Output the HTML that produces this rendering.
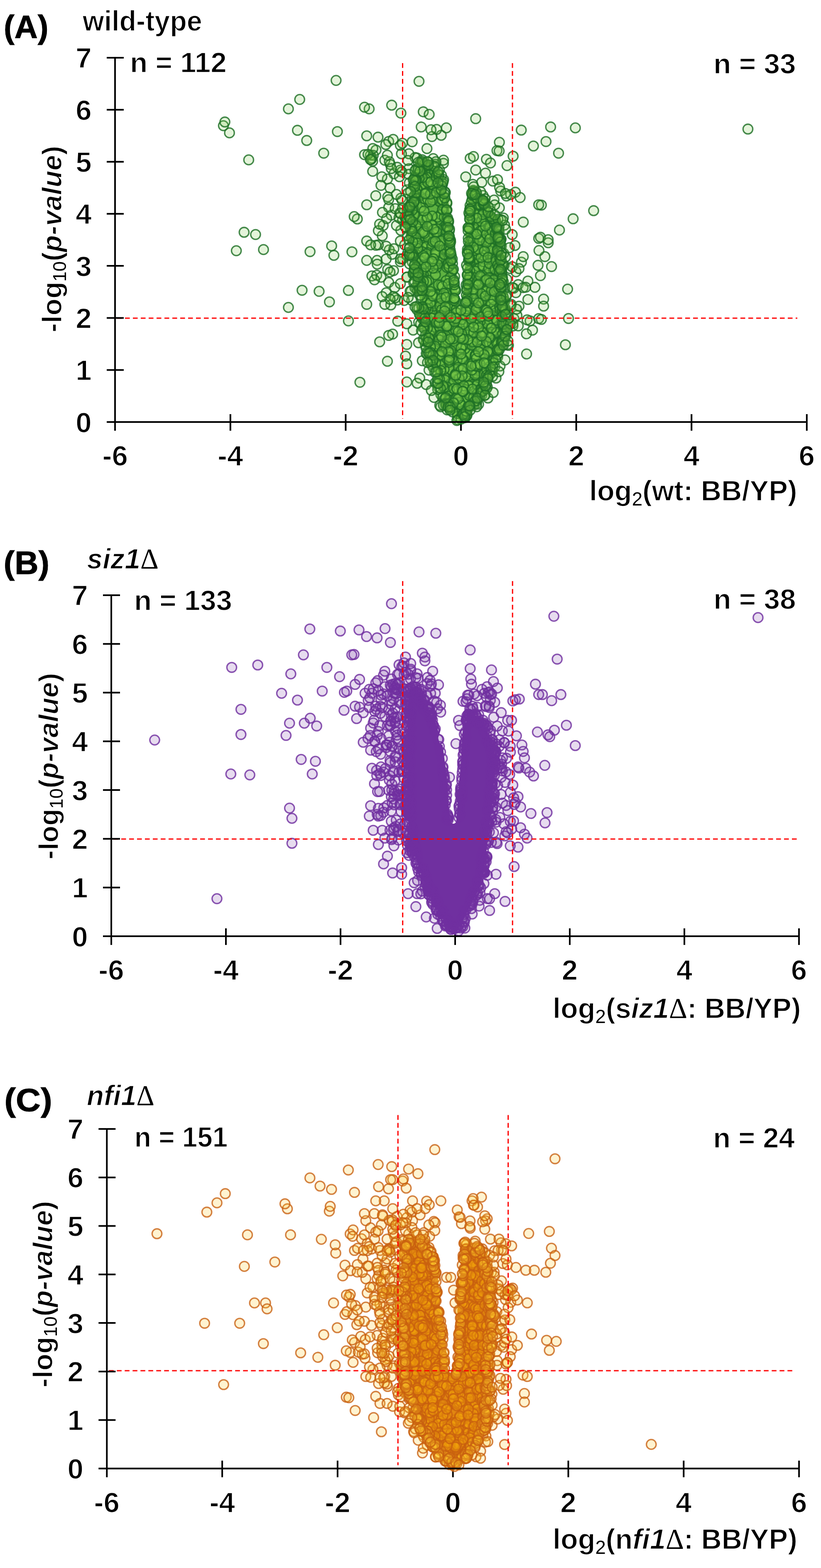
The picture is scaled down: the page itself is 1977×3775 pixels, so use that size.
<!DOCTYPE html>
<html><head><meta charset="utf-8"><style>
html,body{margin:0;padding:0;background:#fff;}
svg{display:block;}
</style></head><body>
<svg width="1977" height="3775" viewBox="0 0 1977 3775">
<rect width="1977" height="3775" fill="#fff"/>
<g stroke="#000" stroke-width="4" fill="none">
<line x1="554.8" y1="997" x2="554.8" y2="1037"/>
<line x1="832.4" y1="997" x2="832.4" y2="1037"/>
<line x1="1110.0" y1="997" x2="1110.0" y2="1037"/>
</g><path d="M1074.1,455.7 1073.1,455.5 1072.2,455.1 1071.3,454.7 1070.5,454.2 1069.7,453.6 1069.0,453.0 1068.4,452.3 1067.8,451.5 1067.3,450.7 1066.9,449.8 1066.5,448.9 1054.5,409.9 1040.3,393.5 1015.8,387.6 1005.0,399.5 993.8,458.4 984.0,518.9 986.9,609.2 1008.6,701.8 1008.7,702.2 1008.8,702.5 1008.9,703.2 1008.9,703.5 1009.0,703.9 1013.9,768.0 1028.6,836.6 1045.5,896.2 1045.5,896.2 1045.5,896.2 1045.5,896.2 1059.3,945.6 1068.4,969.3 1084.8,992.1 1098.9,1007.0 1110.0,1013.7 1119.8,1007.8 1130.0,990.8 1130.2,990.5 1130.3,990.3 1130.5,990.0 1148.4,964.1 1165.8,938.1 1179.3,909.1 1197.0,870.8 1212.3,825.9 1218.9,766.8 1214.1,706.2 1208.1,643.3 1208.0,643.2 1208.0,643.1 1208.0,642.9 1204.1,581.8 1192.8,523.6 1169.0,489.8 1142.2,460.1 1139.4,458.6 1137.1,462.0 1136.6,462.8 1135.9,463.6 1135.1,464.2 1134.3,464.8 1133.5,465.3 1132.6,465.7 1131.6,466.1 1130.7,466.3 1130.4,466.3 1125.0,503.8 1119.7,557.2 1121.5,609.8 1121.5,610.5 1119.0,646.4 1117.8,681.2 1116.5,735.2 1116.4,735.8 1116.3,736.5 1116.2,737.2 1115.9,737.8 1115.6,738.4 1115.3,739.0 1114.9,739.5 1114.4,740.0 1113.9,740.5 1113.3,740.9 1112.8,741.2 1112.1,741.5 1111.5,741.7 1110.8,741.9 1110.2,742.0 1109.5,742.0 1108.8,742.0 1108.2,741.9 1107.5,741.7 1106.9,741.5 1106.2,741.2 1105.7,740.9 1105.1,740.5 1104.6,740.0 1104.1,739.5 1103.7,739.0 1103.4,738.4 1103.1,737.8 1102.8,737.2 1102.7,736.5 1102.6,735.8 1102.5,735.2 1101.2,681.4 1098.6,646.9 1091.6,611.3 1091.5,610.5 1088.0,557.6 1082.7,503.9 1074.7,455.8 1074.1,455.7Z" fill="rgb(95,178,65)"/>
<g fill="rgba(125,205,75,0.35)" stroke="rgba(30,112,38,0.82)" stroke-width="3.3">
<circle cx="1021.6" cy="758.5" r="11.7"/><circle cx="1181.6" cy="523.8" r="11.7"/><circle cx="1131.2" cy="848.9" r="11.7"/><circle cx="1042.7" cy="479.2" r="11.7"/><circle cx="992.3" cy="538.3" r="11.7"/><circle cx="1020.6" cy="645.9" r="11.7"/><circle cx="1137.1" cy="630.0" r="11.7"/><circle cx="1035.8" cy="558.0" r="11.7"/><circle cx="1173.4" cy="558.1" r="11.7"/><circle cx="1017.7" cy="748.2" r="11.7"/><circle cx="1135.9" cy="902.8" r="11.7"/><circle cx="1159.0" cy="913.0" r="11.7"/><circle cx="1100.5" cy="912.2" r="11.7"/><circle cx="1052.0" cy="616.6" r="11.7"/><circle cx="1136.9" cy="747.7" r="11.7"/><circle cx="1176.5" cy="831.9" r="11.7"/><circle cx="1178.0" cy="726.4" r="11.7"/><circle cx="1138.6" cy="528.6" r="11.7"/><circle cx="1065.4" cy="956.7" r="11.7"/><circle cx="1074.3" cy="635.5" r="11.7"/><circle cx="1084.5" cy="889.9" r="11.7"/><circle cx="1069.6" cy="562.5" r="11.7"/><circle cx="1069.0" cy="546.5" r="11.7"/><circle cx="1154.9" cy="562.7" r="11.7"/><circle cx="1164.6" cy="516.8" r="11.7"/><circle cx="1056.5" cy="772.8" r="11.7"/><circle cx="1139.9" cy="661.3" r="11.7"/><circle cx="1199.6" cy="598.4" r="11.7"/><circle cx="1068.5" cy="508.4" r="11.7"/><circle cx="1062.5" cy="783.8" r="11.7"/><circle cx="1148.1" cy="530.4" r="11.7"/><circle cx="1170.3" cy="669.6" r="11.7"/><circle cx="1027.7" cy="423.1" r="11.7"/><circle cx="988.2" cy="502.9" r="11.7"/><circle cx="1179.5" cy="678.5" r="11.7"/><circle cx="1038.8" cy="578.1" r="11.7"/><circle cx="1030.3" cy="708.3" r="11.7"/><circle cx="1075.2" cy="969.6" r="11.7"/><circle cx="1168.7" cy="710.2" r="11.7"/><circle cx="1069.8" cy="575.3" r="11.7"/><circle cx="990.6" cy="561.3" r="11.7"/><circle cx="1055.2" cy="427.6" r="11.7"/><circle cx="1054.2" cy="777.3" r="11.7"/><circle cx="1019.7" cy="662.2" r="11.7"/><circle cx="991.1" cy="573.2" r="11.7"/><circle cx="1074.2" cy="541.4" r="11.7"/><circle cx="1098.3" cy="899.0" r="11.7"/><circle cx="1080.8" cy="947.9" r="11.7"/><circle cx="1161.3" cy="569.0" r="11.7"/><circle cx="1161.5" cy="792.9" r="11.7"/><circle cx="1069.7" cy="772.1" r="11.7"/><circle cx="1075.1" cy="706.0" r="11.7"/><circle cx="1172.0" cy="579.0" r="11.7"/><circle cx="1014.9" cy="643.7" r="11.7"/><circle cx="994.1" cy="607.6" r="11.7"/><circle cx="1151.6" cy="908.9" r="11.7"/><circle cx="1056.2" cy="775.7" r="11.7"/><circle cx="1036.2" cy="754.9" r="11.7"/><circle cx="1015.2" cy="762.0" r="11.7"/><circle cx="1083.2" cy="781.5" r="11.7"/><circle cx="1093.9" cy="820.6" r="11.7"/><circle cx="1074.8" cy="626.6" r="11.7"/><circle cx="1025.4" cy="620.4" r="11.7"/><circle cx="1059.8" cy="455.7" r="11.7"/><circle cx="1015.9" cy="738.7" r="11.7"/><circle cx="1162.4" cy="578.4" r="11.7"/><circle cx="1177.8" cy="563.8" r="11.7"/><circle cx="1196.5" cy="691.0" r="11.7"/><circle cx="1084.1" cy="759.2" r="11.7"/><circle cx="1065.2" cy="744.4" r="11.7"/><circle cx="1083.9" cy="638.1" r="11.7"/><circle cx="1099.9" cy="937.9" r="11.7"/><circle cx="1095.8" cy="939.6" r="11.7"/><circle cx="1043.0" cy="481.1" r="11.7"/><circle cx="1153.2" cy="732.0" r="11.7"/><circle cx="1208.7" cy="832.3" r="11.7"/><circle cx="1001.0" cy="541.6" r="11.7"/><circle cx="1061.4" cy="516.3" r="11.7"/><circle cx="1154.1" cy="873.6" r="11.7"/><circle cx="1073.8" cy="731.9" r="11.7"/><circle cx="1016.4" cy="392.9" r="11.7"/><circle cx="1115.3" cy="785.8" r="11.7"/><circle cx="1188.7" cy="648.8" r="11.7"/><circle cx="1066.6" cy="746.3" r="11.7"/><circle cx="1173.5" cy="558.3" r="11.7"/><circle cx="997.6" cy="473.6" r="11.7"/><circle cx="1084.6" cy="722.0" r="11.7"/><circle cx="1193.3" cy="529.5" r="11.7"/><circle cx="1141.2" cy="891.6" r="11.7"/><circle cx="1210.7" cy="710.7" r="11.7"/><circle cx="1051.9" cy="709.8" r="11.7"/><circle cx="1149.9" cy="518.3" r="11.7"/><circle cx="1129.4" cy="851.6" r="11.7"/><circle cx="1031.9" cy="418.2" r="11.7"/><circle cx="1165.0" cy="914.1" r="11.7"/><circle cx="1135.7" cy="694.2" r="11.7"/><circle cx="1176.0" cy="658.6" r="11.7"/><circle cx="1065.7" cy="785.3" r="11.7"/><circle cx="1157.7" cy="579.6" r="11.7"/><circle cx="1040.9" cy="400.2" r="11.7"/><circle cx="1062.3" cy="686.1" r="11.7"/><circle cx="1031.0" cy="590.9" r="11.7"/><circle cx="1065.7" cy="803.1" r="11.7"/><circle cx="1171.8" cy="611.9" r="11.7"/><circle cx="1127.2" cy="917.5" r="11.7"/><circle cx="1115.4" cy="866.3" r="11.7"/><circle cx="1095.3" cy="724.5" r="11.7"/><circle cx="1171.0" cy="591.1" r="11.7"/><circle cx="1014.6" cy="651.9" r="11.7"/><circle cx="1190.4" cy="670.1" r="11.7"/><circle cx="1175.7" cy="665.6" r="11.7"/><circle cx="1163.7" cy="645.9" r="11.7"/><circle cx="1100.9" cy="781.1" r="11.7"/><circle cx="1058.0" cy="787.5" r="11.7"/><circle cx="1101.2" cy="866.7" r="11.7"/><circle cx="1021.7" cy="635.8" r="11.7"/><circle cx="1079.4" cy="547.4" r="11.7"/><circle cx="1046.7" cy="561.6" r="11.7"/><circle cx="1175.0" cy="829.0" r="11.7"/><circle cx="1139.9" cy="625.8" r="11.7"/><circle cx="1184.6" cy="804.8" r="11.7"/><circle cx="1058.5" cy="743.7" r="11.7"/><circle cx="1119.4" cy="839.7" r="11.7"/><circle cx="1154.7" cy="938.7" r="11.7"/><circle cx="1031.0" cy="440.6" r="11.7"/><circle cx="1208.3" cy="657.6" r="11.7"/><circle cx="1146.7" cy="476.7" r="11.7"/><circle cx="1144.8" cy="854.2" r="11.7"/><circle cx="1042.6" cy="445.2" r="11.7"/><circle cx="1162.3" cy="606.2" r="11.7"/><circle cx="1177.0" cy="622.2" r="11.7"/><circle cx="1027.1" cy="814.2" r="11.7"/><circle cx="1055.7" cy="745.8" r="11.7"/><circle cx="1187.6" cy="741.2" r="11.7"/><circle cx="1186.1" cy="766.8" r="11.7"/><circle cx="1069.7" cy="906.3" r="11.7"/><circle cx="1203.7" cy="668.2" r="11.7"/><circle cx="1158.8" cy="896.0" r="11.7"/><circle cx="1093.7" cy="866.8" r="11.7"/><circle cx="1211.7" cy="790.0" r="11.7"/><circle cx="1066.4" cy="589.0" r="11.7"/><circle cx="1084.4" cy="688.8" r="11.7"/><circle cx="1083.1" cy="812.2" r="11.7"/><circle cx="1038.8" cy="469.3" r="11.7"/><circle cx="1036.3" cy="833.1" r="11.7"/><circle cx="1078.8" cy="849.1" r="11.7"/><circle cx="1082.5" cy="810.6" r="11.7"/><circle cx="1196.2" cy="823.0" r="11.7"/><circle cx="1126.4" cy="906.7" r="11.7"/><circle cx="1040.0" cy="753.0" r="11.7"/><circle cx="1100.2" cy="865.3" r="11.7"/><circle cx="1177.9" cy="566.4" r="11.7"/><circle cx="1066.0" cy="849.6" r="11.7"/><circle cx="1142.0" cy="685.6" r="11.7"/><circle cx="1064.9" cy="927.8" r="11.7"/><circle cx="1061.3" cy="872.5" r="11.7"/><circle cx="1121.3" cy="905.7" r="11.7"/><circle cx="1078.9" cy="734.1" r="11.7"/><circle cx="1086.9" cy="745.0" r="11.7"/><circle cx="1154.4" cy="825.5" r="11.7"/><circle cx="1103.7" cy="884.0" r="11.7"/><circle cx="1094.8" cy="665.9" r="11.7"/><circle cx="1073.5" cy="939.3" r="11.7"/><circle cx="1166.9" cy="673.2" r="11.7"/><circle cx="1060.1" cy="616.9" r="11.7"/><circle cx="1018.4" cy="669.6" r="11.7"/><circle cx="1082.6" cy="962.7" r="11.7"/><circle cx="1156.5" cy="832.4" r="11.7"/><circle cx="1078.1" cy="756.9" r="11.7"/><circle cx="1056.6" cy="615.0" r="11.7"/><circle cx="1157.9" cy="493.6" r="11.7"/><circle cx="996.8" cy="448.4" r="11.7"/><circle cx="1011.5" cy="541.0" r="11.7"/><circle cx="1070.8" cy="474.6" r="11.7"/><circle cx="1109.5" cy="976.4" r="11.7"/><circle cx="1081.5" cy="831.9" r="11.7"/><circle cx="1090.3" cy="650.4" r="11.7"/><circle cx="1064.4" cy="483.8" r="11.7"/><circle cx="1003.1" cy="643.6" r="11.7"/><circle cx="1186.0" cy="891.9" r="11.7"/><circle cx="1012.2" cy="471.6" r="11.7"/><circle cx="1180.5" cy="790.1" r="11.7"/><circle cx="1082.9" cy="824.8" r="11.7"/><circle cx="1044.4" cy="737.1" r="11.7"/><circle cx="1018.1" cy="455.4" r="11.7"/><circle cx="1010.3" cy="697.5" r="11.7"/><circle cx="1206.9" cy="706.1" r="11.7"/><circle cx="1087.6" cy="806.4" r="11.7"/><circle cx="1109.4" cy="924.5" r="11.7"/><circle cx="1044.6" cy="841.3" r="11.7"/><circle cx="1164.5" cy="623.6" r="11.7"/><circle cx="1081.8" cy="846.4" r="11.7"/><circle cx="1163.4" cy="514.6" r="11.7"/><circle cx="1178.4" cy="760.4" r="11.7"/><circle cx="1060.7" cy="824.2" r="11.7"/><circle cx="1077.8" cy="801.1" r="11.7"/><circle cx="1180.0" cy="805.1" r="11.7"/><circle cx="1154.0" cy="817.0" r="11.7"/><circle cx="1071.6" cy="915.1" r="11.7"/><circle cx="1122.3" cy="991.2" r="11.7"/><circle cx="1116.6" cy="965.5" r="11.7"/><circle cx="1196.1" cy="824.3" r="11.7"/><circle cx="1175.5" cy="548.0" r="11.7"/><circle cx="1067.4" cy="495.8" r="11.7"/><circle cx="1131.7" cy="746.8" r="11.7"/><circle cx="1048.0" cy="612.2" r="11.7"/><circle cx="1029.2" cy="767.5" r="11.7"/><circle cx="1095.0" cy="790.0" r="11.7"/><circle cx="1069.4" cy="889.2" r="11.7"/><circle cx="1011.3" cy="425.3" r="11.7"/><circle cx="1039.4" cy="766.3" r="11.7"/><circle cx="1007.8" cy="469.9" r="11.7"/><circle cx="1144.4" cy="653.0" r="11.7"/><circle cx="998.7" cy="639.7" r="11.7"/><circle cx="987.7" cy="548.1" r="11.7"/><circle cx="1114.3" cy="831.3" r="11.7"/><circle cx="1110.5" cy="890.7" r="11.7"/><circle cx="1198.4" cy="860.0" r="11.7"/><circle cx="1014.4" cy="446.3" r="11.7"/><circle cx="1089.0" cy="822.9" r="11.7"/><circle cx="1058.7" cy="858.5" r="11.7"/><circle cx="1056.5" cy="632.7" r="11.7"/><circle cx="1104.8" cy="909.8" r="11.7"/><circle cx="1145.8" cy="746.5" r="11.7"/><circle cx="1199.3" cy="594.7" r="11.7"/><circle cx="1074.5" cy="837.9" r="11.7"/><circle cx="1135.0" cy="819.5" r="11.7"/><circle cx="1016.7" cy="561.4" r="11.7"/><circle cx="1138.9" cy="667.0" r="11.7"/><circle cx="1196.4" cy="689.8" r="11.7"/><circle cx="1024.7" cy="571.0" r="11.7"/><circle cx="1045.3" cy="622.8" r="11.7"/><circle cx="1132.6" cy="753.0" r="11.7"/><circle cx="1162.4" cy="809.2" r="11.7"/><circle cx="1160.0" cy="611.6" r="11.7"/><circle cx="1165.8" cy="702.4" r="11.7"/><circle cx="1140.6" cy="971.1" r="11.7"/><circle cx="1129.7" cy="691.1" r="11.7"/><circle cx="1072.2" cy="974.5" r="11.7"/><circle cx="1035.8" cy="635.3" r="11.7"/><circle cx="1142.0" cy="702.0" r="11.7"/><circle cx="1067.8" cy="585.2" r="11.7"/><circle cx="1166.0" cy="891.8" r="11.7"/><circle cx="1029.5" cy="734.8" r="11.7"/><circle cx="1147.9" cy="899.2" r="11.7"/><circle cx="1062.5" cy="877.2" r="11.7"/><circle cx="1159.0" cy="693.7" r="11.7"/><circle cx="1086.7" cy="615.8" r="11.7"/><circle cx="1017.1" cy="419.2" r="11.7"/><circle cx="1056.8" cy="829.9" r="11.7"/><circle cx="1051.0" cy="644.8" r="11.7"/><circle cx="1143.3" cy="569.6" r="11.7"/><circle cx="1132.1" cy="582.9" r="11.7"/><circle cx="1154.7" cy="482.7" r="11.7"/><circle cx="1128.9" cy="877.4" r="11.7"/><circle cx="1098.6" cy="786.9" r="11.7"/><circle cx="1057.9" cy="616.3" r="11.7"/><circle cx="1030.5" cy="745.3" r="11.7"/><circle cx="1075.8" cy="781.9" r="11.7"/><circle cx="1167.1" cy="875.2" r="11.7"/><circle cx="1082.9" cy="981.5" r="11.7"/><circle cx="1103.5" cy="753.2" r="11.7"/><circle cx="1172.2" cy="756.2" r="11.7"/><circle cx="1020.0" cy="590.7" r="11.7"/><circle cx="1197.3" cy="799.8" r="11.7"/><circle cx="1209.7" cy="720.8" r="11.7"/><circle cx="1147.6" cy="719.0" r="11.7"/><circle cx="1042.5" cy="708.7" r="11.7"/><circle cx="1025.5" cy="488.5" r="11.7"/><circle cx="1087.8" cy="653.3" r="11.7"/><circle cx="1184.4" cy="800.4" r="11.7"/><circle cx="1170.7" cy="697.1" r="11.7"/><circle cx="1112.8" cy="817.4" r="11.7"/><circle cx="1036.2" cy="807.6" r="11.7"/><circle cx="1128.6" cy="929.2" r="11.7"/><circle cx="1112.1" cy="781.8" r="11.7"/><circle cx="1141.4" cy="569.1" r="11.7"/><circle cx="1088.5" cy="652.9" r="11.7"/><circle cx="1182.7" cy="671.7" r="11.7"/><circle cx="1158.8" cy="725.1" r="11.7"/><circle cx="1085.9" cy="734.6" r="11.7"/><circle cx="1048.3" cy="617.9" r="11.7"/><circle cx="1130.2" cy="952.2" r="11.7"/><circle cx="1025.9" cy="564.3" r="11.7"/><circle cx="1113.3" cy="769.2" r="11.7"/><circle cx="1095.4" cy="906.6" r="11.7"/><circle cx="1186.3" cy="844.6" r="11.7"/><circle cx="1212.9" cy="724.2" r="11.7"/><circle cx="1206.9" cy="742.1" r="11.7"/><circle cx="1171.5" cy="662.9" r="11.7"/><circle cx="1053.7" cy="624.9" r="11.7"/><circle cx="1013.1" cy="499.3" r="11.7"/><circle cx="1135.2" cy="617.4" r="11.7"/><circle cx="1130.4" cy="752.9" r="11.7"/><circle cx="1005.8" cy="665.5" r="11.7"/><circle cx="1082.0" cy="736.8" r="11.7"/><circle cx="1081.2" cy="872.1" r="11.7"/><circle cx="1023.4" cy="783.3" r="11.7"/><circle cx="1192.8" cy="568.3" r="11.7"/><circle cx="1039.5" cy="765.5" r="11.7"/><circle cx="1115.6" cy="887.1" r="11.7"/><circle cx="1054.9" cy="557.7" r="11.7"/><circle cx="1061.1" cy="854.4" r="11.7"/><circle cx="1180.5" cy="648.5" r="11.7"/><circle cx="1172.8" cy="654.6" r="11.7"/><circle cx="1049.2" cy="462.4" r="11.7"/><circle cx="1202.7" cy="626.3" r="11.7"/><circle cx="1095.7" cy="694.8" r="11.7"/><circle cx="1173.8" cy="680.6" r="11.7"/><circle cx="1188.4" cy="649.1" r="11.7"/><circle cx="1025.6" cy="740.6" r="11.7"/><circle cx="1136.8" cy="574.2" r="11.7"/><circle cx="1040.1" cy="711.3" r="11.7"/><circle cx="1112.0" cy="936.1" r="11.7"/><circle cx="1084.8" cy="578.1" r="11.7"/><circle cx="1147.6" cy="735.3" r="11.7"/><circle cx="1152.1" cy="492.0" r="11.7"/><circle cx="1200.8" cy="727.7" r="11.7"/><circle cx="1074.8" cy="619.8" r="11.7"/><circle cx="1074.2" cy="522.5" r="11.7"/><circle cx="1130.6" cy="591.2" r="11.7"/><circle cx="988.6" cy="539.4" r="11.7"/><circle cx="1128.8" cy="604.0" r="11.7"/><circle cx="1173.8" cy="545.9" r="11.7"/><circle cx="1066.6" cy="825.3" r="11.7"/><circle cx="1041.5" cy="598.1" r="11.7"/><circle cx="1165.5" cy="694.5" r="11.7"/><circle cx="1018.0" cy="523.5" r="11.7"/><circle cx="1021.2" cy="747.9" r="11.7"/><circle cx="1056.1" cy="685.9" r="11.7"/><circle cx="1125.9" cy="738.8" r="11.7"/><circle cx="1142.3" cy="780.9" r="11.7"/><circle cx="1170.4" cy="872.8" r="11.7"/><circle cx="1193.8" cy="802.2" r="11.7"/><circle cx="1127.6" cy="737.7" r="11.7"/><circle cx="1188.5" cy="720.3" r="11.7"/><circle cx="998.9" cy="438.6" r="11.7"/><circle cx="1155.7" cy="875.7" r="11.7"/><circle cx="1171.4" cy="562.6" r="11.7"/><circle cx="1030.7" cy="566.9" r="11.7"/><circle cx="992.0" cy="614.2" r="11.7"/><circle cx="1074.1" cy="704.8" r="11.7"/><circle cx="1159.5" cy="677.0" r="11.7"/><circle cx="1130.6" cy="672.8" r="11.7"/><circle cx="1029.6" cy="398.1" r="11.7"/><circle cx="1196.1" cy="697.6" r="11.7"/><circle cx="1017.5" cy="595.4" r="11.7"/><circle cx="1044.3" cy="564.0" r="11.7"/><circle cx="1091.7" cy="920.3" r="11.7"/><circle cx="1142.8" cy="514.6" r="11.7"/><circle cx="1128.6" cy="928.3" r="11.7"/><circle cx="1055.0" cy="772.4" r="11.7"/><circle cx="1136.3" cy="831.2" r="11.7"/><circle cx="1178.8" cy="848.6" r="11.7"/><circle cx="1022.9" cy="479.1" r="11.7"/><circle cx="1180.2" cy="604.0" r="11.7"/><circle cx="995.2" cy="572.1" r="11.7"/><circle cx="1172.7" cy="700.3" r="11.7"/><circle cx="1070.3" cy="716.7" r="11.7"/><circle cx="1146.4" cy="961.3" r="11.7"/><circle cx="1088.0" cy="862.9" r="11.7"/><circle cx="1131.4" cy="652.5" r="11.7"/><circle cx="1072.3" cy="598.3" r="11.7"/><circle cx="1158.6" cy="667.1" r="11.7"/><circle cx="1082.7" cy="940.3" r="11.7"/><circle cx="1051.0" cy="430.1" r="11.7"/><circle cx="1027.7" cy="426.7" r="11.7"/><circle cx="1127.2" cy="659.1" r="11.7"/><circle cx="1188.8" cy="630.5" r="11.7"/><circle cx="1128.1" cy="547.5" r="11.7"/><circle cx="1027.4" cy="780.5" r="11.7"/><circle cx="1163.8" cy="542.0" r="11.7"/><circle cx="1057.1" cy="610.6" r="11.7"/><circle cx="1192.5" cy="585.8" r="11.7"/><circle cx="1091.6" cy="676.5" r="11.7"/><circle cx="1150.5" cy="749.7" r="11.7"/><circle cx="990.4" cy="569.6" r="11.7"/><circle cx="1177.1" cy="518.4" r="11.7"/><circle cx="1120.5" cy="937.8" r="11.7"/><circle cx="1152.4" cy="544.3" r="11.7"/><circle cx="1061.5" cy="949.9" r="11.7"/><circle cx="1050.2" cy="812.4" r="11.7"/><circle cx="1181.1" cy="563.7" r="11.7"/><circle cx="1076.4" cy="931.6" r="11.7"/><circle cx="1043.6" cy="472.2" r="11.7"/><circle cx="1190.6" cy="738.1" r="11.7"/><circle cx="1176.6" cy="759.2" r="11.7"/><circle cx="1146.9" cy="475.3" r="11.7"/><circle cx="1138.5" cy="713.3" r="11.7"/><circle cx="1030.1" cy="480.2" r="11.7"/><circle cx="1050.9" cy="776.1" r="11.7"/><circle cx="1105.8" cy="911.8" r="11.7"/><circle cx="1005.5" cy="456.6" r="11.7"/><circle cx="1047.9" cy="635.6" r="11.7"/><circle cx="1209.8" cy="750.7" r="11.7"/><circle cx="1031.2" cy="572.9" r="11.7"/><circle cx="1187.2" cy="868.1" r="11.7"/><circle cx="1071.2" cy="959.4" r="11.7"/><circle cx="1141.7" cy="941.3" r="11.7"/><circle cx="1201.5" cy="639.4" r="11.7"/><circle cx="1029.5" cy="721.2" r="11.7"/><circle cx="1147.1" cy="878.1" r="11.7"/><circle cx="1069.6" cy="598.5" r="11.7"/><circle cx="1106.7" cy="968.6" r="11.7"/><circle cx="1045.2" cy="470.6" r="11.7"/><circle cx="997.3" cy="651.3" r="11.7"/><circle cx="1055.5" cy="807.5" r="11.7"/><circle cx="1207.4" cy="807.4" r="11.7"/><circle cx="1053.2" cy="522.9" r="11.7"/><circle cx="1166.0" cy="601.0" r="11.7"/><circle cx="1016.7" cy="698.7" r="11.7"/><circle cx="1148.6" cy="701.2" r="11.7"/><circle cx="1150.3" cy="623.2" r="11.7"/><circle cx="1073.1" cy="551.2" r="11.7"/><circle cx="1060.7" cy="730.2" r="11.7"/><circle cx="1170.6" cy="533.0" r="11.7"/><circle cx="1151.2" cy="525.7" r="11.7"/><circle cx="1027.2" cy="526.6" r="11.7"/><circle cx="1117.9" cy="797.8" r="11.7"/><circle cx="1052.4" cy="627.6" r="11.7"/><circle cx="1075.7" cy="863.2" r="11.7"/><circle cx="1099.4" cy="743.4" r="11.7"/><circle cx="1083.7" cy="861.0" r="11.7"/><circle cx="1040.9" cy="541.6" r="11.7"/><circle cx="1085.7" cy="849.6" r="11.7"/><circle cx="1094.8" cy="697.2" r="11.7"/><circle cx="1179.3" cy="754.6" r="11.7"/><circle cx="1128.8" cy="783.5" r="11.7"/><circle cx="1046.7" cy="412.6" r="11.7"/><circle cx="1128.8" cy="797.9" r="11.7"/><circle cx="1063.1" cy="487.7" r="11.7"/><circle cx="1084.2" cy="668.0" r="11.7"/><circle cx="1076.1" cy="489.8" r="11.7"/><circle cx="1158.1" cy="706.6" r="11.7"/><circle cx="1074.2" cy="675.6" r="11.7"/><circle cx="1036.6" cy="636.0" r="11.7"/><circle cx="1105.7" cy="849.6" r="11.7"/><circle cx="1189.4" cy="818.4" r="11.7"/><circle cx="1215.7" cy="793.5" r="11.7"/><circle cx="1143.5" cy="747.2" r="11.7"/><circle cx="1095.8" cy="902.3" r="11.7"/><circle cx="1032.6" cy="630.6" r="11.7"/><circle cx="1007.9" cy="598.6" r="11.7"/><circle cx="1160.0" cy="849.1" r="11.7"/><circle cx="1018.4" cy="768.4" r="11.7"/><circle cx="1163.5" cy="629.7" r="11.7"/><circle cx="1187.8" cy="721.7" r="11.7"/><circle cx="1099.4" cy="831.8" r="11.7"/><circle cx="1185.2" cy="542.9" r="11.7"/><circle cx="1167.9" cy="499.2" r="11.7"/><circle cx="1120.2" cy="1005.7" r="11.7"/><circle cx="1026.1" cy="742.0" r="11.7"/><circle cx="1147.6" cy="812.6" r="11.7"/><circle cx="1196.2" cy="800.3" r="11.7"/><circle cx="1070.1" cy="553.0" r="11.7"/><circle cx="1190.3" cy="682.9" r="11.7"/><circle cx="1144.3" cy="902.5" r="11.7"/><circle cx="1165.5" cy="800.8" r="11.7"/><circle cx="1213.7" cy="812.1" r="11.7"/><circle cx="1092.7" cy="935.5" r="11.7"/><circle cx="1111.5" cy="976.0" r="11.7"/><circle cx="1014.7" cy="403.0" r="11.7"/><circle cx="1149.1" cy="926.9" r="11.7"/><circle cx="1058.2" cy="485.1" r="11.7"/><circle cx="1026.7" cy="593.5" r="11.7"/><circle cx="1136.2" cy="890.9" r="11.7"/><circle cx="1113.0" cy="905.1" r="11.7"/><circle cx="1014.5" cy="699.7" r="11.7"/><circle cx="1002.8" cy="606.1" r="11.7"/><circle cx="1053.4" cy="593.7" r="11.7"/><circle cx="1061.8" cy="581.3" r="11.7"/><circle cx="1113.6" cy="809.7" r="11.7"/><circle cx="1023.0" cy="429.1" r="11.7"/><circle cx="1029.8" cy="439.1" r="11.7"/><circle cx="1015.7" cy="529.8" r="11.7"/><circle cx="1168.2" cy="745.5" r="11.7"/><circle cx="1113.5" cy="863.8" r="11.7"/><circle cx="1162.6" cy="639.6" r="11.7"/><circle cx="1157.5" cy="571.1" r="11.7"/><circle cx="1067.0" cy="483.0" r="11.7"/><circle cx="1126.9" cy="548.1" r="11.7"/><circle cx="1156.4" cy="807.1" r="11.7"/><circle cx="1023.9" cy="751.6" r="11.7"/><circle cx="1042.3" cy="475.3" r="11.7"/><circle cx="1161.5" cy="786.0" r="11.7"/><circle cx="1126.9" cy="713.5" r="11.7"/><circle cx="1157.8" cy="841.3" r="11.7"/><circle cx="998.2" cy="439.2" r="11.7"/><circle cx="1197.4" cy="666.3" r="11.7"/><circle cx="1134.7" cy="603.7" r="11.7"/><circle cx="1176.8" cy="646.6" r="11.7"/><circle cx="1149.7" cy="791.8" r="11.7"/><circle cx="1138.5" cy="823.3" r="11.7"/><circle cx="1035.6" cy="807.3" r="11.7"/><circle cx="1076.4" cy="505.7" r="11.7"/><circle cx="1012.5" cy="425.6" r="11.7"/><circle cx="1149.7" cy="823.5" r="11.7"/><circle cx="1054.2" cy="587.8" r="11.7"/><circle cx="1148.3" cy="677.0" r="11.7"/><circle cx="1054.1" cy="606.2" r="11.7"/><circle cx="1110.2" cy="837.7" r="11.7"/><circle cx="1174.0" cy="778.8" r="11.7"/><circle cx="1015.2" cy="626.2" r="11.7"/><circle cx="1139.9" cy="579.7" r="11.7"/><circle cx="995.0" cy="502.0" r="11.7"/><circle cx="1156.6" cy="555.5" r="11.7"/><circle cx="1178.3" cy="561.7" r="11.7"/><circle cx="1164.0" cy="614.8" r="11.7"/><circle cx="1090.2" cy="965.6" r="11.7"/><circle cx="1132.1" cy="628.9" r="11.7"/><circle cx="1041.0" cy="520.1" r="11.7"/><circle cx="1095.3" cy="773.3" r="11.7"/><circle cx="1069.0" cy="933.1" r="11.7"/><circle cx="1131.9" cy="494.6" r="11.7"/><circle cx="1074.8" cy="718.5" r="11.7"/><circle cx="1059.6" cy="736.9" r="11.7"/><circle cx="1086.0" cy="625.2" r="11.7"/><circle cx="1147.0" cy="879.7" r="11.7"/><circle cx="1193.4" cy="559.5" r="11.7"/><circle cx="1199.0" cy="615.7" r="11.7"/><circle cx="1211.9" cy="687.1" r="11.7"/><circle cx="1014.8" cy="656.0" r="11.7"/><circle cx="1142.9" cy="760.8" r="11.7"/><circle cx="1039.2" cy="541.1" r="11.7"/><circle cx="1058.2" cy="912.3" r="11.7"/><circle cx="1149.5" cy="563.7" r="11.7"/><circle cx="1041.2" cy="481.8" r="11.7"/><circle cx="1032.5" cy="675.0" r="11.7"/><circle cx="1084.1" cy="758.7" r="11.7"/><circle cx="1134.8" cy="499.6" r="11.7"/><circle cx="1099.7" cy="957.8" r="11.7"/><circle cx="1185.8" cy="825.9" r="11.7"/><circle cx="998.3" cy="451.6" r="11.7"/><circle cx="1036.1" cy="729.0" r="11.7"/><circle cx="1009.4" cy="557.6" r="11.7"/><circle cx="1184.3" cy="598.2" r="11.7"/><circle cx="1086.0" cy="771.5" r="11.7"/><circle cx="1037.8" cy="797.2" r="11.7"/><circle cx="1028.9" cy="523.4" r="11.7"/><circle cx="1044.3" cy="627.6" r="11.7"/><circle cx="1177.8" cy="668.4" r="11.7"/><circle cx="1081.7" cy="860.1" r="11.7"/><circle cx="1174.0" cy="846.5" r="11.7"/><circle cx="1006.3" cy="651.3" r="11.7"/><circle cx="1016.8" cy="427.7" r="11.7"/><circle cx="1097.2" cy="903.6" r="11.7"/><circle cx="1199.6" cy="825.2" r="11.7"/><circle cx="1002.5" cy="543.6" r="11.7"/><circle cx="1164.1" cy="887.8" r="11.7"/><circle cx="1065.3" cy="689.2" r="11.7"/><circle cx="1042.3" cy="712.6" r="11.7"/><circle cx="1138.5" cy="706.9" r="11.7"/><circle cx="1143.8" cy="856.0" r="11.7"/><circle cx="1051.3" cy="605.0" r="11.7"/><circle cx="1125.2" cy="718.0" r="11.7"/><circle cx="1069.0" cy="599.2" r="11.7"/><circle cx="1058.9" cy="622.3" r="11.7"/><circle cx="1075.2" cy="974.8" r="11.7"/><circle cx="1196.4" cy="826.5" r="11.7"/><circle cx="1161.6" cy="943.1" r="11.7"/><circle cx="1142.0" cy="768.2" r="11.7"/><circle cx="1027.3" cy="678.2" r="11.7"/><circle cx="1145.7" cy="856.4" r="11.7"/><circle cx="1039.7" cy="593.0" r="11.7"/><circle cx="1147.0" cy="612.3" r="11.7"/><circle cx="1099.1" cy="742.9" r="11.7"/><circle cx="1180.7" cy="813.7" r="11.7"/><circle cx="1083.0" cy="983.6" r="11.7"/><circle cx="1061.6" cy="807.0" r="11.7"/><circle cx="1091.4" cy="794.4" r="11.7"/><circle cx="1169.0" cy="712.6" r="11.7"/><circle cx="1198.5" cy="853.5" r="11.7"/><circle cx="1137.9" cy="762.9" r="11.7"/><circle cx="1166.1" cy="863.5" r="11.7"/><circle cx="1197.5" cy="681.6" r="11.7"/><circle cx="1024.8" cy="464.7" r="11.7"/><circle cx="1081.9" cy="603.5" r="11.7"/><circle cx="1096.8" cy="794.5" r="11.7"/><circle cx="1083.2" cy="591.3" r="11.7"/><circle cx="1152.8" cy="682.9" r="11.7"/><circle cx="1079.5" cy="682.9" r="11.7"/><circle cx="1158.4" cy="620.1" r="11.7"/><circle cx="1137.3" cy="478.3" r="11.7"/><circle cx="1183.2" cy="732.6" r="11.7"/><circle cx="1029.3" cy="607.8" r="11.7"/><circle cx="1057.7" cy="818.0" r="11.7"/><circle cx="1165.4" cy="491.7" r="11.7"/><circle cx="1157.1" cy="943.4" r="11.7"/><circle cx="1137.7" cy="757.8" r="11.7"/><circle cx="1047.2" cy="613.4" r="11.7"/><circle cx="1183.4" cy="699.6" r="11.7"/><circle cx="1126.7" cy="817.7" r="11.7"/><circle cx="1019.7" cy="677.8" r="11.7"/><circle cx="1208.1" cy="648.4" r="11.7"/><circle cx="1130.7" cy="666.4" r="11.7"/><circle cx="1178.4" cy="634.6" r="11.7"/><circle cx="1068.9" cy="706.4" r="11.7"/><circle cx="1000.5" cy="584.7" r="11.7"/><circle cx="1156.2" cy="664.3" r="11.7"/><circle cx="1037.1" cy="847.8" r="11.7"/><circle cx="1021.1" cy="507.8" r="11.7"/><circle cx="1191.8" cy="648.3" r="11.7"/><circle cx="1070.1" cy="779.1" r="11.7"/><circle cx="1080.5" cy="784.4" r="11.7"/><circle cx="1156.3" cy="773.9" r="11.7"/><circle cx="1137.9" cy="875.4" r="11.7"/><circle cx="1112.1" cy="803.4" r="11.7"/><circle cx="1140.5" cy="956.2" r="11.7"/><circle cx="1061.8" cy="434.9" r="11.7"/><circle cx="1085.3" cy="844.1" r="11.7"/><circle cx="1063.1" cy="579.3" r="11.7"/><circle cx="1116.4" cy="816.5" r="11.7"/><circle cx="1157.0" cy="936.7" r="11.7"/><circle cx="1069.7" cy="522.7" r="11.7"/><circle cx="1191.6" cy="747.9" r="11.7"/><circle cx="1079.7" cy="640.0" r="11.7"/><circle cx="1063.2" cy="745.8" r="11.7"/><circle cx="1166.5" cy="527.7" r="11.7"/><circle cx="1075.3" cy="786.1" r="11.7"/><circle cx="1142.3" cy="603.2" r="11.7"/><circle cx="1033.3" cy="814.0" r="11.7"/><circle cx="1056.2" cy="932.8" r="11.7"/><circle cx="1178.1" cy="811.5" r="11.7"/><circle cx="1132.0" cy="623.6" r="11.7"/><circle cx="1103.3" cy="960.1" r="11.7"/><circle cx="1161.5" cy="554.3" r="11.7"/><circle cx="1041.9" cy="871.8" r="11.7"/><circle cx="1058.2" cy="855.6" r="11.7"/><circle cx="1062.5" cy="718.6" r="11.7"/><circle cx="989.3" cy="494.3" r="11.7"/><circle cx="1097.7" cy="725.8" r="11.7"/><circle cx="997.7" cy="517.9" r="11.7"/><circle cx="1168.3" cy="675.1" r="11.7"/><circle cx="1150.1" cy="882.5" r="11.7"/><circle cx="988.0" cy="547.8" r="11.7"/><circle cx="1063.7" cy="480.4" r="11.7"/><circle cx="1120.4" cy="757.9" r="11.7"/><circle cx="1021.2" cy="556.4" r="11.7"/><circle cx="1188.5" cy="674.1" r="11.7"/><circle cx="1196.4" cy="771.0" r="11.7"/><circle cx="1171.3" cy="584.0" r="11.7"/><circle cx="1171.5" cy="747.4" r="11.7"/><circle cx="1158.9" cy="532.8" r="11.7"/><circle cx="1016.8" cy="606.0" r="11.7"/><circle cx="1048.2" cy="612.3" r="11.7"/><circle cx="1022.0" cy="561.6" r="11.7"/><circle cx="1203.1" cy="739.0" r="11.7"/><circle cx="1151.5" cy="599.9" r="11.7"/><circle cx="1076.3" cy="644.0" r="11.7"/><circle cx="1036.5" cy="485.8" r="11.7"/><circle cx="1147.2" cy="862.6" r="11.7"/><circle cx="1036.4" cy="467.2" r="11.7"/><circle cx="1183.8" cy="897.6" r="11.7"/><circle cx="1177.2" cy="547.6" r="11.7"/><circle cx="1166.5" cy="604.9" r="11.7"/><circle cx="1154.5" cy="578.9" r="11.7"/><circle cx="1140.7" cy="800.4" r="11.7"/><circle cx="1021.9" cy="760.2" r="11.7"/><circle cx="1140.1" cy="696.6" r="11.7"/><circle cx="1179.9" cy="547.7" r="11.7"/><circle cx="1018.2" cy="559.1" r="11.7"/><circle cx="1123.0" cy="710.3" r="11.7"/><circle cx="1203.6" cy="716.8" r="11.7"/><circle cx="1076.0" cy="785.1" r="11.7"/><circle cx="1002.4" cy="643.8" r="11.7"/><circle cx="1165.6" cy="901.1" r="11.7"/><circle cx="1149.6" cy="878.3" r="11.7"/><circle cx="1119.3" cy="758.6" r="11.7"/><circle cx="1171.2" cy="822.4" r="11.7"/><circle cx="1162.1" cy="516.7" r="11.7"/><circle cx="1059.7" cy="760.1" r="11.7"/><circle cx="1196.8" cy="577.9" r="11.7"/><circle cx="1165.9" cy="854.1" r="11.7"/><circle cx="1150.8" cy="780.7" r="11.7"/><circle cx="1140.0" cy="595.3" r="11.7"/><circle cx="1144.3" cy="880.8" r="11.7"/><circle cx="1093.4" cy="723.3" r="11.7"/><circle cx="1124.2" cy="743.9" r="11.7"/><circle cx="1202.7" cy="684.3" r="11.7"/><circle cx="1001.4" cy="571.4" r="11.7"/><circle cx="1077.3" cy="819.2" r="11.7"/><circle cx="1115.0" cy="780.9" r="11.7"/><circle cx="991.5" cy="490.2" r="11.7"/><circle cx="1052.6" cy="550.8" r="11.7"/><circle cx="1051.0" cy="463.9" r="11.7"/><circle cx="1027.4" cy="611.4" r="11.7"/><circle cx="1000.9" cy="611.6" r="11.7"/><circle cx="1171.4" cy="563.5" r="11.7"/><circle cx="1064.4" cy="446.3" r="11.7"/><circle cx="1121.5" cy="728.4" r="11.7"/><circle cx="1155.9" cy="877.6" r="11.7"/><circle cx="1072.8" cy="828.3" r="11.7"/><circle cx="1066.7" cy="928.8" r="11.7"/><circle cx="1201.3" cy="696.0" r="11.7"/><circle cx="1185.1" cy="556.7" r="11.7"/><circle cx="1162.2" cy="801.0" r="11.7"/><circle cx="1147.4" cy="563.5" r="11.7"/><circle cx="1051.4" cy="558.6" r="11.7"/><circle cx="1140.7" cy="719.3" r="11.7"/><circle cx="1036.5" cy="701.9" r="11.7"/><circle cx="1025.1" cy="396.7" r="11.7"/><circle cx="1175.1" cy="619.7" r="11.7"/><circle cx="1152.2" cy="685.4" r="11.7"/><circle cx="1134.7" cy="767.8" r="11.7"/><circle cx="1047.4" cy="833.3" r="11.7"/><circle cx="1098.8" cy="752.5" r="11.7"/><circle cx="1088.1" cy="979.1" r="11.7"/><circle cx="1116.7" cy="929.0" r="11.7"/><circle cx="1110.4" cy="852.4" r="11.7"/><circle cx="1036.9" cy="835.0" r="11.7"/><circle cx="1150.2" cy="946.4" r="11.7"/><circle cx="1080.0" cy="847.0" r="11.7"/><circle cx="1044.9" cy="552.0" r="11.7"/><circle cx="1042.8" cy="582.4" r="11.7"/><circle cx="1152.1" cy="846.5" r="11.7"/><circle cx="1019.7" cy="615.6" r="11.7"/><circle cx="1081.6" cy="867.2" r="11.7"/><circle cx="1190.4" cy="702.1" r="11.7"/><circle cx="1022.4" cy="620.2" r="11.7"/><circle cx="1122.1" cy="749.3" r="11.7"/><circle cx="1048.7" cy="607.9" r="11.7"/><circle cx="1147.2" cy="466.7" r="11.7"/><circle cx="1152.7" cy="789.1" r="11.7"/><circle cx="1072.3" cy="738.7" r="11.7"/><circle cx="1146.6" cy="745.2" r="11.7"/><circle cx="1164.0" cy="927.3" r="11.7"/><circle cx="1084.2" cy="629.8" r="11.7"/><circle cx="1157.7" cy="763.0" r="11.7"/><circle cx="1048.0" cy="581.0" r="11.7"/><circle cx="1115.5" cy="942.7" r="11.7"/><circle cx="1147.9" cy="524.9" r="11.7"/><circle cx="1005.8" cy="598.1" r="11.7"/><circle cx="1204.0" cy="746.0" r="11.7"/><circle cx="1194.4" cy="622.7" r="11.7"/><circle cx="1108.8" cy="813.5" r="11.7"/><circle cx="1005.1" cy="585.0" r="11.7"/><circle cx="1023.5" cy="466.5" r="11.7"/><circle cx="1100.4" cy="936.4" r="11.7"/><circle cx="1036.3" cy="854.8" r="11.7"/><circle cx="1094.7" cy="774.8" r="11.7"/><circle cx="1175.8" cy="761.1" r="11.7"/><circle cx="1070.6" cy="748.9" r="11.7"/><circle cx="1092.1" cy="970.0" r="11.7"/><circle cx="1065.5" cy="504.2" r="11.7"/><circle cx="1052.4" cy="416.6" r="11.7"/><circle cx="1075.5" cy="599.5" r="11.7"/><circle cx="1123.4" cy="638.4" r="11.7"/><circle cx="1101.9" cy="1002.5" r="11.7"/><circle cx="1048.6" cy="661.4" r="11.7"/><circle cx="1181.4" cy="507.8" r="11.7"/><circle cx="1053.3" cy="636.3" r="11.7"/><circle cx="1179.7" cy="574.9" r="11.7"/><circle cx="1109.8" cy="747.0" r="11.7"/><circle cx="1091.2" cy="815.9" r="11.7"/><circle cx="1029.3" cy="790.6" r="11.7"/><circle cx="1171.6" cy="673.0" r="11.7"/><circle cx="1139.9" cy="462.5" r="11.7"/><circle cx="1097.8" cy="766.8" r="11.7"/><circle cx="1174.6" cy="752.1" r="11.7"/><circle cx="1079.2" cy="634.9" r="11.7"/><circle cx="1094.3" cy="718.7" r="11.7"/><circle cx="1194.1" cy="628.5" r="11.7"/><circle cx="1075.4" cy="546.0" r="11.7"/><circle cx="1069.7" cy="612.4" r="11.7"/><circle cx="1061.3" cy="892.2" r="11.7"/><circle cx="1140.5" cy="787.6" r="11.7"/><circle cx="1042.9" cy="645.7" r="11.7"/><circle cx="1083.5" cy="816.3" r="11.7"/><circle cx="1043.9" cy="623.1" r="11.7"/><circle cx="1211.8" cy="750.4" r="11.7"/><circle cx="1172.1" cy="889.2" r="11.7"/><circle cx="1134.5" cy="881.4" r="11.7"/><circle cx="1074.1" cy="715.1" r="11.7"/><circle cx="1064.4" cy="846.5" r="11.7"/><circle cx="1137.5" cy="936.5" r="11.7"/><circle cx="1159.7" cy="808.9" r="11.7"/><circle cx="1209.1" cy="722.1" r="11.7"/><circle cx="1103.7" cy="798.5" r="11.7"/><circle cx="1131.0" cy="504.6" r="11.7"/><circle cx="1057.6" cy="777.1" r="11.7"/><circle cx="1040.6" cy="629.4" r="11.7"/><circle cx="998.0" cy="482.7" r="11.7"/><circle cx="1081.0" cy="642.3" r="11.7"/><circle cx="1183.3" cy="790.0" r="11.7"/><circle cx="1085.5" cy="763.7" r="11.7"/><circle cx="1025.4" cy="642.5" r="11.7"/><circle cx="1152.1" cy="729.4" r="11.7"/><circle cx="1028.7" cy="545.0" r="11.7"/><circle cx="1058.2" cy="763.9" r="11.7"/><circle cx="1037.6" cy="437.9" r="11.7"/><circle cx="1080.0" cy="535.6" r="11.7"/><circle cx="1063.6" cy="811.4" r="11.7"/><circle cx="1169.0" cy="544.3" r="11.7"/><circle cx="1058.6" cy="592.3" r="11.7"/><circle cx="1180.2" cy="681.4" r="11.7"/><circle cx="1084.1" cy="601.4" r="11.7"/><circle cx="1171.1" cy="875.5" r="11.7"/><circle cx="1113.9" cy="942.0" r="11.7"/><circle cx="1018.5" cy="696.4" r="11.7"/><circle cx="1165.8" cy="873.6" r="11.7"/>
</g>
<g fill="rgba(120,200,70,0.2)" stroke="rgba(30,112,38,0.82)" stroke-width="3.3">
<circle cx="1221.5" cy="751.4" r="11.7"/><circle cx="1182.5" cy="889.4" r="11.7"/><circle cx="1010.5" cy="680.6" r="11.7"/><circle cx="1006.7" cy="410.6" r="11.7"/><circle cx="1122.5" cy="686.0" r="11.7"/><circle cx="1008.2" cy="775.7" r="11.7"/><circle cx="1189.3" cy="536.6" r="11.7"/><circle cx="1125.3" cy="607.4" r="11.7"/><circle cx="926.7" cy="385.7" r="11.7"/><circle cx="1131.6" cy="527.9" r="11.7"/><circle cx="1160.2" cy="952.0" r="11.7"/><circle cx="1241.0" cy="462.7" r="11.7"/><circle cx="1208.6" cy="641.8" r="11.7"/><circle cx="1068.2" cy="432.4" r="11.7"/><circle cx="1135.1" cy="485.5" r="11.7"/><circle cx="1212.0" cy="524.8" r="11.7"/><circle cx="1224.3" cy="831.5" r="11.7"/><circle cx="1207.0" cy="823.7" r="11.7"/><circle cx="981.7" cy="567.9" r="11.7"/><circle cx="1197.8" cy="556.4" r="11.7"/><circle cx="1171.3" cy="383.5" r="11.7"/><circle cx="1214.5" cy="744.8" r="11.7"/><circle cx="948.5" cy="418.3" r="11.7"/><circle cx="1213.5" cy="794.1" r="11.7"/><circle cx="1085.1" cy="582.6" r="11.7"/><circle cx="1186.9" cy="436.0" r="11.7"/><circle cx="965.2" cy="554.5" r="11.7"/><circle cx="1015.1" cy="751.3" r="11.7"/><circle cx="941.1" cy="734.2" r="11.7"/><circle cx="1079.4" cy="531.0" r="11.7"/><circle cx="1058.9" cy="976.0" r="11.7"/><circle cx="1013.2" cy="679.1" r="11.7"/><circle cx="992.7" cy="613.7" r="11.7"/><circle cx="1206.6" cy="575.5" r="11.7"/><circle cx="1202.5" cy="500.3" r="11.7"/><circle cx="964.0" cy="409.6" r="11.7"/><circle cx="1183.9" cy="524.3" r="11.7"/><circle cx="990.5" cy="490.6" r="11.7"/><circle cx="1021.6" cy="761.1" r="11.7"/><circle cx="1073.8" cy="971.8" r="11.7"/><circle cx="1152.5" cy="973.2" r="11.7"/><circle cx="1082.1" cy="555.5" r="11.7"/><circle cx="1049.9" cy="425.2" r="11.7"/><circle cx="922.7" cy="542.8" r="11.7"/><circle cx="1067.8" cy="393.2" r="11.7"/><circle cx="1035.5" cy="871.5" r="11.7"/><circle cx="1219.5" cy="471.9" r="11.7"/><circle cx="1171.6" cy="903.5" r="11.7"/><circle cx="1130.7" cy="518.3" r="11.7"/><circle cx="1194.5" cy="546.0" r="11.7"/><circle cx="1015.9" cy="737.5" r="11.7"/><circle cx="1046.1" cy="399.0" r="11.7"/><circle cx="1089.7" cy="634.6" r="11.7"/><circle cx="1216.7" cy="795.0" r="11.7"/><circle cx="1229.7" cy="468.4" r="11.7"/><circle cx="1023.6" cy="399.7" r="11.7"/><circle cx="727.4" cy="698.8" r="11.7"/><circle cx="1301.4" cy="663.6" r="11.7"/><circle cx="1047.9" cy="921.5" r="11.7"/><circle cx="1361.5" cy="830.0" r="11.7"/><circle cx="1066.0" cy="441.7" r="11.7"/><circle cx="1127.1" cy="685.8" r="11.7"/><circle cx="974.3" cy="589.4" r="11.7"/><circle cx="1015.8" cy="717.5" r="11.7"/><circle cx="1028.1" cy="357.7" r="11.7"/><circle cx="1127.0" cy="984.4" r="11.7"/><circle cx="1029.4" cy="846.1" r="11.7"/><circle cx="587.8" cy="559.2" r="11.7"/><circle cx="1203.6" cy="594.3" r="11.7"/><circle cx="1043.3" cy="381.8" r="11.7"/><circle cx="1125.7" cy="600.2" r="11.7"/><circle cx="986.6" cy="499.1" r="11.7"/><circle cx="999.0" cy="426.4" r="11.7"/><circle cx="1237.5" cy="767.0" r="11.7"/><circle cx="746.6" cy="605.8" r="11.7"/><circle cx="1097.3" cy="699.4" r="11.7"/><circle cx="1062.4" cy="325.7" r="11.7"/><circle cx="1192.8" cy="562.4" r="11.7"/><circle cx="598.9" cy="384.9" r="11.7"/><circle cx="1202.5" cy="342.6" r="11.7"/><circle cx="982.0" cy="607.9" r="11.7"/><circle cx="1002.4" cy="407.0" r="11.7"/><circle cx="1063.0" cy="422.2" r="11.7"/><circle cx="1297.2" cy="574.0" r="11.7"/><circle cx="936.0" cy="679.8" r="11.7"/><circle cx="936.0" cy="340.5" r="11.7"/><circle cx="721.7" cy="239.4" r="11.7"/><circle cx="1295.6" cy="638.7" r="11.7"/><circle cx="1189.0" cy="873.7" r="11.7"/><circle cx="908.0" cy="626.9" r="11.7"/><circle cx="1216.4" cy="803.9" r="11.7"/><circle cx="1208.9" cy="747.5" r="11.7"/><circle cx="1022.6" cy="773.7" r="11.7"/><circle cx="634.5" cy="600.9" r="11.7"/><circle cx="1179.4" cy="902.1" r="11.7"/><circle cx="1141.1" cy="975.9" r="11.7"/><circle cx="991.5" cy="723.2" r="11.7"/><circle cx="1011.5" cy="411.2" r="11.7"/><circle cx="992.7" cy="477.7" r="11.7"/><circle cx="1102.8" cy="1010.4" r="11.7"/><circle cx="1024.3" cy="830.7" r="11.7"/><circle cx="982.8" cy="499.3" r="11.7"/><circle cx="994.2" cy="582.6" r="11.7"/><circle cx="980.4" cy="538.4" r="11.7"/><circle cx="1163.1" cy="470.6" r="11.7"/><circle cx="1181.1" cy="392.4" r="11.7"/><circle cx="1227.9" cy="646.5" r="11.7"/><circle cx="1203.3" cy="621.9" r="11.7"/><circle cx="1018.5" cy="391.2" r="11.7"/><circle cx="979.8" cy="457.1" r="11.7"/><circle cx="1123.9" cy="992.0" r="11.7"/><circle cx="1198.0" cy="432.5" r="11.7"/><circle cx="1199.0" cy="576.1" r="11.7"/><circle cx="1016.7" cy="765.2" r="11.7"/><circle cx="1233.4" cy="642.2" r="11.7"/><circle cx="1196.7" cy="362.6" r="11.7"/><circle cx="1002.8" cy="694.3" r="11.7"/><circle cx="1242.3" cy="704.6" r="11.7"/><circle cx="944.4" cy="612.2" r="11.7"/><circle cx="1249.8" cy="737.0" r="11.7"/><circle cx="1282.3" cy="794.8" r="11.7"/><circle cx="945.4" cy="804.4" r="11.7"/><circle cx="1198.0" cy="638.1" r="11.7"/><circle cx="1001.3" cy="654.7" r="11.7"/><circle cx="920.5" cy="567.7" r="11.7"/><circle cx="1100.9" cy="995.6" r="11.7"/><circle cx="994.8" cy="794.7" r="11.7"/><circle cx="1203.3" cy="685.4" r="11.7"/><circle cx="980.5" cy="666.8" r="11.7"/><circle cx="973.4" cy="723.4" r="11.7"/><circle cx="1022.1" cy="393.9" r="11.7"/><circle cx="892.0" cy="373.7" r="11.7"/><circle cx="1145.5" cy="285.7" r="11.7"/><circle cx="1006.3" cy="679.2" r="11.7"/><circle cx="929.8" cy="623.8" r="11.7"/><circle cx="1189.6" cy="481.5" r="11.7"/><circle cx="954.7" cy="542.8" r="11.7"/><circle cx="933.6" cy="648.7" r="11.7"/><circle cx="1162.1" cy="941.9" r="11.7"/><circle cx="1015.4" cy="698.9" r="11.7"/><circle cx="895.6" cy="664.3" r="11.7"/><circle cx="1004.2" cy="745.5" r="11.7"/><circle cx="1110.1" cy="1009.0" r="11.7"/><circle cx="937.3" cy="601.5" r="11.7"/><circle cx="1237.1" cy="693.8" r="11.7"/><circle cx="947.6" cy="651.5" r="11.7"/><circle cx="1255.6" cy="631.0" r="11.7"/><circle cx="1004.2" cy="380.3" r="11.7"/><circle cx="1213.4" cy="744.7" r="11.7"/><circle cx="1074.8" cy="307.9" r="11.7"/><circle cx="984.9" cy="506.8" r="11.7"/><circle cx="957.2" cy="722.2" r="11.7"/><circle cx="1166.3" cy="952.4" r="11.7"/><circle cx="1074.8" cy="506.7" r="11.7"/><circle cx="1139.6" cy="458.0" r="11.7"/><circle cx="1312.1" cy="617.8" r="11.7"/><circle cx="1097.0" cy="699.4" r="11.7"/><circle cx="1209.3" cy="670.1" r="11.7"/><circle cx="976.5" cy="857.3" r="11.7"/><circle cx="979.9" cy="532.6" r="11.7"/><circle cx="1046.7" cy="895.9" r="11.7"/><circle cx="942.3" cy="517.9" r="11.7"/><circle cx="1137.2" cy="469.8" r="11.7"/><circle cx="1175.1" cy="958.2" r="11.7"/><circle cx="1288.1" cy="691.7" r="11.7"/><circle cx="1221.5" cy="768.8" r="11.7"/><circle cx="904.9" cy="471.2" r="11.7"/><circle cx="1075.9" cy="487.4" r="11.7"/><circle cx="1205.6" cy="615.2" r="11.7"/><circle cx="1206.0" cy="577.2" r="11.7"/><circle cx="961.9" cy="425.5" r="11.7"/><circle cx="1056.8" cy="421.7" r="11.7"/><circle cx="1224.5" cy="763.0" r="11.7"/><circle cx="1203.3" cy="688.0" r="11.7"/><circle cx="964.1" cy="580.2" r="11.7"/><circle cx="1140.2" cy="460.5" r="11.7"/><circle cx="939.2" cy="452.6" r="11.7"/><circle cx="1271.2" cy="721.0" r="11.7"/><circle cx="1075.2" cy="505.1" r="11.7"/><circle cx="1126.8" cy="673.8" r="11.7"/><circle cx="1158.0" cy="479.5" r="11.7"/><circle cx="1284.5" cy="351.5" r="11.7"/><circle cx="950.6" cy="692.1" r="11.7"/><circle cx="1198.0" cy="599.6" r="11.7"/><circle cx="979.6" cy="667.4" r="11.7"/><circle cx="1091.8" cy="648.2" r="11.7"/><circle cx="1007.5" cy="420.1" r="11.7"/><circle cx="1012.5" cy="710.9" r="11.7"/><circle cx="1063.9" cy="448.4" r="11.7"/><circle cx="897.4" cy="412.4" r="11.7"/><circle cx="1191.4" cy="882.9" r="11.7"/><circle cx="1016.7" cy="384.6" r="11.7"/><circle cx="1048.4" cy="395.3" r="11.7"/><circle cx="979.4" cy="615.8" r="11.7"/><circle cx="1242.5" cy="654.4" r="11.7"/><circle cx="1100.1" cy="1012.4" r="11.7"/><circle cx="1132.2" cy="381.3" r="11.7"/><circle cx="1007.2" cy="682.5" r="11.7"/><circle cx="1051.3" cy="311.5" r="11.7"/><circle cx="999.5" cy="379.2" r="11.7"/><circle cx="1309.0" cy="720.1" r="11.7"/><circle cx="1160.1" cy="438.8" r="11.7"/><circle cx="1385.5" cy="307.9" r="11.7"/><circle cx="991.5" cy="551.5" r="11.7"/><circle cx="1089.2" cy="623.7" r="11.7"/><circle cx="1129.0" cy="512.5" r="11.7"/><circle cx="905.4" cy="361.3" r="11.7"/><circle cx="1171.5" cy="923.9" r="11.7"/><circle cx="993.0" cy="631.4" r="11.7"/><circle cx="980.6" cy="537.7" r="11.7"/><circle cx="1164.6" cy="485.8" r="11.7"/><circle cx="1085.7" cy="627.6" r="11.7"/><circle cx="940.0" cy="396.0" r="11.7"/><circle cx="1124.0" cy="1000.9" r="11.7"/><circle cx="1074.2" cy="974.4" r="11.7"/><circle cx="615.4" cy="564.6" r="11.7"/><circle cx="1003.8" cy="433.7" r="11.7"/><circle cx="1012.0" cy="391.6" r="11.7"/><circle cx="1012.9" cy="779.8" r="11.7"/><circle cx="914.2" cy="823.0" r="11.7"/><circle cx="1072.4" cy="463.7" r="11.7"/><circle cx="1009.1" cy="429.4" r="11.7"/><circle cx="965.5" cy="477.0" r="11.7"/><circle cx="1215.0" cy="542.0" r="11.7"/><circle cx="1009.1" cy="698.7" r="11.7"/><circle cx="984.6" cy="406.0" r="11.7"/><circle cx="1211.2" cy="729.1" r="11.7"/><circle cx="538.0" cy="302.6" r="11.7"/><circle cx="967.5" cy="413.6" r="11.7"/><circle cx="1194.4" cy="910.2" r="11.7"/><circle cx="1218.7" cy="777.8" r="11.7"/><circle cx="986.3" cy="635.3" r="11.7"/><circle cx="1271.2" cy="676.5" r="11.7"/><circle cx="1212.9" cy="609.8" r="11.7"/><circle cx="964.1" cy="682.9" r="11.7"/><circle cx="1124.0" cy="694.1" r="11.7"/><circle cx="888.9" cy="262.1" r="11.7"/><circle cx="1202.0" cy="557.7" r="11.7"/><circle cx="1320.1" cy="584.5" r="11.7"/><circle cx="1014.3" cy="305.7" r="11.7"/><circle cx="994.2" cy="610.7" r="11.7"/><circle cx="1038.2" cy="876.4" r="11.7"/><circle cx="877.8" cy="372.4" r="11.7"/><circle cx="1083.5" cy="578.7" r="11.7"/><circle cx="1186.1" cy="906.2" r="11.7"/><circle cx="1205.6" cy="528.9" r="11.7"/><circle cx="1127.2" cy="555.7" r="11.7"/><circle cx="895.6" cy="380.9" r="11.7"/><circle cx="1025.9" cy="823.0" r="11.7"/><circle cx="1083.2" cy="610.8" r="11.7"/><circle cx="1124.0" cy="698.0" r="11.7"/><circle cx="1127.0" cy="978.9" r="11.7"/><circle cx="1071.2" cy="461.8" r="11.7"/><circle cx="1053.9" cy="937.6" r="11.7"/><circle cx="1049.0" cy="873.3" r="11.7"/><circle cx="1082.2" cy="569.1" r="11.7"/><circle cx="1020.9" cy="786.0" r="11.7"/><circle cx="937.5" cy="389.3" r="11.7"/><circle cx="996.1" cy="680.5" r="11.7"/><circle cx="1215.5" cy="725.2" r="11.7"/><circle cx="969.3" cy="530.2" r="11.7"/><circle cx="1094.1" cy="685.6" r="11.7"/><circle cx="994.7" cy="659.5" r="11.7"/><circle cx="996.8" cy="443.9" r="11.7"/><circle cx="1201.7" cy="546.5" r="11.7"/><circle cx="981.0" cy="508.1" r="11.7"/><circle cx="1193.4" cy="534.3" r="11.7"/><circle cx="1276.5" cy="772.6" r="11.7"/><circle cx="992.7" cy="506.3" r="11.7"/><circle cx="1129.4" cy="606.5" r="11.7"/><circle cx="898.8" cy="373.9" r="11.7"/><circle cx="1000.3" cy="429.1" r="11.7"/><circle cx="1054.1" cy="922.8" r="11.7"/><circle cx="1255.2" cy="313.2" r="11.7"/><circle cx="1297.2" cy="767.0" r="11.7"/><circle cx="1012.3" cy="759.9" r="11.7"/><circle cx="964.1" cy="630.0" r="11.7"/><circle cx="1077.9" cy="525.0" r="11.7"/><circle cx="1205.7" cy="459.8" r="11.7"/><circle cx="883.1" cy="626.9" r="11.7"/><circle cx="1206.4" cy="647.1" r="11.7"/><circle cx="936.0" cy="807.5" r="11.7"/><circle cx="1071.1" cy="476.5" r="11.7"/><circle cx="1166.9" cy="486.8" r="11.7"/><circle cx="1125.3" cy="662.4" r="11.7"/><circle cx="1199.3" cy="844.7" r="11.7"/><circle cx="990.1" cy="700.5" r="11.7"/><circle cx="1347.2" cy="553.9" r="11.7"/><circle cx="1200.4" cy="566.4" r="11.7"/><circle cx="1147.6" cy="971.7" r="11.7"/><circle cx="1269.2" cy="770.1" r="11.7"/><circle cx="1193.7" cy="866.3" r="11.7"/><circle cx="939.2" cy="654.9" r="11.7"/><circle cx="1058.1" cy="408.9" r="11.7"/><circle cx="1121.5" cy="425.8" r="11.7"/><circle cx="999.1" cy="693.1" r="11.7"/><circle cx="1019.2" cy="269.2" r="11.7"/><circle cx="1260.0" cy="534.7" r="11.7"/><circle cx="957.8" cy="773.2" r="11.7"/><circle cx="1235.6" cy="376.0" r="11.7"/><circle cx="910.3" cy="330.2" r="11.7"/><circle cx="1158.0" cy="938.1" r="11.7"/><circle cx="931.1" cy="526.2" r="11.7"/><circle cx="1175.0" cy="509.1" r="11.7"/><circle cx="1139.2" cy="460.8" r="11.7"/><circle cx="984.9" cy="577.8" r="11.7"/><circle cx="960.9" cy="524.2" r="11.7"/><circle cx="1069.6" cy="466.6" r="11.7"/><circle cx="980.3" cy="504.6" r="11.7"/><circle cx="877.8" cy="258.1" r="11.7"/><circle cx="1080.1" cy="574.5" r="11.7"/><circle cx="1209.4" cy="666.5" r="11.7"/><circle cx="1244.8" cy="759.3" r="11.7"/><circle cx="985.7" cy="440.2" r="11.7"/><circle cx="1216.5" cy="742.2" r="11.7"/><circle cx="1062.6" cy="457.5" r="11.7"/><circle cx="975.0" cy="522.0" r="11.7"/><circle cx="1021.5" cy="791.1" r="11.7"/><circle cx="979.6" cy="919.6" r="11.7"/><circle cx="1019.0" cy="788.6" r="11.7"/><circle cx="694.5" cy="740.1" r="11.7"/><circle cx="1301.4" cy="571.2" r="11.7"/><circle cx="1016.9" cy="868.5" r="11.7"/><circle cx="1116.3" cy="994.3" r="11.7"/><circle cx="979.6" cy="876.0" r="11.7"/><circle cx="1216.9" cy="746.5" r="11.7"/><circle cx="1010.0" cy="756.8" r="11.7"/><circle cx="1345.0" cy="368.8" r="11.7"/><circle cx="1011.5" cy="692.5" r="11.7"/><circle cx="1051.8" cy="922.4" r="11.7"/><circle cx="1163.6" cy="487.3" r="11.7"/><circle cx="956.6" cy="402.7" r="11.7"/><circle cx="1320.0" cy="577.0" r="11.7"/><circle cx="1028.8" cy="852.9" r="11.7"/><circle cx="998.1" cy="470.7" r="11.7"/><circle cx="1207.5" cy="691.9" r="11.7"/><circle cx="793.3" cy="726.8" r="11.7"/><circle cx="1127.6" cy="573.6" r="11.7"/><circle cx="1001.6" cy="432.4" r="11.7"/><circle cx="1155.4" cy="954.3" r="11.7"/><circle cx="1222.5" cy="829.3" r="11.7"/><circle cx="1042.3" cy="883.5" r="11.7"/><circle cx="1212.5" cy="716.5" r="11.7"/><circle cx="985.5" cy="612.9" r="11.7"/><circle cx="1202.0" cy="363.5" r="11.7"/><circle cx="1094.0" cy="680.1" r="11.7"/><circle cx="964.1" cy="350.0" r="11.7"/><circle cx="1210.2" cy="635.3" r="11.7"/><circle cx="1011.1" cy="412.2" r="11.7"/><circle cx="1199.7" cy="607.2" r="11.7"/><circle cx="897.4" cy="388.0" r="11.7"/><circle cx="1123.3" cy="995.5" r="11.7"/><circle cx="936.0" cy="499.3" r="11.7"/><circle cx="1213.4" cy="823.5" r="11.7"/><circle cx="1130.8" cy="527.2" r="11.7"/><circle cx="987.4" cy="609.8" r="11.7"/><circle cx="1201.1" cy="838.5" r="11.7"/><circle cx="981.2" cy="516.3" r="11.7"/><circle cx="1040.1" cy="328.8" r="11.7"/><circle cx="1328.1" cy="641.8" r="11.7"/><circle cx="933.6" cy="473.9" r="11.7"/><circle cx="929.0" cy="348.0" r="11.7"/><circle cx="1061.3" cy="979.3" r="11.7"/><circle cx="1053.7" cy="894.8" r="11.7"/><circle cx="1185.9" cy="527.0" r="11.7"/><circle cx="1045.0" cy="956.9" r="11.7"/><circle cx="1303.6" cy="493.8" r="11.7"/><circle cx="1090.1" cy="991.9" r="11.7"/><circle cx="1117.7" cy="998.8" r="11.7"/><circle cx="1060.7" cy="934.8" r="11.7"/><circle cx="998.2" cy="428.4" r="11.7"/><circle cx="929.8" cy="592.7" r="11.7"/><circle cx="897.8" cy="357.5" r="11.7"/><circle cx="1207.2" cy="592.4" r="11.7"/><circle cx="951.6" cy="717.2" r="11.7"/><circle cx="1023.4" cy="766.0" r="11.7"/><circle cx="1010.8" cy="910.2" r="11.7"/><circle cx="1148.1" cy="965.4" r="11.7"/><circle cx="883.1" cy="732.8" r="11.7"/><circle cx="1325.9" cy="305.7" r="11.7"/><circle cx="936.0" cy="480.6" r="11.7"/><circle cx="1140.2" cy="376.9" r="11.7"/><circle cx="1068.0" cy="385.6" r="11.7"/><circle cx="1210.6" cy="803.6" r="11.7"/><circle cx="999.6" cy="663.7" r="11.7"/><circle cx="1216.9" cy="746.3" r="11.7"/><circle cx="1213.9" cy="638.3" r="11.7"/><circle cx="1182.1" cy="521.1" r="11.7"/><circle cx="1127.9" cy="581.7" r="11.7"/><circle cx="1801.0" cy="310.7" r="11.7"/><circle cx="1024.6" cy="774.9" r="11.7"/><circle cx="986.1" cy="595.7" r="11.7"/><circle cx="883.1" cy="327.0" r="11.7"/><circle cx="976.9" cy="527.8" r="11.7"/><circle cx="1207.7" cy="654.4" r="11.7"/><circle cx="969.7" cy="623.4" r="11.7"/><circle cx="1196.5" cy="552.2" r="11.7"/><circle cx="1119.2" cy="997.0" r="11.7"/><circle cx="1235.2" cy="778.9" r="11.7"/><circle cx="1173.5" cy="931.9" r="11.7"/><circle cx="1175.2" cy="511.6" r="11.7"/><circle cx="979.7" cy="528.6" r="11.7"/><circle cx="942.3" cy="405.9" r="11.7"/><circle cx="860.4" cy="527.2" r="11.7"/><circle cx="1001.8" cy="643.0" r="11.7"/><circle cx="738.6" cy="338.2" r="11.7"/><circle cx="998.2" cy="648.9" r="11.7"/><circle cx="998.5" cy="435.2" r="11.7"/><circle cx="965.4" cy="272.3" r="11.7"/><circle cx="1128.7" cy="603.2" r="11.7"/><circle cx="1163.2" cy="941.4" r="11.7"/><circle cx="768.4" cy="701.4" r="11.7"/><circle cx="1210.3" cy="818.8" r="11.7"/><circle cx="932.9" cy="430.8" r="11.7"/><circle cx="1054.9" cy="923.5" r="11.7"/><circle cx="1008.3" cy="661.9" r="11.7"/><circle cx="1017.4" cy="738.6" r="11.7"/><circle cx="1053.8" cy="911.5" r="11.7"/><circle cx="1026.4" cy="851.1" r="11.7"/><circle cx="977.0" cy="547.9" r="11.7"/><circle cx="1429.5" cy="507.2" r="11.7"/><circle cx="1122.3" cy="726.1" r="11.7"/><circle cx="1125.1" cy="661.8" r="11.7"/><circle cx="1004.5" cy="922.7" r="11.7"/><circle cx="1214.9" cy="694.7" r="11.7"/><circle cx="985.1" cy="521.7" r="11.7"/><circle cx="1210.0" cy="637.6" r="11.7"/><circle cx="1204.2" cy="881.2" r="11.7"/><circle cx="1252.5" cy="475.6" r="11.7"/><circle cx="1003.6" cy="454.5" r="11.7"/><circle cx="1138.7" cy="464.7" r="11.7"/><circle cx="1019.4" cy="744.2" r="11.7"/><circle cx="1249.8" cy="646.7" r="11.7"/><circle cx="908.3" cy="636.1" r="11.7"/><circle cx="911.1" cy="589.5" r="11.7"/><circle cx="1164.2" cy="492.1" r="11.7"/><circle cx="980.8" cy="508.1" r="11.7"/><circle cx="1200.7" cy="644.5" r="11.7"/><circle cx="1138.5" cy="443.9" r="11.7"/><circle cx="1002.1" cy="464.2" r="11.7"/><circle cx="883.1" cy="493.0" r="11.7"/><circle cx="1128.2" cy="627.0" r="11.7"/><circle cx="1129.9" cy="550.2" r="11.7"/><circle cx="1369.0" cy="766.8" r="11.7"/><circle cx="1209.9" cy="823.9" r="11.7"/><circle cx="1220.9" cy="398.6" r="11.7"/><circle cx="911.1" cy="555.3" r="11.7"/><circle cx="1201.8" cy="575.7" r="11.7"/><circle cx="541.5" cy="293.7" r="11.7"/><circle cx="990.2" cy="492.4" r="11.7"/><circle cx="905.2" cy="590.5" r="11.7"/><circle cx="1036.8" cy="848.7" r="11.7"/><circle cx="1157.3" cy="461.8" r="11.7"/><circle cx="1033.1" cy="891.1" r="11.7"/><circle cx="995.6" cy="446.1" r="11.7"/><circle cx="1093.5" cy="717.9" r="11.7"/><circle cx="1082.4" cy="551.5" r="11.7"/><circle cx="839.0" cy="772.6" r="11.7"/><circle cx="1200.6" cy="552.3" r="11.7"/><circle cx="1314.8" cy="340.8" r="11.7"/><circle cx="804.0" cy="614.7" r="11.7"/><circle cx="1169.1" cy="416.9" r="11.7"/><circle cx="984.4" cy="419.7" r="11.7"/><circle cx="1268.0" cy="852.2" r="11.7"/><circle cx="932.8" cy="373.6" r="11.7"/><circle cx="1208.5" cy="735.9" r="11.7"/><circle cx="1025.8" cy="837.5" r="11.7"/><circle cx="1212.2" cy="678.6" r="11.7"/><circle cx="1197.8" cy="842.4" r="11.7"/><circle cx="907.2" cy="662.5" r="11.7"/><circle cx="964.5" cy="623.2" r="11.7"/><circle cx="1247.8" cy="685.2" r="11.7"/><circle cx="1037.9" cy="312.4" r="11.7"/><circle cx="1207.2" cy="625.2" r="11.7"/><circle cx="996.1" cy="656.0" r="11.7"/><circle cx="1131.8" cy="503.3" r="11.7"/><circle cx="1093.0" cy="674.5" r="11.7"/><circle cx="1240.0" cy="591.0" r="11.7"/><circle cx="1124.8" cy="997.8" r="11.7"/><circle cx="1029.7" cy="822.1" r="11.7"/><circle cx="1083.2" cy="584.7" r="11.7"/><circle cx="1079.3" cy="972.6" r="11.7"/><circle cx="1230.9" cy="732.5" r="11.7"/><circle cx="1199.2" cy="527.6" r="11.7"/><circle cx="1220.3" cy="710.0" r="11.7"/><circle cx="1220.3" cy="672.4" r="11.7"/><circle cx="1035.5" cy="868.9" r="11.7"/><circle cx="1076.9" cy="986.9" r="11.7"/><circle cx="1024.7" cy="806.9" r="11.7"/><circle cx="1186.7" cy="883.4" r="11.7"/><circle cx="1049.7" cy="389.4" r="11.7"/><circle cx="1175.1" cy="907.2" r="11.7"/><circle cx="1380.1" cy="526.7" r="11.7"/><circle cx="1207.9" cy="608.6" r="11.7"/><circle cx="914.2" cy="539.7" r="11.7"/><circle cx="552.6" cy="319.9" r="11.7"/><circle cx="886.2" cy="371.6" r="11.7"/><circle cx="866.7" cy="920.3" r="11.7"/><circle cx="1026.3" cy="925.8" r="11.7"/><circle cx="919.5" cy="425.6" r="11.7"/><circle cx="1168.1" cy="478.7" r="11.7"/><circle cx="1126.5" cy="684.0" r="11.7"/><circle cx="998.5" cy="677.6" r="11.7"/><circle cx="1067.8" cy="975.7" r="11.7"/><circle cx="979.6" cy="829.3" r="11.7"/><circle cx="917.4" cy="446.3" r="11.7"/><circle cx="1210.0" cy="674.3" r="11.7"/><circle cx="1202.2" cy="653.8" r="11.7"/><circle cx="1224.4" cy="774.6" r="11.7"/><circle cx="1006.7" cy="405.7" r="11.7"/><circle cx="1203.1" cy="574.4" r="11.7"/><circle cx="716.3" cy="313.7" r="11.7"/><circle cx="847.5" cy="606.3" r="11.7"/><circle cx="1197.4" cy="603.0" r="11.7"/><circle cx="982.6" cy="464.8" r="11.7"/><circle cx="1205.0" cy="627.8" r="11.7"/><circle cx="1145.5" cy="409.3" r="11.7"/><circle cx="948.5" cy="598.9" r="11.7"/><circle cx="1021.2" cy="820.0" r="11.7"/><circle cx="1218.7" cy="795.2" r="11.7"/><circle cx="1217.4" cy="551.9" r="11.7"/><circle cx="992.2" cy="557.1" r="11.7"/><circle cx="1217.9" cy="808.8" r="11.7"/><circle cx="1114.7" cy="997.9" r="11.7"/><circle cx="1209.2" cy="779.5" r="11.7"/><circle cx="1031.7" cy="390.6" r="11.7"/><circle cx="1009.0" cy="195.8" r="11.7"/><circle cx="1147.7" cy="979.3" r="11.7"/><circle cx="994.0" cy="533.8" r="11.7"/><circle cx="1019.2" cy="816.8" r="11.7"/><circle cx="1005.3" cy="701.0" r="11.7"/><circle cx="1164.8" cy="489.8" r="11.7"/><circle cx="984.5" cy="370.2" r="11.7"/><circle cx="1309.0" cy="737.0" r="11.7"/><circle cx="1203.0" cy="451.2" r="11.7"/><circle cx="1202.4" cy="842.0" r="11.7"/><circle cx="1001.2" cy="435.1" r="11.7"/><circle cx="962.5" cy="512.9" r="11.7"/><circle cx="1038.7" cy="940.0" r="11.7"/><circle cx="1191.2" cy="493.4" r="11.7"/><circle cx="1230.1" cy="736.1" r="11.7"/><circle cx="1199.7" cy="570.0" r="11.7"/><circle cx="883.1" cy="580.2" r="11.7"/><circle cx="969.0" cy="344.8" r="11.7"/><circle cx="1212.3" cy="831.3" r="11.7"/><circle cx="1205.6" cy="692.4" r="11.7"/><circle cx="1079.3" cy="980.0" r="11.7"/><circle cx="995.2" cy="433.0" r="11.7"/><circle cx="951.6" cy="502.4" r="11.7"/><circle cx="1297.9" cy="603.1" r="11.7"/><circle cx="1067.2" cy="436.9" r="11.7"/><circle cx="1015.0" cy="796.1" r="11.7"/><circle cx="1175.8" cy="497.6" r="11.7"/><circle cx="1016.7" cy="388.6" r="11.7"/><circle cx="946.7" cy="335.5" r="11.7"/><circle cx="1158.8" cy="944.2" r="11.7"/><circle cx="893.6" cy="384.1" r="11.7"/><circle cx="1235.2" cy="784.8" r="11.7"/><circle cx="1130.0" cy="622.9" r="11.7"/><circle cx="1147.1" cy="463.1" r="11.7"/><circle cx="964.7" cy="513.8" r="11.7"/><circle cx="1016.2" cy="699.5" r="11.7"/><circle cx="1212.5" cy="781.0" r="11.7"/><circle cx="1050.1" cy="895.3" r="11.7"/><circle cx="1045.9" cy="401.1" r="11.7"/><circle cx="966.7" cy="370.2" r="11.7"/><circle cx="1125.0" cy="724.3" r="11.7"/><circle cx="999.0" cy="448.8" r="11.7"/><circle cx="1204.8" cy="582.9" r="11.7"/><circle cx="1132.5" cy="508.4" r="11.7"/><circle cx="1084.1" cy="979.8" r="11.7"/><circle cx="1226.6" cy="596.3" r="11.7"/><circle cx="1042.2" cy="855.5" r="11.7"/><circle cx="1008.8" cy="741.7" r="11.7"/><circle cx="1217.1" cy="619.2" r="11.7"/><circle cx="1233.8" cy="692.3" r="11.7"/><circle cx="1143.4" cy="965.9" r="11.7"/><circle cx="930.0" cy="704.9" r="11.7"/><circle cx="1148.5" cy="477.1" r="11.7"/><circle cx="1209.1" cy="762.7" r="11.7"/><circle cx="996.3" cy="487.8" r="11.7"/><circle cx="1297.2" cy="493.0" r="11.7"/><circle cx="1243.9" cy="744.3" r="11.7"/><circle cx="839.0" cy="699.2" r="11.7"/><circle cx="1209.7" cy="669.1" r="11.7"/><circle cx="991.4" cy="612.0" r="11.7"/><circle cx="1011.3" cy="412.0" r="11.7"/><circle cx="1206.7" cy="615.2" r="11.7"/><circle cx="1260.0" cy="617.8" r="11.7"/><circle cx="1198.9" cy="572.2" r="11.7"/><circle cx="1138.1" cy="468.6" r="11.7"/><circle cx="987.5" cy="701.2" r="11.7"/><circle cx="986.8" cy="495.0" r="11.7"/><circle cx="1171.4" cy="935.9" r="11.7"/><circle cx="943.2" cy="253.2" r="11.7"/><circle cx="1210.1" cy="738.6" r="11.7"/><circle cx="1221.1" cy="794.3" r="11.7"/><circle cx="1259.8" cy="692.3" r="11.7"/><circle cx="1080.3" cy="532.0" r="11.7"/><circle cx="992.5" cy="341.3" r="11.7"/><circle cx="1032.2" cy="813.9" r="11.7"/><circle cx="852.9" cy="521.4" r="11.7"/><circle cx="1122.3" cy="989.8" r="11.7"/><circle cx="1233.4" cy="564.8" r="11.7"/><circle cx="1121.2" cy="729.2" r="11.7"/><circle cx="1006.4" cy="666.7" r="11.7"/><circle cx="1132.0" cy="976.8" r="11.7"/><circle cx="569.1" cy="603.6" r="11.7"/><circle cx="1003.4" cy="737.8" r="11.7"/><circle cx="1031.8" cy="396.9" r="11.7"/><circle cx="1140.7" cy="449.7" r="11.7"/><circle cx="947.2" cy="713.9" r="11.7"/><circle cx="988.7" cy="460.8" r="11.7"/><circle cx="779.5" cy="368.8" r="11.7"/><circle cx="926.7" cy="732.8" r="11.7"/><circle cx="932.9" cy="869.7" r="11.7"/><circle cx="982.9" cy="716.1" r="11.7"/><circle cx="995.0" cy="619.3" r="11.7"/><circle cx="1132.0" cy="987.5" r="11.7"/><circle cx="1007.2" cy="390.9" r="11.7"/><circle cx="1207.3" cy="681.4" r="11.7"/><circle cx="986.2" cy="614.4" r="11.7"/><circle cx="982.4" cy="386.4" r="11.7"/><circle cx="1031.1" cy="823.7" r="11.7"/><circle cx="979.6" cy="779.5" r="11.7"/><circle cx="917.4" cy="667.4" r="11.7"/><circle cx="1218.5" cy="713.6" r="11.7"/><circle cx="1149.7" cy="958.9" r="11.7"/><circle cx="891.8" cy="384.1" r="11.7"/><circle cx="812.4" cy="316.8" r="11.7"/><circle cx="1033.5" cy="275.4" r="11.7"/><circle cx="1215.4" cy="809.9" r="11.7"/><circle cx="939.2" cy="720.3" r="11.7"/><circle cx="987.9" cy="528.6" r="11.7"/><circle cx="920.5" cy="714.1" r="11.7"/><circle cx="968.4" cy="482.5" r="11.7"/><circle cx="694.5" cy="262.1" r="11.7"/><circle cx="997.8" cy="647.0" r="11.7"/><circle cx="1016.2" cy="690.6" r="11.7"/><circle cx="1248.0" cy="784.6" r="11.7"/><circle cx="1187.6" cy="945.0" r="11.7"/><circle cx="1217.1" cy="756.9" r="11.7"/><circle cx="1165.1" cy="924.5" r="11.7"/><circle cx="1201.3" cy="894.7" r="11.7"/><circle cx="986.0" cy="597.3" r="11.7"/><circle cx="798.6" cy="592.0" r="11.7"/><circle cx="1033.1" cy="850.2" r="11.7"/><circle cx="1129.0" cy="621.9" r="11.7"/><circle cx="1203.1" cy="685.1" r="11.7"/><circle cx="1175.1" cy="911.5" r="11.7"/><circle cx="1196.3" cy="547.4" r="11.7"/><circle cx="1223.2" cy="820.9" r="11.7"/><circle cx="1210.3" cy="530.7" r="11.7"/><circle cx="1205.3" cy="648.7" r="11.7"/><circle cx="1191.4" cy="517.6" r="11.7"/><circle cx="1129.7" cy="620.0" r="11.7"/><circle cx="1135.4" cy="465.4" r="11.7"/><circle cx="1078.5" cy="547.8" r="11.7"/><circle cx="1216.2" cy="866.6" r="11.7"/><circle cx="954.7" cy="468.1" r="11.7"/><circle cx="1143.6" cy="468.3" r="11.7"/><circle cx="1205.9" cy="713.7" r="11.7"/><circle cx="921.0" cy="511.4" r="11.7"/><circle cx="999.3" cy="739.0" r="11.7"/><circle cx="901.8" cy="673.6" r="11.7"/><circle cx="969.4" cy="501.3" r="11.7"/><circle cx="996.9" cy="485.8" r="11.7"/><circle cx="1080.7" cy="567.9" r="11.7"/><circle cx="1163.8" cy="483.6" r="11.7"/><circle cx="998.0" cy="637.8" r="11.7"/><circle cx="1042.9" cy="867.5" r="11.7"/><circle cx="1118.8" cy="1003.2" r="11.7"/><circle cx="1303.6" cy="769.0" r="11.7"/><circle cx="809.3" cy="193.6" r="11.7"/><circle cx="1228.9" cy="779.9" r="11.7"/><circle cx="1055.0" cy="413.7" r="11.7"/><circle cx="1217.0" cy="465.8" r="11.7"/><circle cx="1085.6" cy="608.9" r="11.7"/><circle cx="1162.8" cy="482.0" r="11.7"/><circle cx="986.8" cy="498.5" r="11.7"/><circle cx="892.5" cy="589.5" r="11.7"/><circle cx="1126.0" cy="611.5" r="11.7"/><circle cx="1168.4" cy="929.5" r="11.7"/><circle cx="1265.8" cy="691.7" r="11.7"/><circle cx="1083.6" cy="987.4" r="11.7"/><circle cx="1164.7" cy="920.3" r="11.7"/><circle cx="1168.0" cy="951.3" r="11.7"/><circle cx="1054.7" cy="439.8" r="11.7"/><circle cx="1073.3" cy="957.4" r="11.7"/><circle cx="1006.7" cy="656.9" r="11.7"/><circle cx="1125.9" cy="645.5" r="11.7"/><circle cx="1007.8" cy="825.2" r="11.7"/><circle cx="1220.5" cy="793.0" r="11.7"/><circle cx="1206.1" cy="722.3" r="11.7"/><circle cx="1366.8" cy="696.1" r="11.7"/><circle cx="1130.0" cy="977.3" r="11.7"/><circle cx="1267.6" cy="803.7" r="11.7"/><circle cx="999.4" cy="410.7" r="11.7"/><circle cx="975.6" cy="546.1" r="11.7"/><circle cx="1029.4" cy="389.0" r="11.7"/><circle cx="1029.4" cy="872.9" r="11.7"/>
</g><g stroke="#ff0000" stroke-width="3" stroke-dasharray="11.5 7.5" fill="none">
<line x1="969.5" y1="152" x2="969.5" y2="1008"/>
<line x1="1234.0" y1="152" x2="1234.0" y2="1008"/>
<line x1="282" y1="766" x2="1920" y2="766"/>
</g>
<g stroke="#000" stroke-width="4" fill="none">
<line x1="277" y1="138.89999999999998" x2="277" y2="1037"/>
<line x1="257" y1="1016" x2="1942.8000000000002" y2="1016"/>
<line x1="257" y1="890.7" x2="298" y2="890.7"/>
<line x1="257" y1="765.4" x2="298" y2="765.4"/>
<line x1="257" y1="640.1" x2="298" y2="640.1"/>
<line x1="257" y1="514.8" x2="298" y2="514.8"/>
<line x1="257" y1="389.5" x2="298" y2="389.5"/>
<line x1="257" y1="264.2" x2="298" y2="264.2"/>
<line x1="257" y1="138.9" x2="298" y2="138.9"/>
<line x1="1387.6" y1="997" x2="1387.6" y2="1037"/>
<line x1="1665.2" y1="997" x2="1665.2" y2="1037"/>
<line x1="1942.8" y1="997" x2="1942.8" y2="1037"/>
</g>
<g font-family="'Liberation Sans', Arial, sans-serif" font-weight="bold" font-size="69" fill="#000" stroke="#fff" stroke-width="1.6">
<text x="220.5" y="1040.5" text-anchor="end">0</text>
<text x="220.5" y="915.2" text-anchor="end">1</text>
<text x="220.5" y="789.9" text-anchor="end">2</text>
<text x="220.5" y="664.6" text-anchor="end">3</text>
<text x="220.5" y="539.3" text-anchor="end">4</text>
<text x="220.5" y="414.0" text-anchor="end">5</text>
<text x="220.5" y="288.7" text-anchor="end">6</text>
<text x="220.5" y="163.4" text-anchor="end">7</text>
<text x="277.2" y="1121" text-anchor="middle">-6</text>
<text x="554.8" y="1121" text-anchor="middle">-4</text>
<text x="832.4" y="1121" text-anchor="middle">-2</text>
<text x="1110.0" y="1121" text-anchor="middle">0</text>
<text x="1387.6" y="1121" text-anchor="middle">2</text>
<text x="1665.2" y="1121" text-anchor="middle">4</text>
<text x="1942.8" y="1121" text-anchor="middle">6</text>
</g><g font-family="'Liberation Sans', Arial, sans-serif" font-weight="bold" fill="#000" stroke="#fff" stroke-width="1.6">
<text transform="translate(8.98,92.3) scale(1.0069,1)" font-size="77" stroke="#000" stroke-width="1">(A)</text>
<text transform="translate(199.04,73.7) scale(0.9617,1)" font-size="69">wild-type</text>
<text transform="translate(312.98,173.5) scale(1.0031,1)" font-size="69">n = 112</text>
<text transform="translate(1717.97,177) scale(1.0063,1)" font-size="69">n = 33</text>
<text transform="translate(1419.04,1205) scale(0.9919,1)" font-size="69">log<tspan font-size="46" font-weight="normal" stroke-width="0" dy="12">2</tspan><tspan dy="-12">(</tspan>wt: BB/YP)</text>
<text transform="translate(148,575.7) rotate(-90)" text-anchor="middle" font-size="66.7">-log<tspan font-size="44" font-weight="normal" stroke-width="0" dy="11">10</tspan><tspan dy="-11">(</tspan><tspan font-style="italic">p-value</tspan>)</text>
</g><g stroke="#000" stroke-width="4" fill="none">
<line x1="544.0" y1="2235" x2="544.0" y2="2275"/>
<line x1="820.0" y1="2235" x2="820.0" y2="2275"/>
<line x1="1096.0" y1="2235" x2="1096.0" y2="2275"/>
</g><path d="M1043.5,1723.7 1042.5,1723.5 1041.6,1723.3 1040.7,1722.9 1039.8,1722.5 1039.0,1721.9 1038.2,1721.3 1037.5,1720.6 1036.8,1719.9 1036.3,1719.1 1035.8,1718.2 1035.4,1717.3 1033.2,1711.6 1018.7,1686.5 1018.6,1686.3 1018.6,1686.2 1018.5,1686.0 1007.5,1665.0 999.2,1657.3 993.8,1656.6 987.1,1661.9 983.0,1691.1 981.0,1750.2 981.0,1808.9 981.7,1871.2 981.7,1871.2 981.7,1871.2 981.7,1871.3 981.7,1933.4 983.3,1979.6 986.3,2018.4 995.1,2048.0 1007.4,2084.9 1022.8,2124.6 1041.1,2164.6 1059.4,2201.1 1076.4,2226.6 1096.3,2242.1 1098.6,2241.0 1111.6,2222.7 1126.8,2192.4 1126.8,2192.4 1142.4,2161.3 1157.1,2131.7 1166.1,2087.2 1172.2,2041.1 1175.3,2010.1 1175.3,2010.0 1175.3,2009.9 1175.3,2009.7 1181.5,1963.2 1186.1,1916.8 1190.0,1870.2 1190.1,1870.1 1190.1,1870.1 1190.1,1870.1 1193.0,1839.9 1191.1,1817.0 1185.5,1793.6 1177.9,1770.8 1168.5,1750.1 1157.8,1732.3 1148.5,1723.7 1140.8,1721.7 1133.1,1724.8 1125.8,1734.0 1125.7,1734.4 1125.3,1735.3 1124.8,1736.2 1124.2,1737.0 1123.6,1737.7 1122.9,1738.4 1122.1,1739.0 1121.2,1739.6 1120.4,1740.0 1119.4,1740.3 1118.5,1740.6 1117.5,1740.8 1117.5,1740.8 1114.9,1754.0 1112.5,1780.5 1109.6,1840.3 1109.6,1840.7 1105.0,1887.6 1102.0,1933.5 1102.0,1933.5 1098.7,1976.5 1098.6,1977.2 1098.4,1977.9 1098.2,1978.5 1097.9,1979.2 1097.6,1979.8 1097.2,1980.3 1096.7,1980.9 1096.2,1981.3 1095.7,1981.7 1095.1,1982.1 1094.5,1982.4 1093.8,1982.7 1093.2,1982.8 1092.5,1983.0 1091.8,1983.0 1091.1,1983.0 1090.4,1982.9 1089.8,1982.7 1089.1,1982.5 1088.5,1982.2 1087.9,1981.9 1087.3,1981.5 1086.8,1981.0 1086.3,1980.5 1085.9,1980.0 1085.6,1979.4 1085.3,1978.8 1085.0,1978.1 1084.9,1977.4 1084.7,1976.8 1080.0,1933.8 1080.0,1933.2 1078.5,1887.6 1072.1,1841.0 1072.1,1840.9 1065.7,1793.5 1065.6,1793.5 1064.7,1793.2 1063.7,1792.9 1062.8,1792.5 1062.0,1792.0 1061.2,1791.4 1060.4,1790.8 1059.8,1790.0 1059.2,1789.2 1058.6,1788.4 1058.2,1787.5 1057.9,1786.5 1055.8,1779.6 1055.5,1778.7 1055.4,1777.7 1055.3,1776.7 1055.4,1775.7 1055.5,1774.8 1055.8,1773.8 1056.1,1772.9 1056.5,1772.0 1057.0,1771.2 1057.6,1770.4 1058.3,1769.6 1059.0,1769.0 1053.5,1755.6 1053.3,1754.9 1044.5,1723.8 1043.5,1723.7Z" fill="rgb(112,48,160)"/>
<g fill="rgba(112,48,160,0.17)" stroke="rgba(112,48,160,0.82)" stroke-width="3.3">
<circle cx="1014.3" cy="2101.5" r="11.7"/><circle cx="1019.7" cy="1685.7" r="11.7"/><circle cx="1164.4" cy="2099.8" r="11.7"/><circle cx="1250.5" cy="1683.0" r="11.7"/><circle cx="1184.0" cy="1670.8" r="11.7"/><circle cx="1018.3" cy="1695.8" r="11.7"/><circle cx="977.3" cy="1618.7" r="11.7"/><circle cx="917.4" cy="1777.9" r="11.7"/><circle cx="898.7" cy="1740.6" r="11.7"/><circle cx="1234.9" cy="1687.6" r="11.7"/><circle cx="963.9" cy="1934.3" r="11.7"/><circle cx="1202.4" cy="1781.0" r="11.7"/><circle cx="997.4" cy="2024.8" r="11.7"/><circle cx="1185.1" cy="1833.7" r="11.7"/><circle cx="1094.0" cy="2235.8" r="11.7"/><circle cx="1112.0" cy="1910.6" r="11.7"/><circle cx="1106.7" cy="1937.2" r="11.7"/><circle cx="1180.9" cy="1874.0" r="11.7"/><circle cx="946.0" cy="1647.4" r="11.7"/><circle cx="940.1" cy="1546.8" r="11.7"/><circle cx="1210.0" cy="1824.6" r="11.7"/><circle cx="1227.3" cy="1864.5" r="11.7"/><circle cx="746.1" cy="1514.3" r="11.7"/><circle cx="980.9" cy="1882.5" r="11.7"/><circle cx="1185.5" cy="1885.9" r="11.7"/><circle cx="1172.5" cy="1785.2" r="11.7"/><circle cx="1253.6" cy="1992.8" r="11.7"/><circle cx="1159.2" cy="2085.0" r="11.7"/><circle cx="1193.9" cy="1810.8" r="11.7"/><circle cx="987.4" cy="1809.7" r="11.7"/><circle cx="1118.6" cy="1789.7" r="11.7"/><circle cx="828.4" cy="1710.0" r="11.7"/><circle cx="1218.3" cy="1858.4" r="11.7"/><circle cx="982.1" cy="1859.7" r="11.7"/><circle cx="911.1" cy="2033.2" r="11.7"/><circle cx="1112.0" cy="2211.5" r="11.7"/><circle cx="945.4" cy="2101.7" r="11.7"/><circle cx="1014.2" cy="2088.7" r="11.7"/><circle cx="948.5" cy="1911.8" r="11.7"/><circle cx="994.6" cy="1999.5" r="11.7"/><circle cx="956.0" cy="1769.7" r="11.7"/><circle cx="999.7" cy="2037.2" r="11.7"/><circle cx="1170.6" cy="2062.7" r="11.7"/><circle cx="943.5" cy="1887.5" r="11.7"/><circle cx="1169.8" cy="2029.6" r="11.7"/><circle cx="1038.8" cy="1646.6" r="11.7"/><circle cx="978.8" cy="1950.8" r="11.7"/><circle cx="920.5" cy="1703.2" r="11.7"/><circle cx="1107.6" cy="1960.6" r="11.7"/><circle cx="949.2" cy="1937.5" r="11.7"/><circle cx="1222.9" cy="1951.6" r="11.7"/><circle cx="1017.0" cy="2145.3" r="11.7"/><circle cx="979.4" cy="1983.7" r="11.7"/><circle cx="991.7" cy="1962.3" r="11.7"/><circle cx="1002.8" cy="2069.7" r="11.7"/><circle cx="986.0" cy="1689.0" r="11.7"/><circle cx="1191.4" cy="1831.4" r="11.7"/><circle cx="945.4" cy="1796.6" r="11.7"/><circle cx="1198.3" cy="1891.1" r="11.7"/><circle cx="985.2" cy="1960.1" r="11.7"/><circle cx="1222.5" cy="2005.2" r="11.7"/><circle cx="1061.1" cy="2205.4" r="11.7"/><circle cx="988.6" cy="2038.2" r="11.7"/><circle cx="1825.4" cy="1486.9" r="11.7"/><circle cx="943.5" cy="1902.0" r="11.7"/><circle cx="973.1" cy="1915.7" r="11.7"/><circle cx="819.5" cy="1519.2" r="11.7"/><circle cx="967.4" cy="1695.6" r="11.7"/><circle cx="1180.1" cy="1766.4" r="11.7"/><circle cx="1003.9" cy="1677.5" r="11.7"/><circle cx="907.3" cy="1867.1" r="11.7"/><circle cx="915.9" cy="1717.3" r="11.7"/><circle cx="1178.9" cy="2164.0" r="11.7"/><circle cx="1164.0" cy="2047.6" r="11.7"/><circle cx="1013.4" cy="2152.0" r="11.7"/><circle cx="991.0" cy="1716.3" r="11.7"/><circle cx="1110.4" cy="1915.1" r="11.7"/><circle cx="1082.3" cy="2218.3" r="11.7"/><circle cx="1109.6" cy="1895.4" r="11.7"/><circle cx="892.5" cy="1939.8" r="11.7"/><circle cx="1125.1" cy="1730.3" r="11.7"/><circle cx="1192.2" cy="1811.3" r="11.7"/><circle cx="1194.1" cy="1809.8" r="11.7"/><circle cx="984.0" cy="2006.8" r="11.7"/><circle cx="972.4" cy="1843.4" r="11.7"/><circle cx="1170.1" cy="2033.2" r="11.7"/><circle cx="1028.7" cy="1645.8" r="11.7"/><circle cx="1100.9" cy="2233.2" r="11.7"/><circle cx="980.3" cy="1833.5" r="11.7"/><circle cx="889.3" cy="1703.2" r="11.7"/><circle cx="1001.4" cy="2182.7" r="11.7"/><circle cx="982.4" cy="1702.0" r="11.7"/><circle cx="980.8" cy="1934.4" r="11.7"/><circle cx="981.8" cy="1734.1" r="11.7"/><circle cx="977.7" cy="1901.5" r="11.7"/><circle cx="762.6" cy="1747.8" r="11.7"/><circle cx="973.5" cy="1914.3" r="11.7"/><circle cx="1079.2" cy="1974.3" r="11.7"/><circle cx="1297.2" cy="1672.1" r="11.7"/><circle cx="889.3" cy="1964.7" r="11.7"/><circle cx="942.3" cy="1687.6" r="11.7"/><circle cx="981.7" cy="1798.1" r="11.7"/><circle cx="1122.3" cy="1689.5" r="11.7"/><circle cx="1041.7" cy="2143.2" r="11.7"/><circle cx="986.2" cy="1718.6" r="11.7"/><circle cx="1124.9" cy="1732.5" r="11.7"/><circle cx="898.9" cy="1658.3" r="11.7"/><circle cx="980.1" cy="1784.9" r="11.7"/><circle cx="892.5" cy="1806.0" r="11.7"/><circle cx="1205.8" cy="1830.6" r="11.7"/><circle cx="1253.6" cy="1942.9" r="11.7"/><circle cx="1127.4" cy="1742.8" r="11.7"/><circle cx="1114.2" cy="1841.5" r="11.7"/><circle cx="1247.4" cy="1846.4" r="11.7"/><circle cx="1197.1" cy="2031.0" r="11.7"/><circle cx="1126.1" cy="1745.6" r="11.7"/><circle cx="864.5" cy="1516.5" r="11.7"/><circle cx="954.2" cy="1974.5" r="11.7"/><circle cx="1165.9" cy="1741.1" r="11.7"/><circle cx="1004.5" cy="1622.3" r="11.7"/><circle cx="936.0" cy="1709.4" r="11.7"/><circle cx="982.9" cy="1659.4" r="11.7"/><circle cx="1026.3" cy="2207.6" r="11.7"/><circle cx="874.7" cy="1715.8" r="11.7"/><circle cx="1193.6" cy="1942.8" r="11.7"/><circle cx="906.1" cy="1809.5" r="11.7"/><circle cx="1097.7" cy="2234.2" r="11.7"/><circle cx="980.8" cy="1784.9" r="11.7"/><circle cx="991.8" cy="2041.6" r="11.7"/><circle cx="959.3" cy="2022.3" r="11.7"/><circle cx="1114.9" cy="1688.4" r="11.7"/><circle cx="1173.4" cy="1997.2" r="11.7"/><circle cx="1025.5" cy="2119.7" r="11.7"/><circle cx="978.6" cy="1715.8" r="11.7"/><circle cx="985.7" cy="1888.1" r="11.7"/><circle cx="951.4" cy="1878.7" r="11.7"/><circle cx="1065.6" cy="1857.6" r="11.7"/><circle cx="1074.0" cy="1928.4" r="11.7"/><circle cx="977.3" cy="1802.0" r="11.7"/><circle cx="988.8" cy="1734.2" r="11.7"/><circle cx="1231.8" cy="1734.3" r="11.7"/><circle cx="906.9" cy="1854.7" r="11.7"/><circle cx="1172.9" cy="1748.1" r="11.7"/><circle cx="1053.4" cy="1706.2" r="11.7"/><circle cx="980.9" cy="1978.1" r="11.7"/><circle cx="1040.2" cy="2156.8" r="11.7"/><circle cx="1126.0" cy="1673.6" r="11.7"/><circle cx="980.7" cy="1795.2" r="11.7"/><circle cx="1132.2" cy="1564.7" r="11.7"/><circle cx="990.9" cy="1798.2" r="11.7"/><circle cx="991.7" cy="2050.2" r="11.7"/><circle cx="1001.5" cy="2078.2" r="11.7"/><circle cx="942.9" cy="2021.5" r="11.7"/><circle cx="1039.6" cy="1720.1" r="11.7"/><circle cx="1032.2" cy="2133.2" r="11.7"/><circle cx="991.3" cy="1989.9" r="11.7"/><circle cx="1028.1" cy="1675.3" r="11.7"/><circle cx="1170.7" cy="2074.7" r="11.7"/><circle cx="1114.4" cy="2231.2" r="11.7"/><circle cx="969.2" cy="1761.1" r="11.7"/><circle cx="1181.4" cy="1962.2" r="11.7"/><circle cx="580.2" cy="1707.8" r="11.7"/><circle cx="1029.8" cy="2138.3" r="11.7"/><circle cx="1078.3" cy="1964.4" r="11.7"/><circle cx="1144.7" cy="1719.3" r="11.7"/><circle cx="978.4" cy="1848.5" r="11.7"/><circle cx="952.5" cy="1645.4" r="11.7"/><circle cx="1186.6" cy="1944.0" r="11.7"/><circle cx="1050.0" cy="2184.0" r="11.7"/><circle cx="1158.4" cy="1741.6" r="11.7"/><circle cx="958.9" cy="1998.7" r="11.7"/><circle cx="916.7" cy="1867.1" r="11.7"/><circle cx="915.6" cy="1700.4" r="11.7"/><circle cx="1262.9" cy="1824.6" r="11.7"/><circle cx="947.4" cy="1682.2" r="11.7"/><circle cx="1171.8" cy="1769.9" r="11.7"/><circle cx="855.1" cy="1647.7" r="11.7"/><circle cx="1180.3" cy="1799.9" r="11.7"/><circle cx="1189.6" cy="1858.5" r="11.7"/><circle cx="983.1" cy="1623.2" r="11.7"/><circle cx="1068.7" cy="2216.3" r="11.7"/><circle cx="1333.7" cy="1483.6" r="11.7"/><circle cx="953.3" cy="1989.8" r="11.7"/><circle cx="985.5" cy="1710.7" r="11.7"/><circle cx="1173.4" cy="2163.3" r="11.7"/><circle cx="952.7" cy="1761.0" r="11.7"/><circle cx="730.6" cy="1576.6" r="11.7"/><circle cx="1005.8" cy="1668.0" r="11.7"/><circle cx="977.7" cy="1728.8" r="11.7"/><circle cx="1072.1" cy="1938.3" r="11.7"/><circle cx="1134.1" cy="2160.9" r="11.7"/><circle cx="1167.1" cy="2100.7" r="11.7"/><circle cx="1177.6" cy="1937.1" r="11.7"/><circle cx="1317.3" cy="1956.3" r="11.7"/><circle cx="923.6" cy="2079.9" r="11.7"/><circle cx="972.1" cy="1857.5" r="11.7"/><circle cx="1203.7" cy="1968.1" r="11.7"/><circle cx="1191.5" cy="1832.4" r="11.7"/><circle cx="697.2" cy="1741.1" r="11.7"/><circle cx="1135.3" cy="1647.2" r="11.7"/><circle cx="1163.4" cy="2097.6" r="11.7"/><circle cx="855.1" cy="1700.2" r="11.7"/><circle cx="1181.1" cy="1917.7" r="11.7"/><circle cx="1003.8" cy="2050.6" r="11.7"/><circle cx="901.8" cy="1784.2" r="11.7"/><circle cx="1262.9" cy="2008.3" r="11.7"/><circle cx="985.9" cy="1787.4" r="11.7"/><circle cx="967.2" cy="2089.3" r="11.7"/><circle cx="1218.7" cy="2002.4" r="11.7"/><circle cx="974.6" cy="1939.8" r="11.7"/><circle cx="1066.5" cy="2192.9" r="11.7"/><circle cx="1234.9" cy="1890.0" r="11.7"/><circle cx="1183.9" cy="1886.5" r="11.7"/><circle cx="1117.3" cy="2201.7" r="11.7"/><circle cx="1111.4" cy="1923.0" r="11.7"/><circle cx="1210.0" cy="1855.8" r="11.7"/><circle cx="1030.9" cy="1700.4" r="11.7"/><circle cx="982.7" cy="2151.5" r="11.7"/><circle cx="1005.6" cy="2060.9" r="11.7"/><circle cx="1091.7" cy="2233.1" r="11.7"/><circle cx="984.2" cy="1711.9" r="11.7"/><circle cx="1146.6" cy="1723.2" r="11.7"/><circle cx="990.3" cy="1869.0" r="11.7"/><circle cx="985.2" cy="1727.1" r="11.7"/><circle cx="927.9" cy="1850.6" r="11.7"/><circle cx="980.8" cy="1934.1" r="11.7"/><circle cx="1149.9" cy="2121.5" r="11.7"/><circle cx="1079.6" cy="1968.7" r="11.7"/><circle cx="988.4" cy="1656.3" r="11.7"/><circle cx="1039.3" cy="2172.3" r="11.7"/><circle cx="993.0" cy="2015.9" r="11.7"/><circle cx="1177.2" cy="1937.2" r="11.7"/><circle cx="1164.7" cy="2085.4" r="11.7"/><circle cx="1171.5" cy="1678.4" r="11.7"/><circle cx="889.3" cy="1659.6" r="11.7"/><circle cx="1120.9" cy="1761.8" r="11.7"/><circle cx="1105.0" cy="2226.1" r="11.7"/><circle cx="1168.5" cy="1998.1" r="11.7"/><circle cx="965.7" cy="1953.5" r="11.7"/><circle cx="988.8" cy="2031.1" r="11.7"/><circle cx="1240.7" cy="1931.7" r="11.7"/><circle cx="1172.4" cy="2064.1" r="11.7"/><circle cx="985.6" cy="1852.3" r="11.7"/><circle cx="1090.9" cy="2232.1" r="11.7"/><circle cx="1025.9" cy="2109.5" r="11.7"/><circle cx="1143.7" cy="2144.2" r="11.7"/><circle cx="1052.0" cy="2172.7" r="11.7"/><circle cx="973.3" cy="1623.9" r="11.7"/><circle cx="993.6" cy="2011.3" r="11.7"/><circle cx="1160.5" cy="2099.7" r="11.7"/><circle cx="1085.1" cy="2237.3" r="11.7"/><circle cx="953.0" cy="1655.3" r="11.7"/><circle cx="924.2" cy="1945.0" r="11.7"/><circle cx="1186.8" cy="1827.3" r="11.7"/><circle cx="1335.0" cy="1758.0" r="11.7"/><circle cx="1069.8" cy="1896.0" r="11.7"/><circle cx="1075.8" cy="2227.7" r="11.7"/><circle cx="1185.5" cy="1780.7" r="11.7"/><circle cx="1178.4" cy="1918.2" r="11.7"/><circle cx="944.4" cy="2017.9" r="11.7"/><circle cx="1128.9" cy="1719.4" r="11.7"/><circle cx="984.6" cy="1770.4" r="11.7"/><circle cx="960.7" cy="1912.9" r="11.7"/><circle cx="1138.9" cy="2170.2" r="11.7"/><circle cx="1122.5" cy="1734.3" r="11.7"/><circle cx="951.6" cy="1834.0" r="11.7"/><circle cx="944.5" cy="1933.3" r="11.7"/><circle cx="938.0" cy="1787.0" r="11.7"/><circle cx="984.2" cy="1812.8" r="11.7"/><circle cx="1189.6" cy="1922.4" r="11.7"/><circle cx="949.3" cy="1727.7" r="11.7"/><circle cx="985.0" cy="2059.4" r="11.7"/><circle cx="1082.7" cy="2229.4" r="11.7"/><circle cx="1177.9" cy="1902.8" r="11.7"/><circle cx="964.2" cy="1983.7" r="11.7"/><circle cx="904.9" cy="1644.1" r="11.7"/><circle cx="942.3" cy="1918.0" r="11.7"/><circle cx="976.1" cy="1677.4" r="11.7"/><circle cx="1037.8" cy="1722.9" r="11.7"/><circle cx="1075.0" cy="1888.8" r="11.7"/><circle cx="986.2" cy="1732.9" r="11.7"/><circle cx="1070.9" cy="1903.3" r="11.7"/><circle cx="947.4" cy="1998.8" r="11.7"/><circle cx="1060.9" cy="1810.8" r="11.7"/><circle cx="1042.4" cy="2177.5" r="11.7"/><circle cx="1136.4" cy="1723.1" r="11.7"/><circle cx="982.7" cy="1807.0" r="11.7"/><circle cx="939.1" cy="1747.2" r="11.7"/><circle cx="1110.3" cy="1905.4" r="11.7"/><circle cx="957.8" cy="1647.2" r="11.7"/><circle cx="1058.0" cy="1797.1" r="11.7"/><circle cx="1062.4" cy="2191.6" r="11.7"/><circle cx="829.3" cy="1666.9" r="11.7"/><circle cx="909.2" cy="1905.8" r="11.7"/><circle cx="960.9" cy="1690.8" r="11.7"/><circle cx="725.2" cy="1828.3" r="11.7"/><circle cx="1127.0" cy="1719.9" r="11.7"/><circle cx="678.1" cy="1669.1" r="11.7"/><circle cx="993.1" cy="1682.6" r="11.7"/><circle cx="847.1" cy="1576.6" r="11.7"/><circle cx="951.6" cy="1740.6" r="11.7"/><circle cx="1052.8" cy="2235.2" r="11.7"/><circle cx="1117.0" cy="1803.4" r="11.7"/><circle cx="986.3" cy="1886.9" r="11.7"/><circle cx="1177.3" cy="1788.9" r="11.7"/><circle cx="1113.0" cy="1908.6" r="11.7"/><circle cx="1385.3" cy="1795.0" r="11.7"/><circle cx="1010.6" cy="1691.6" r="11.7"/><circle cx="1033.5" cy="1725.8" r="11.7"/><circle cx="987.4" cy="1873.9" r="11.7"/><circle cx="1312.4" cy="1981.1" r="11.7"/><circle cx="983.7" cy="1678.4" r="11.7"/><circle cx="1165.3" cy="2127.2" r="11.7"/><circle cx="1065.8" cy="2198.9" r="11.7"/><circle cx="703.0" cy="1970.1" r="11.7"/><circle cx="1114.1" cy="1851.6" r="11.7"/><circle cx="1215.5" cy="2012.5" r="11.7"/><circle cx="908.0" cy="1535.7" r="11.7"/><circle cx="1236.9" cy="1920.8" r="11.7"/><circle cx="580.2" cy="1768.3" r="11.7"/><circle cx="983.3" cy="1830.8" r="11.7"/><circle cx="1214.5" cy="1788.3" r="11.7"/><circle cx="1076.2" cy="1973.4" r="11.7"/><circle cx="960.9" cy="1858.9" r="11.7"/><circle cx="976.3" cy="1696.8" r="11.7"/><circle cx="969.1" cy="1832.8" r="11.7"/><circle cx="937.5" cy="1878.4" r="11.7"/><circle cx="983.5" cy="1838.4" r="11.7"/><circle cx="983.4" cy="1919.3" r="11.7"/><circle cx="1075.3" cy="2227.4" r="11.7"/><circle cx="1029.5" cy="2123.9" r="11.7"/><circle cx="987.4" cy="1965.1" r="11.7"/><circle cx="929.8" cy="1799.7" r="11.7"/><circle cx="1005.5" cy="2119.8" r="11.7"/><circle cx="985.3" cy="1784.2" r="11.7"/><circle cx="1177.8" cy="1699.8" r="11.7"/><circle cx="1169.9" cy="1701.0" r="11.7"/><circle cx="1020.6" cy="2104.4" r="11.7"/><circle cx="1067.5" cy="1859.5" r="11.7"/><circle cx="960.9" cy="1802.8" r="11.7"/><circle cx="968.0" cy="1856.2" r="11.7"/><circle cx="1195.1" cy="2027.9" r="11.7"/><circle cx="1181.6" cy="1854.5" r="11.7"/><circle cx="1207.6" cy="1849.4" r="11.7"/><circle cx="951.6" cy="1706.3" r="11.7"/><circle cx="993.9" cy="1653.4" r="11.7"/><circle cx="1075.4" cy="2226.9" r="11.7"/><circle cx="1178.9" cy="1665.9" r="11.7"/><circle cx="1166.1" cy="1743.6" r="11.7"/><circle cx="1192.4" cy="1836.1" r="11.7"/><circle cx="1073.9" cy="1891.9" r="11.7"/><circle cx="1021.0" cy="2101.9" r="11.7"/><circle cx="901.8" cy="1886.9" r="11.7"/><circle cx="992.1" cy="2046.2" r="11.7"/><circle cx="954.9" cy="1659.5" r="11.7"/><circle cx="979.1" cy="2024.3" r="11.7"/><circle cx="980.0" cy="1636.2" r="11.7"/><circle cx="1023.6" cy="2134.8" r="11.7"/><circle cx="1155.7" cy="2149.2" r="11.7"/><circle cx="1129.0" cy="1721.2" r="11.7"/><circle cx="1162.9" cy="2096.2" r="11.7"/><circle cx="1175.7" cy="1977.7" r="11.7"/><circle cx="1213.1" cy="1983.4" r="11.7"/><circle cx="980.2" cy="1937.6" r="11.7"/><circle cx="874.7" cy="1787.0" r="11.7"/><circle cx="983.3" cy="1815.8" r="11.7"/><circle cx="988.5" cy="1660.1" r="11.7"/><circle cx="1222.5" cy="1734.3" r="11.7"/><circle cx="989.6" cy="1917.5" r="11.7"/><circle cx="1218.7" cy="1939.1" r="11.7"/><circle cx="1247.4" cy="1918.0" r="11.7"/><circle cx="1167.7" cy="2000.5" r="11.7"/><circle cx="1015.1" cy="2108.6" r="11.7"/><circle cx="1010.8" cy="1672.1" r="11.7"/><circle cx="1216.2" cy="1883.8" r="11.7"/><circle cx="1070.5" cy="1874.4" r="11.7"/><circle cx="1164.9" cy="2099.5" r="11.7"/><circle cx="1055.9" cy="1648.7" r="11.7"/><circle cx="1151.5" cy="1729.5" r="11.7"/><circle cx="986.6" cy="1758.2" r="11.7"/><circle cx="1072.6" cy="2229.4" r="11.7"/><circle cx="1166.9" cy="2100.9" r="11.7"/><circle cx="1180.2" cy="1933.4" r="11.7"/><circle cx="1032.2" cy="2153.5" r="11.7"/><circle cx="1174.1" cy="1981.5" r="11.7"/><circle cx="1236.7" cy="1976.5" r="11.7"/><circle cx="1194.4" cy="2104.8" r="11.7"/><circle cx="1187.9" cy="1804.6" r="11.7"/><circle cx="1124.3" cy="1723.8" r="11.7"/><circle cx="1001.4" cy="1631.6" r="11.7"/><circle cx="1117.2" cy="2217.3" r="11.7"/><circle cx="1002.8" cy="1655.0" r="11.7"/><circle cx="911.1" cy="1802.8" r="11.7"/><circle cx="890.5" cy="1679.7" r="11.7"/><circle cx="1041.4" cy="1733.7" r="11.7"/><circle cx="895.6" cy="1669.0" r="11.7"/><circle cx="1013.1" cy="1679.4" r="11.7"/><circle cx="991.0" cy="1991.6" r="11.7"/><circle cx="1171.6" cy="2007.8" r="11.7"/><circle cx="1171.1" cy="1980.0" r="11.7"/><circle cx="1009.0" cy="1661.4" r="11.7"/><circle cx="1034.8" cy="1716.8" r="11.7"/><circle cx="898.7" cy="1999.0" r="11.7"/><circle cx="1045.0" cy="1687.6" r="11.7"/><circle cx="1118.2" cy="2220.6" r="11.7"/><circle cx="942.7" cy="1453.4" r="11.7"/><circle cx="979.5" cy="1683.1" r="11.7"/><circle cx="1173.4" cy="2107.1" r="11.7"/><circle cx="1118.4" cy="1794.7" r="11.7"/><circle cx="1049.5" cy="1524.5" r="11.7"/><circle cx="985.9" cy="1943.1" r="11.7"/><circle cx="1177.9" cy="1791.7" r="11.7"/><circle cx="1183.1" cy="1882.8" r="11.7"/><circle cx="982.2" cy="1663.5" r="11.7"/><circle cx="997.3" cy="2125.2" r="11.7"/><circle cx="1216.2" cy="2170.2" r="11.7"/><circle cx="372.5" cy="1781.6" r="11.7"/><circle cx="759.5" cy="1832.8" r="11.7"/><circle cx="1067.6" cy="2219.1" r="11.7"/><circle cx="916.6" cy="1815.9" r="11.7"/><circle cx="1306.1" cy="1672.2" r="11.7"/><circle cx="1111.9" cy="2228.2" r="11.7"/><circle cx="1029.6" cy="1707.8" r="11.7"/><circle cx="968.0" cy="1856.8" r="11.7"/><circle cx="993.9" cy="2054.8" r="11.7"/><circle cx="1311.9" cy="1842.6" r="11.7"/><circle cx="1109.3" cy="2234.1" r="11.7"/><circle cx="1009.0" cy="1521.4" r="11.7"/><circle cx="1188.4" cy="1908.0" r="11.7"/><circle cx="1118.0" cy="1767.6" r="11.7"/><circle cx="1026.7" cy="2110.8" r="11.7"/><circle cx="1163.2" cy="2093.9" r="11.7"/><circle cx="1054.7" cy="1779.8" r="11.7"/><circle cx="926.7" cy="1616.0" r="11.7"/><circle cx="1159.5" cy="1743.5" r="11.7"/><circle cx="1131.1" cy="2174.9" r="11.7"/><circle cx="1104.2" cy="1734.3" r="11.7"/><circle cx="1118.9" cy="1804.5" r="11.7"/><circle cx="1328.4" cy="1686.9" r="11.7"/><circle cx="1172.4" cy="2061.9" r="11.7"/><circle cx="732.8" cy="1741.1" r="11.7"/><circle cx="1180.7" cy="1685.9" r="11.7"/><circle cx="751.9" cy="1863.4" r="11.7"/><circle cx="1031.9" cy="2145.2" r="11.7"/><circle cx="1149.0" cy="2154.2" r="11.7"/><circle cx="1032.2" cy="2134.5" r="11.7"/><circle cx="817.7" cy="1629.1" r="11.7"/><circle cx="1284.7" cy="1868.2" r="11.7"/><circle cx="1105.2" cy="1940.8" r="11.7"/><circle cx="1087.0" cy="2237.7" r="11.7"/><circle cx="989.3" cy="1791.4" r="11.7"/><circle cx="940.6" cy="1746.4" r="11.7"/><circle cx="900.8" cy="1733.8" r="11.7"/><circle cx="1181.4" cy="1758.1" r="11.7"/><circle cx="990.4" cy="1718.0" r="11.7"/><circle cx="1163.9" cy="2069.8" r="11.7"/><circle cx="1132.2" cy="1609.8" r="11.7"/><circle cx="994.0" cy="1674.4" r="11.7"/><circle cx="1191.0" cy="1911.2" r="11.7"/><circle cx="977.0" cy="1939.1" r="11.7"/><circle cx="895.6" cy="1849.5" r="11.7"/><circle cx="952.7" cy="1670.7" r="11.7"/><circle cx="858.7" cy="1730.0" r="11.7"/><circle cx="1146.9" cy="2155.4" r="11.7"/><circle cx="1032.1" cy="2144.2" r="11.7"/><circle cx="879.1" cy="1669.1" r="11.7"/><circle cx="1184.8" cy="1781.1" r="11.7"/><circle cx="995.2" cy="1670.6" r="11.7"/><circle cx="936.0" cy="1902.5" r="11.7"/><circle cx="1120.4" cy="1785.6" r="11.7"/><circle cx="1117.1" cy="1813.3" r="11.7"/><circle cx="979.7" cy="1900.9" r="11.7"/><circle cx="1192.9" cy="1808.8" r="11.7"/><circle cx="747.0" cy="1729.1" r="11.7"/><circle cx="917.6" cy="1673.4" r="11.7"/><circle cx="1074.3" cy="2211.0" r="11.7"/><circle cx="957.8" cy="2002.1" r="11.7"/><circle cx="1051.0" cy="2172.2" r="11.7"/><circle cx="1141.0" cy="2146.9" r="11.7"/><circle cx="942.3" cy="1634.7" r="11.7"/><circle cx="1153.7" cy="2181.4" r="11.7"/><circle cx="1082.4" cy="1871.3" r="11.7"/><circle cx="1165.8" cy="1763.1" r="11.7"/><circle cx="988.5" cy="1634.6" r="11.7"/><circle cx="1008.8" cy="2086.3" r="11.7"/><circle cx="1162.4" cy="2062.1" r="11.7"/><circle cx="1063.8" cy="2200.0" r="11.7"/><circle cx="1163.3" cy="1745.2" r="11.7"/><circle cx="940.3" cy="1835.7" r="11.7"/><circle cx="1035.7" cy="1637.8" r="11.7"/><circle cx="908.7" cy="1770.5" r="11.7"/><circle cx="1065.4" cy="2216.0" r="11.7"/><circle cx="1112.0" cy="1922.7" r="11.7"/><circle cx="1046.0" cy="2210.6" r="11.7"/><circle cx="984.1" cy="1663.8" r="11.7"/><circle cx="940.8" cy="1735.7" r="11.7"/><circle cx="923.6" cy="1955.4" r="11.7"/><circle cx="1021.7" cy="1684.7" r="11.7"/><circle cx="1033.6" cy="2135.3" r="11.7"/><circle cx="978.1" cy="1835.9" r="11.7"/><circle cx="700.3" cy="1622.4" r="11.7"/><circle cx="1205.0" cy="1849.1" r="11.7"/><circle cx="923.6" cy="1858.9" r="11.7"/><circle cx="1183.8" cy="1969.4" r="11.7"/><circle cx="1137.0" cy="2200.5" r="11.7"/><circle cx="886.2" cy="1777.9" r="11.7"/><circle cx="865.8" cy="1702.5" r="11.7"/><circle cx="1048.1" cy="1669.0" r="11.7"/><circle cx="981.3" cy="2035.8" r="11.7"/><circle cx="1171.4" cy="2022.8" r="11.7"/><circle cx="1157.6" cy="2137.5" r="11.7"/><circle cx="1323.9" cy="1773.6" r="11.7"/><circle cx="1167.6" cy="2014.9" r="11.7"/><circle cx="1079.8" cy="2219.0" r="11.7"/><circle cx="983.5" cy="1942.4" r="11.7"/><circle cx="1209.6" cy="1759.6" r="11.7"/><circle cx="1136.8" cy="2176.9" r="11.7"/><circle cx="1131.3" cy="1706.7" r="11.7"/><circle cx="1243.6" cy="1771.5" r="11.7"/><circle cx="1044.4" cy="2148.9" r="11.7"/><circle cx="962.0" cy="1643.6" r="11.7"/><circle cx="1131.4" cy="1736.4" r="11.7"/><circle cx="926.7" cy="1725.0" r="11.7"/><circle cx="1178.3" cy="1922.1" r="11.7"/><circle cx="986.9" cy="2006.7" r="11.7"/><circle cx="917.4" cy="1846.4" r="11.7"/><circle cx="1122.0" cy="2190.6" r="11.7"/><circle cx="1085.8" cy="2232.7" r="11.7"/><circle cx="932.9" cy="1746.8" r="11.7"/><circle cx="1108.4" cy="1928.4" r="11.7"/><circle cx="1120.4" cy="2211.3" r="11.7"/><circle cx="981.4" cy="1770.5" r="11.7"/><circle cx="1238.0" cy="2086.2" r="11.7"/><circle cx="981.1" cy="1780.2" r="11.7"/><circle cx="1175.0" cy="1753.4" r="11.7"/><circle cx="1111.5" cy="1919.2" r="11.7"/><circle cx="958.1" cy="1725.5" r="11.7"/><circle cx="1041.3" cy="2169.8" r="11.7"/><circle cx="1107.0" cy="1959.2" r="11.7"/><circle cx="980.5" cy="1818.8" r="11.7"/><circle cx="948.2" cy="1668.8" r="11.7"/><circle cx="982.1" cy="1908.5" r="11.7"/><circle cx="1188.4" cy="2005.0" r="11.7"/><circle cx="988.1" cy="1971.2" r="11.7"/><circle cx="1113.0" cy="1859.9" r="11.7"/><circle cx="955.2" cy="1659.8" r="11.7"/><circle cx="1228.8" cy="1977.7" r="11.7"/><circle cx="1166.4" cy="1669.0" r="11.7"/><circle cx="1176.9" cy="1981.7" r="11.7"/><circle cx="1148.9" cy="1702.6" r="11.7"/><circle cx="1016.0" cy="1688.4" r="11.7"/><circle cx="835.1" cy="1663.8" r="11.7"/><circle cx="940.8" cy="1810.3" r="11.7"/><circle cx="939.2" cy="1830.9" r="11.7"/><circle cx="1187.4" cy="1837.5" r="11.7"/><circle cx="1278.5" cy="1958.5" r="11.7"/><circle cx="1006.7" cy="1633.1" r="11.7"/><circle cx="1183.9" cy="1893.8" r="11.7"/><circle cx="1170.7" cy="1745.7" r="11.7"/><circle cx="1150.0" cy="2120.6" r="11.7"/><circle cx="1054.3" cy="2201.4" r="11.7"/><circle cx="1247.4" cy="2039.5" r="11.7"/><circle cx="984.3" cy="1853.3" r="11.7"/><circle cx="1177.9" cy="1982.2" r="11.7"/><circle cx="990.7" cy="1935.0" r="11.7"/><circle cx="1184.0" cy="1820.1" r="11.7"/><circle cx="956.6" cy="1647.6" r="11.7"/><circle cx="972.9" cy="1809.6" r="11.7"/><circle cx="620.7" cy="1601.0" r="11.7"/><circle cx="1118.2" cy="2191.4" r="11.7"/><circle cx="1037.4" cy="1651.3" r="11.7"/><circle cx="932.9" cy="1675.2" r="11.7"/><circle cx="908.3" cy="1960.7" r="11.7"/><circle cx="1111.9" cy="1879.3" r="11.7"/><circle cx="911.0" cy="1761.1" r="11.7"/><circle cx="986.8" cy="2048.4" r="11.7"/><circle cx="911.1" cy="1662.7" r="11.7"/><circle cx="905.9" cy="1707.5" r="11.7"/><circle cx="1206.5" cy="1912.6" r="11.7"/><circle cx="1020.3" cy="1709.1" r="11.7"/><circle cx="1134.1" cy="1708.9" r="11.7"/><circle cx="927.2" cy="1513.4" r="11.7"/><circle cx="697.2" cy="1945.6" r="11.7"/><circle cx="1134.5" cy="2176.0" r="11.7"/><circle cx="1035.0" cy="1707.4" r="11.7"/><circle cx="703.0" cy="2030.2" r="11.7"/><circle cx="1171.5" cy="2003.8" r="11.7"/><circle cx="911.1" cy="1946.1" r="11.7"/><circle cx="1003.9" cy="2079.9" r="11.7"/><circle cx="1183.2" cy="1931.5" r="11.7"/><circle cx="942.8" cy="1696.3" r="11.7"/><circle cx="1104.5" cy="2240.9" r="11.7"/><circle cx="967.2" cy="2104.8" r="11.7"/><circle cx="1001.4" cy="1665.9" r="11.7"/><circle cx="1229.0" cy="1907.6" r="11.7"/><circle cx="1014.8" cy="2105.4" r="11.7"/><circle cx="986.4" cy="1697.7" r="11.7"/><circle cx="989.5" cy="1885.7" r="11.7"/><circle cx="1184.9" cy="1894.3" r="11.7"/><circle cx="1289.4" cy="1647.2" r="11.7"/><circle cx="1183.5" cy="1917.1" r="11.7"/><circle cx="1151.5" cy="2133.3" r="11.7"/><circle cx="882.7" cy="1532.5" r="11.7"/><circle cx="920.5" cy="1999.0" r="11.7"/><circle cx="997.4" cy="2036.0" r="11.7"/><circle cx="1208.0" cy="1839.8" r="11.7"/><circle cx="982.0" cy="1917.3" r="11.7"/><circle cx="926.7" cy="2017.7" r="11.7"/><circle cx="1176.3" cy="2024.8" r="11.7"/><circle cx="1137.7" cy="1700.3" r="11.7"/><circle cx="977.4" cy="1826.4" r="11.7"/><circle cx="1157.1" cy="2099.0" r="11.7"/><circle cx="1132.1" cy="1721.2" r="11.7"/><circle cx="983.4" cy="1749.1" r="11.7"/><circle cx="1131.2" cy="2180.9" r="11.7"/><circle cx="1032.5" cy="1705.2" r="11.7"/><circle cx="978.3" cy="1919.7" r="11.7"/><circle cx="1037.0" cy="1669.3" r="11.7"/><circle cx="1266.1" cy="1849.5" r="11.7"/><circle cx="1214.0" cy="1787.4" r="11.7"/><circle cx="1228.7" cy="2036.3" r="11.7"/><circle cx="1138.0" cy="1723.3" r="11.7"/><circle cx="1128.9" cy="1673.5" r="11.7"/><circle cx="1249.6" cy="1849.0" r="11.7"/><circle cx="1232.1" cy="1995.7" r="11.7"/><circle cx="948.5" cy="2036.3" r="11.7"/><circle cx="1195.4" cy="1791.4" r="11.7"/><circle cx="1075.5" cy="1914.3" r="11.7"/><circle cx="1005.6" cy="2077.1" r="11.7"/><circle cx="1066.7" cy="1846.4" r="11.7"/><circle cx="1153.2" cy="1736.5" r="11.7"/><circle cx="1275.4" cy="1858.9" r="11.7"/><circle cx="960.9" cy="1600.5" r="11.7"/><circle cx="1184.8" cy="1884.4" r="11.7"/><circle cx="1046.4" cy="1760.4" r="11.7"/><circle cx="1032.1" cy="1706.3" r="11.7"/><circle cx="988.6" cy="1615.0" r="11.7"/><circle cx="975.0" cy="1983.6" r="11.7"/><circle cx="1052.9" cy="2192.5" r="11.7"/><circle cx="972.0" cy="1872.7" r="11.7"/><circle cx="989.7" cy="1924.5" r="11.7"/><circle cx="1186.4" cy="1952.9" r="11.7"/><circle cx="984.6" cy="1739.4" r="11.7"/><circle cx="1148.9" cy="1675.0" r="11.7"/><circle cx="1178.2" cy="1703.4" r="11.7"/><circle cx="1193.9" cy="1973.2" r="11.7"/><circle cx="979.0" cy="1962.2" r="11.7"/><circle cx="987.2" cy="1829.5" r="11.7"/><circle cx="1075.4" cy="1901.7" r="11.7"/><circle cx="1173.4" cy="1981.2" r="11.7"/><circle cx="984.3" cy="1898.8" r="11.7"/><circle cx="903.2" cy="1785.1" r="11.7"/><circle cx="1200.2" cy="1842.6" r="11.7"/><circle cx="952.1" cy="1736.9" r="11.7"/><circle cx="1090.1" cy="2225.9" r="11.7"/><circle cx="990.1" cy="1889.2" r="11.7"/><circle cx="947.7" cy="1923.6" r="11.7"/><circle cx="989.9" cy="1777.9" r="11.7"/><circle cx="978.3" cy="1666.3" r="11.7"/><circle cx="965.4" cy="1916.5" r="11.7"/><circle cx="1037.1" cy="1727.7" r="11.7"/><circle cx="1164.3" cy="2066.3" r="11.7"/><circle cx="1191.3" cy="1690.8" r="11.7"/><circle cx="947.2" cy="1855.9" r="11.7"/><circle cx="970.8" cy="1603.8" r="11.7"/><circle cx="1043.1" cy="1746.0" r="11.7"/><circle cx="1008.1" cy="1682.4" r="11.7"/><circle cx="1167.3" cy="1752.2" r="11.7"/><circle cx="1069.8" cy="1868.1" r="11.7"/><circle cx="984.9" cy="1981.8" r="11.7"/><circle cx="1210.0" cy="1933.6" r="11.7"/><circle cx="1191.8" cy="1886.9" r="11.7"/><circle cx="1163.1" cy="1734.0" r="11.7"/><circle cx="1151.0" cy="2132.0" r="11.7"/><circle cx="989.4" cy="1934.1" r="11.7"/><circle cx="987.5" cy="1948.2" r="11.7"/><circle cx="1166.4" cy="2083.7" r="11.7"/><circle cx="1124.5" cy="1682.4" r="11.7"/><circle cx="1163.2" cy="1753.4" r="11.7"/><circle cx="978.1" cy="1723.6" r="11.7"/><circle cx="1115.2" cy="1817.6" r="11.7"/><circle cx="1228.7" cy="1796.6" r="11.7"/><circle cx="977.3" cy="2001.1" r="11.7"/><circle cx="972.7" cy="1595.9" r="11.7"/><circle cx="982.7" cy="1902.5" r="11.7"/><circle cx="1038.9" cy="1728.5" r="11.7"/><circle cx="1109.0" cy="1900.9" r="11.7"/><circle cx="1061.2" cy="1714.4" r="11.7"/><circle cx="999.5" cy="2055.2" r="11.7"/><circle cx="909.4" cy="1638.7" r="11.7"/><circle cx="522.4" cy="2163.6" r="11.7"/><circle cx="978.9" cy="1890.5" r="11.7"/><circle cx="1030.0" cy="2131.3" r="11.7"/><circle cx="1087.8" cy="2233.5" r="11.7"/><circle cx="1151.6" cy="1738.8" r="11.7"/><circle cx="1173.7" cy="1951.8" r="11.7"/><circle cx="1184.4" cy="1794.4" r="11.7"/><circle cx="942.3" cy="1952.3" r="11.7"/><circle cx="958.9" cy="1784.7" r="11.7"/><circle cx="1206.9" cy="1871.3" r="11.7"/><circle cx="1031.3" cy="2139.2" r="11.7"/><circle cx="1150.2" cy="2150.2" r="11.7"/><circle cx="1115.7" cy="1840.1" r="11.7"/><circle cx="1142.2" cy="2146.1" r="11.7"/><circle cx="990.7" cy="1961.8" r="11.7"/><circle cx="976.7" cy="1774.2" r="11.7"/><circle cx="688.8" cy="1770.5" r="11.7"/><circle cx="1184.2" cy="1978.3" r="11.7"/><circle cx="1188.2" cy="1640.9" r="11.7"/><circle cx="963.3" cy="1937.5" r="11.7"/><circle cx="1036.1" cy="2138.8" r="11.7"/><circle cx="1202.2" cy="1797.0" r="11.7"/><circle cx="1043.9" cy="1746.9" r="11.7"/><circle cx="1038.5" cy="1721.0" r="11.7"/><circle cx="926.7" cy="1653.4" r="11.7"/><circle cx="1079.2" cy="1965.1" r="11.7"/><circle cx="916.9" cy="1963.3" r="11.7"/><circle cx="1154.2" cy="2131.6" r="11.7"/><circle cx="1066.0" cy="1848.4" r="11.7"/><circle cx="1140.0" cy="1722.6" r="11.7"/><circle cx="886.7" cy="1686.1" r="11.7"/><circle cx="1185.6" cy="1944.1" r="11.7"/><circle cx="1178.9" cy="2192.0" r="11.7"/><circle cx="1005.5" cy="1670.1" r="11.7"/><circle cx="1167.6" cy="2066.4" r="11.7"/><circle cx="1031.1" cy="2146.8" r="11.7"/><circle cx="1033.1" cy="2133.4" r="11.7"/><circle cx="967.5" cy="1605.4" r="11.7"/><circle cx="1051.6" cy="2166.4" r="11.7"/><circle cx="932.9" cy="2061.2" r="11.7"/><circle cx="1017.0" cy="1572.5" r="11.7"/><circle cx="1269.2" cy="2017.7" r="11.7"/><circle cx="982.9" cy="1874.2" r="11.7"/><circle cx="1183.2" cy="1931.7" r="11.7"/><circle cx="951.9" cy="1820.5" r="11.7"/><circle cx="936.0" cy="1771.7" r="11.7"/><circle cx="1025.4" cy="2127.7" r="11.7"/><circle cx="1122.1" cy="1775.7" r="11.7"/><circle cx="1173.1" cy="1985.4" r="11.7"/><circle cx="1188.2" cy="1853.3" r="11.7"/><circle cx="939.9" cy="1649.4" r="11.7"/><circle cx="1056.6" cy="1780.4" r="11.7"/><circle cx="979.8" cy="1956.1" r="11.7"/><circle cx="1141.7" cy="1670.9" r="11.7"/><circle cx="960.8" cy="1622.5" r="11.7"/><circle cx="1238.0" cy="1936.7" r="11.7"/><circle cx="1154.0" cy="1744.2" r="11.7"/><circle cx="1004.5" cy="2151.5" r="11.7"/><circle cx="1160.0" cy="2097.1" r="11.7"/><circle cx="971.4" cy="1658.5" r="11.7"/><circle cx="957.9" cy="1914.1" r="11.7"/><circle cx="984.4" cy="1673.9" r="11.7"/><circle cx="1166.5" cy="2017.1" r="11.7"/><circle cx="1114.4" cy="2211.9" r="11.7"/><circle cx="1184.0" cy="1858.8" r="11.7"/><circle cx="989.0" cy="1597.4" r="11.7"/><circle cx="1026.0" cy="2124.7" r="11.7"/><circle cx="923.6" cy="1625.4" r="11.7"/><circle cx="1066.6" cy="2196.5" r="11.7"/><circle cx="1056.7" cy="2176.8" r="11.7"/><circle cx="1187.8" cy="1827.2" r="11.7"/><circle cx="775.9" cy="1663.8" r="11.7"/><circle cx="980.3" cy="1956.3" r="11.7"/><circle cx="1051.6" cy="1690.6" r="11.7"/><circle cx="1041.0" cy="1744.4" r="11.7"/><circle cx="1137.9" cy="2154.9" r="11.7"/><circle cx="1150.0" cy="1738.1" r="11.7"/><circle cx="1224.5" cy="1760.1" r="11.7"/><circle cx="1197.3" cy="1748.0" r="11.7"/><circle cx="601.6" cy="1865.6" r="11.7"/><circle cx="1034.2" cy="2146.6" r="11.7"/><circle cx="1060.5" cy="1697.9" r="11.7"/><circle cx="979.3" cy="1697.1" r="11.7"/><circle cx="979.9" cy="2052.7" r="11.7"/><circle cx="1158.6" cy="2068.4" r="11.7"/><circle cx="1001.6" cy="1659.7" r="11.7"/><circle cx="991.1" cy="1942.7" r="11.7"/><circle cx="1039.2" cy="2162.2" r="11.7"/><circle cx="1123.1" cy="1733.2" r="11.7"/><circle cx="1179.7" cy="1784.9" r="11.7"/><circle cx="1187.6" cy="1928.6" r="11.7"/><circle cx="986.2" cy="2031.4" r="11.7"/><circle cx="971.1" cy="2006.6" r="11.7"/><circle cx="1119.4" cy="2234.3" r="11.7"/><circle cx="1065.1" cy="1826.0" r="11.7"/><circle cx="1032.6" cy="1703.5" r="11.7"/><circle cx="942.3" cy="1977.2" r="11.7"/><circle cx="979.9" cy="1884.5" r="11.7"/><circle cx="984.2" cy="1949.6" r="11.7"/><circle cx="1044.4" cy="2149.5" r="11.7"/><circle cx="976.6" cy="1797.7" r="11.7"/><circle cx="1175.4" cy="1667.9" r="11.7"/><circle cx="932.8" cy="1939.2" r="11.7"/><circle cx="1177.5" cy="1918.8" r="11.7"/><circle cx="1020.3" cy="2101.5" r="11.7"/><circle cx="951.6" cy="1669.0" r="11.7"/><circle cx="1152.7" cy="1721.0" r="11.7"/><circle cx="995.4" cy="2025.5" r="11.7"/><circle cx="555.8" cy="1863.4" r="11.7"/><circle cx="942.3" cy="1653.4" r="11.7"/><circle cx="891.5" cy="1770.8" r="11.7"/><circle cx="1001.1" cy="1664.7" r="11.7"/><circle cx="1165.0" cy="2097.3" r="11.7"/><circle cx="1041.9" cy="1616.0" r="11.7"/><circle cx="938.9" cy="1867.7" r="11.7"/><circle cx="1194.5" cy="1979.3" r="11.7"/><circle cx="1192.0" cy="1845.0" r="11.7"/><circle cx="942.3" cy="1721.9" r="11.7"/><circle cx="1241.1" cy="1684.5" r="11.7"/><circle cx="1033.0" cy="2154.3" r="11.7"/><circle cx="970.4" cy="1805.3" r="11.7"/><circle cx="1127.5" cy="1725.1" r="11.7"/><circle cx="1229.0" cy="1810.8" r="11.7"/><circle cx="1363.9" cy="1746.0" r="11.7"/><circle cx="1167.0" cy="2075.2" r="11.7"/><circle cx="992.9" cy="2023.1" r="11.7"/><circle cx="982.9" cy="1808.7" r="11.7"/><circle cx="1350.6" cy="1672.2" r="11.7"/><circle cx="1139.0" cy="1706.2" r="11.7"/><circle cx="787.1" cy="1606.8" r="11.7"/><circle cx="1034.6" cy="1722.4" r="11.7"/><circle cx="1073.5" cy="2226.4" r="11.7"/><circle cx="1179.9" cy="1795.2" r="11.7"/><circle cx="1219.6" cy="1825.7" r="11.7"/><circle cx="914.2" cy="1746.8" r="11.7"/><circle cx="1197.6" cy="1656.5" r="11.7"/><circle cx="716.3" cy="1685.5" r="11.7"/><circle cx="1135.1" cy="2187.5" r="11.7"/><circle cx="930.5" cy="1793.0" r="11.7"/><circle cx="1014.8" cy="1670.1" r="11.7"/><circle cx="1179.4" cy="1963.6" r="11.7"/><circle cx="1190.3" cy="1805.5" r="11.7"/><circle cx="986.8" cy="1684.2" r="11.7"/><circle cx="1017.0" cy="1696.5" r="11.7"/><circle cx="985.1" cy="2010.8" r="11.7"/><circle cx="1075.2" cy="1969.7" r="11.7"/><circle cx="1190.8" cy="1814.9" r="11.7"/><circle cx="983.4" cy="1902.1" r="11.7"/><circle cx="1016.1" cy="1697.7" r="11.7"/><circle cx="1018.8" cy="2090.3" r="11.7"/><circle cx="1178.3" cy="2002.9" r="11.7"/><circle cx="1017.0" cy="1702.8" r="11.7"/><circle cx="1005.7" cy="2090.6" r="11.7"/><circle cx="1050.2" cy="2190.4" r="11.7"/><circle cx="1319.5" cy="1769.2" r="11.7"/><circle cx="982.5" cy="1803.6" r="11.7"/><circle cx="1008.0" cy="2098.6" r="11.7"/><circle cx="957.1" cy="1623.6" r="11.7"/><circle cx="1196.3" cy="1851.8" r="11.7"/><circle cx="985.1" cy="1821.1" r="11.7"/><circle cx="1077.5" cy="1960.2" r="11.7"/><circle cx="1259.8" cy="1809.1" r="11.7"/><circle cx="948.2" cy="1993.3" r="11.7"/><circle cx="1182.9" cy="1855.7" r="11.7"/><circle cx="1171.4" cy="1977.6" r="11.7"/><circle cx="991.0" cy="2033.8" r="11.7"/><circle cx="992.4" cy="1995.8" r="11.7"/><circle cx="940.9" cy="1736.4" r="11.7"/><circle cx="1046.2" cy="1758.3" r="11.7"/><circle cx="1185.7" cy="1832.0" r="11.7"/><circle cx="1112.1" cy="1898.4" r="11.7"/><circle cx="1181.1" cy="1672.2" r="11.7"/><circle cx="1052.9" cy="2166.0" r="11.7"/><circle cx="993.4" cy="2030.8" r="11.7"/><circle cx="1187.2" cy="1789.5" r="11.7"/><circle cx="865.8" cy="1635.7" r="11.7"/><circle cx="922.9" cy="1670.5" r="11.7"/><circle cx="939.2" cy="1999.0" r="11.7"/><circle cx="990.1" cy="1909.9" r="11.7"/><circle cx="982.8" cy="1953.6" r="11.7"/><circle cx="985.2" cy="1713.8" r="11.7"/><circle cx="892.5" cy="1753.0" r="11.7"/><circle cx="1048.2" cy="1754.8" r="11.7"/><circle cx="1180.9" cy="1884.5" r="11.7"/><circle cx="1341.7" cy="1586.8" r="11.7"/><circle cx="1191.0" cy="1819.2" r="11.7"/><circle cx="1188.6" cy="1818.0" r="11.7"/><circle cx="988.0" cy="1839.8" r="11.7"/><circle cx="1114.8" cy="1831.8" r="11.7"/><circle cx="956.7" cy="1752.6" r="11.7"/><circle cx="904.9" cy="1700.1" r="11.7"/><circle cx="982.0" cy="1931.3" r="11.7"/><circle cx="1206.9" cy="1715.7" r="11.7"/><circle cx="1114.0" cy="1834.8" r="11.7"/><circle cx="1023.2" cy="1581.8" r="11.7"/><circle cx="1182.8" cy="1810.8" r="11.7"/><circle cx="1161.1" cy="2060.2" r="11.7"/><circle cx="986.3" cy="1779.9" r="11.7"/><circle cx="1183.1" cy="2028.1" r="11.7"/><circle cx="1169.7" cy="1997.3" r="11.7"/><circle cx="1034.2" cy="1703.9" r="11.7"/><circle cx="980.6" cy="1879.4" r="11.7"/><circle cx="1111.8" cy="1872.0" r="11.7"/><circle cx="989.2" cy="1611.2" r="11.7"/><circle cx="959.9" cy="1904.6" r="11.7"/><circle cx="976.5" cy="1581.8" r="11.7"/><circle cx="931.4" cy="1794.0" r="11.7"/><circle cx="1172.7" cy="1653.4" r="11.7"/><circle cx="1110.4" cy="1912.1" r="11.7"/><circle cx="914.9" cy="1862.0" r="11.7"/><circle cx="1053.3" cy="2171.4" r="11.7"/><circle cx="1160.7" cy="1659.5" r="11.7"/><circle cx="1169.0" cy="1699.1" r="11.7"/><circle cx="1074.8" cy="1926.9" r="11.7"/><circle cx="976.5" cy="1686.1" r="11.7"/><circle cx="947.3" cy="1860.1" r="11.7"/><circle cx="1188.8" cy="1726.7" r="11.7"/><circle cx="1013.7" cy="1659.3" r="11.7"/><circle cx="1068.1" cy="1873.8" r="11.7"/><circle cx="1155.2" cy="2167.4" r="11.7"/><circle cx="1018.0" cy="2097.2" r="11.7"/><circle cx="1011.4" cy="1682.3" r="11.7"/><circle cx="954.7" cy="1777.9" r="11.7"/><circle cx="1051.0" cy="2172.0" r="11.7"/><circle cx="1074.7" cy="2211.6" r="11.7"/><circle cx="902.4" cy="1712.8" r="11.7"/><circle cx="1023.2" cy="1591.1" r="11.7"/><circle cx="952.3" cy="1823.5" r="11.7"/><circle cx="1133.7" cy="1634.7" r="11.7"/><circle cx="945.8" cy="1716.9" r="11.7"/><circle cx="1104.9" cy="1968.0" r="11.7"/><circle cx="1256.7" cy="1793.5" r="11.7"/><circle cx="1029.2" cy="1631.1" r="11.7"/><circle cx="1190.7" cy="1866.3" r="11.7"/><circle cx="1038.8" cy="1728.1" r="11.7"/><circle cx="943.6" cy="1796.8" r="11.7"/><circle cx="1032.4" cy="1715.6" r="11.7"/><circle cx="914.2" cy="1905.6" r="11.7"/><circle cx="917.4" cy="1684.5" r="11.7"/><circle cx="1105.8" cy="1947.7" r="11.7"/><circle cx="964.7" cy="1899.7" r="11.7"/><circle cx="558.0" cy="1606.8" r="11.7"/><circle cx="998.8" cy="1654.2" r="11.7"/><circle cx="998.1" cy="2062.8" r="11.7"/><circle cx="1097.9" cy="1790.4" r="11.7"/><circle cx="983.3" cy="2019.8" r="11.7"/><circle cx="1183.5" cy="1612.9" r="11.7"/><circle cx="1151.2" cy="2120.5" r="11.7"/><circle cx="1175.7" cy="1948.1" r="11.7"/><circle cx="1191.3" cy="2151.5" r="11.7"/><circle cx="911.1" cy="1964.7" r="11.7"/><circle cx="950.3" cy="1656.7" r="11.7"/><circle cx="989.9" cy="1753.6" r="11.7"/><circle cx="852.4" cy="1575.7" r="11.7"/><circle cx="1188.8" cy="1916.0" r="11.7"/><circle cx="990.0" cy="1716.0" r="11.7"/><circle cx="1107.9" cy="1912.5" r="11.7"/><circle cx="1184.3" cy="1807.0" r="11.7"/><circle cx="1057.5" cy="2195.7" r="11.7"/><circle cx="1004.4" cy="1678.5" r="11.7"/><circle cx="954.2" cy="1727.1" r="11.7"/><circle cx="1137.7" cy="2167.7" r="11.7"/><circle cx="949.0" cy="1904.3" r="11.7"/><circle cx="1107.3" cy="1746.8" r="11.7"/><circle cx="1294.1" cy="1762.4" r="11.7"/><circle cx="978.0" cy="1747.3" r="11.7"/><circle cx="966.3" cy="1663.6" r="11.7"/>
</g><g stroke="#ff0000" stroke-width="3" stroke-dasharray="11.5 7.5" fill="none">
<line x1="969.7" y1="1399" x2="969.7" y2="2246"/>
<line x1="1234.2" y1="1399" x2="1234.2" y2="2246"/>
<line x1="273" y1="2020" x2="1920" y2="2020"/>
</g>
<g stroke="#000" stroke-width="4" fill="none">
<line x1="268" y1="1432.9" x2="268" y2="2275"/>
<line x1="248" y1="2254" x2="1924.0" y2="2254"/>
<line x1="248" y1="2136.7" x2="289" y2="2136.7"/>
<line x1="248" y1="2019.4" x2="289" y2="2019.4"/>
<line x1="248" y1="1902.1" x2="289" y2="1902.1"/>
<line x1="248" y1="1784.8" x2="289" y2="1784.8"/>
<line x1="248" y1="1667.5" x2="289" y2="1667.5"/>
<line x1="248" y1="1550.2" x2="289" y2="1550.2"/>
<line x1="248" y1="1432.9" x2="289" y2="1432.9"/>
<line x1="1372.0" y1="2235" x2="1372.0" y2="2275"/>
<line x1="1648.0" y1="2235" x2="1648.0" y2="2275"/>
<line x1="1924.0" y1="2235" x2="1924.0" y2="2275"/>
</g>
<g font-family="'Liberation Sans', Arial, sans-serif" font-weight="bold" font-size="69" fill="#000" stroke="#fff" stroke-width="1.6">
<text x="211.5" y="2278.5" text-anchor="end">0</text>
<text x="211.5" y="2161.2" text-anchor="end">1</text>
<text x="211.5" y="2043.9" text-anchor="end">2</text>
<text x="211.5" y="1926.6" text-anchor="end">3</text>
<text x="211.5" y="1809.3" text-anchor="end">4</text>
<text x="211.5" y="1692.0" text-anchor="end">5</text>
<text x="211.5" y="1574.7" text-anchor="end">6</text>
<text x="211.5" y="1457.4" text-anchor="end">7</text>
<text x="268.0" y="2359" text-anchor="middle">-6</text>
<text x="544.0" y="2359" text-anchor="middle">-4</text>
<text x="820.0" y="2359" text-anchor="middle">-2</text>
<text x="1096.0" y="2359" text-anchor="middle">0</text>
<text x="1372.0" y="2359" text-anchor="middle">2</text>
<text x="1648.0" y="2359" text-anchor="middle">4</text>
<text x="1924.0" y="2359" text-anchor="middle">6</text>
</g><g font-family="'Liberation Sans', Arial, sans-serif" font-weight="bold" fill="#000" stroke="#fff" stroke-width="1.6">
<text transform="translate(8.70,1382.4) scale(1.0327,1)" font-size="77" stroke="#000" stroke-width="1">(B)</text>
<text transform="translate(209.22,1368.8) scale(0.9883,1)" font-size="69"><tspan font-style="italic">siz1</tspan><tspan font-family="'Liberation Serif', 'Times New Roman', serif" font-weight="normal" stroke-width="0">&#916;</tspan></text>
<text transform="translate(323.00,1469) scale(1.0000,1)" font-size="69">n = 133</text>
<text transform="translate(1718.18,1466) scale(1.0037,1)" font-size="69">n = 38</text>
<text transform="translate(1331.04,2451) scale(0.9912,1)" font-size="69">log<tspan font-size="46" font-weight="normal" stroke-width="0" dy="12">2</tspan><tspan dy="-12">(</tspan>s<tspan font-style="italic">iz1</tspan><tspan font-family="'Liberation Serif', 'Times New Roman', serif" font-weight="normal" stroke-width="0">&#916;</tspan>: BB/YP)</text>
<text transform="translate(139.5,1844.7) rotate(-90)" text-anchor="middle" font-size="66.7">-log<tspan font-size="44" font-weight="normal" stroke-width="0" dy="11">10</tspan><tspan dy="-11">(</tspan><tspan font-style="italic">p-value</tspan>)</text>
</g><g stroke="#000" stroke-width="4" fill="none">
<line x1="535.1" y1="3516.5" x2="535.1" y2="3556.5"/>
<line x1="812.9" y1="3516.5" x2="812.9" y2="3556.5"/>
<line x1="1090.7" y1="3516.5" x2="1090.7" y2="3556.5"/>
</g><path d="M1139.8,3486.9 1158.3,3459.1 1170.3,3426.9 1175.0,3389.4 1173.0,3340.5 1173.0,3339.8 1173.0,3339.4 1173.1,3338.7 1182.0,3249.0 1185.0,3199.7 1184.0,3130.7 1179.1,3082.1 1170.6,3044.0 1158.8,3016.9 1147.3,3003.1 1134.4,2998.6 1124.3,3001.1 1118.8,3013.3 1117.5,3028.6 1117.3,3029.6 1117.1,3030.5 1116.8,3031.5 1116.4,3032.3 1115.9,3033.2 1115.3,3034.0 1114.7,3034.7 1114.0,3035.4 1113.2,3036.0 1112.4,3036.5 1111.6,3036.9 1110.6,3037.3 1110.0,3037.5 1109.0,3057.4 1109.0,3057.7 1102.0,3128.4 1100.5,3198.1 1100.5,3198.2 1099.7,3222.2 1099.7,3222.3 1097.0,3292.3 1096.9,3293.1 1094.9,3306.1 1094.8,3306.7 1094.6,3307.4 1094.3,3308.0 1094.0,3308.6 1093.6,3309.2 1093.2,3309.7 1092.7,3310.2 1092.2,3310.6 1091.6,3311.0 1091.0,3311.3 1090.4,3311.6 1089.8,3311.8 1089.1,3311.9 1088.4,3312.0 1087.8,3312.0 1087.1,3311.9 1086.4,3311.8 1085.8,3311.6 1085.1,3311.4 1084.5,3311.1 1084.0,3310.7 1083.4,3310.3 1082.9,3309.8 1082.5,3309.3 1082.1,3308.8 1081.8,3308.2 1081.5,3307.6 1081.3,3306.9 1081.1,3306.3 1078.7,3293.3 1078.6,3292.7 1071.7,3222.9 1059.9,3152.1 1059.8,3151.5 1055.0,3081.5 1055.0,3081.4 1053.4,3055.4 1052.5,3055.2 1051.6,3054.8 1050.7,3054.4 1049.9,3053.9 1049.2,3053.2 1048.4,3052.6 1047.8,3051.8 1047.3,3051.0 1046.8,3050.1 1046.4,3049.2 1046.1,3048.3 1039.8,3024.5 1029.7,3003.5 1014.0,2991.7 994.5,2985.5 977.2,2989.6 972.8,2994.9 971.0,3050.3 969.0,3150.2 968.0,3250.1 968.0,3298.9 972.7,3327.4 982.4,3366.1 996.9,3404.8 1011.3,3433.5 1030.5,3462.3 1069.1,3510.5 1092.7,3527.8 1099.0,3526.1 1116.1,3512.5 1139.8,3486.9Z" fill="rgb(215,118,22)"/>
<g fill="rgba(240,160,10,0.4)" stroke="rgba(200,95,15,0.78)" stroke-width="3.3">
<circle cx="1011.0" cy="3231.5" r="11.7"/><circle cx="1162.6" cy="3226.4" r="11.7"/><circle cx="1144.4" cy="3333.2" r="11.7"/><circle cx="1125.7" cy="3223.0" r="11.7"/><circle cx="1045.8" cy="3187.7" r="11.7"/><circle cx="1160.8" cy="3273.2" r="11.7"/><circle cx="1120.7" cy="3441.4" r="11.7"/><circle cx="1066.2" cy="3310.6" r="11.7"/><circle cx="1160.4" cy="3206.1" r="11.7"/><circle cx="1070.3" cy="3431.8" r="11.7"/><circle cx="1152.7" cy="3170.2" r="11.7"/><circle cx="1045.8" cy="3326.6" r="11.7"/><circle cx="1074.9" cy="3361.9" r="11.7"/><circle cx="1181.8" cy="3205.6" r="11.7"/><circle cx="1169.5" cy="3380.7" r="11.7"/><circle cx="1107.7" cy="3156.1" r="11.7"/><circle cx="1099.2" cy="3477.8" r="11.7"/><circle cx="1054.9" cy="3463.8" r="11.7"/><circle cx="1165.0" cy="3384.9" r="11.7"/><circle cx="1076.1" cy="3387.8" r="11.7"/><circle cx="973.8" cy="3019.8" r="11.7"/><circle cx="1113.1" cy="3451.6" r="11.7"/><circle cx="1003.0" cy="3031.3" r="11.7"/><circle cx="970.3" cy="3206.8" r="11.7"/><circle cx="1130.0" cy="3429.9" r="11.7"/><circle cx="1087.9" cy="3376.0" r="11.7"/><circle cx="1121.4" cy="3088.5" r="11.7"/><circle cx="1128.1" cy="3088.3" r="11.7"/><circle cx="1035.6" cy="3097.8" r="11.7"/><circle cx="968.8" cy="3262.8" r="11.7"/><circle cx="1100.3" cy="3300.7" r="11.7"/><circle cx="1105.9" cy="3273.6" r="11.7"/><circle cx="976.3" cy="3004.6" r="11.7"/><circle cx="1181.1" cy="3237.8" r="11.7"/><circle cx="1032.1" cy="3266.3" r="11.7"/><circle cx="1114.2" cy="3313.4" r="11.7"/><circle cx="999.0" cy="3158.9" r="11.7"/><circle cx="1102.6" cy="3266.9" r="11.7"/><circle cx="1031.0" cy="3394.7" r="11.7"/><circle cx="1136.9" cy="3381.8" r="11.7"/><circle cx="1148.9" cy="3384.3" r="11.7"/><circle cx="1046.0" cy="3473.9" r="11.7"/><circle cx="1041.8" cy="3116.3" r="11.7"/><circle cx="1131.3" cy="3302.3" r="11.7"/><circle cx="1154.7" cy="3296.2" r="11.7"/><circle cx="1129.5" cy="3384.0" r="11.7"/><circle cx="1169.7" cy="3123.8" r="11.7"/><circle cx="1107.4" cy="3413.3" r="11.7"/><circle cx="1025.4" cy="3268.9" r="11.7"/><circle cx="1133.9" cy="3312.0" r="11.7"/><circle cx="1140.8" cy="3141.7" r="11.7"/><circle cx="1128.2" cy="3104.1" r="11.7"/><circle cx="1101.4" cy="3298.2" r="11.7"/><circle cx="1072.4" cy="3391.1" r="11.7"/><circle cx="1162.6" cy="3434.5" r="11.7"/><circle cx="1012.1" cy="3053.1" r="11.7"/><circle cx="1132.5" cy="3434.6" r="11.7"/><circle cx="1116.6" cy="3278.4" r="11.7"/><circle cx="1124.0" cy="3064.8" r="11.7"/><circle cx="1107.8" cy="3338.9" r="11.7"/><circle cx="1060.1" cy="3352.2" r="11.7"/><circle cx="1167.0" cy="3054.9" r="11.7"/><circle cx="1122.2" cy="3492.0" r="11.7"/><circle cx="987.3" cy="3181.2" r="11.7"/><circle cx="1066.8" cy="3449.6" r="11.7"/><circle cx="1002.0" cy="3349.5" r="11.7"/><circle cx="1112.7" cy="3474.8" r="11.7"/><circle cx="979.8" cy="3040.9" r="11.7"/><circle cx="1159.5" cy="3191.1" r="11.7"/><circle cx="1040.3" cy="3293.1" r="11.7"/><circle cx="1048.8" cy="3217.7" r="11.7"/><circle cx="991.4" cy="3029.8" r="11.7"/><circle cx="1029.2" cy="3155.5" r="11.7"/><circle cx="1025.7" cy="3293.2" r="11.7"/><circle cx="978.7" cy="3129.2" r="11.7"/><circle cx="1030.2" cy="3096.2" r="11.7"/><circle cx="1050.0" cy="3115.8" r="11.7"/><circle cx="1152.6" cy="3089.2" r="11.7"/><circle cx="1054.4" cy="3159.9" r="11.7"/><circle cx="1058.4" cy="3350.6" r="11.7"/><circle cx="1025.6" cy="3405.4" r="11.7"/><circle cx="1101.5" cy="3509.5" r="11.7"/><circle cx="1103.7" cy="3469.6" r="11.7"/><circle cx="1118.8" cy="3289.2" r="11.7"/><circle cx="1000.2" cy="3396.2" r="11.7"/><circle cx="1090.5" cy="3464.6" r="11.7"/><circle cx="1032.1" cy="3108.8" r="11.7"/><circle cx="994.0" cy="3291.4" r="11.7"/><circle cx="993.2" cy="3303.7" r="11.7"/><circle cx="1008.7" cy="3036.4" r="11.7"/><circle cx="1030.5" cy="3299.6" r="11.7"/><circle cx="1021.8" cy="3028.5" r="11.7"/><circle cx="1056.8" cy="3404.7" r="11.7"/><circle cx="1142.6" cy="3391.8" r="11.7"/><circle cx="1130.5" cy="3231.4" r="11.7"/><circle cx="1038.5" cy="3318.8" r="11.7"/><circle cx="1181.0" cy="3158.0" r="11.7"/><circle cx="1155.0" cy="3041.3" r="11.7"/><circle cx="969.2" cy="3266.2" r="11.7"/><circle cx="1051.3" cy="3433.9" r="11.7"/><circle cx="1113.8" cy="3211.7" r="11.7"/><circle cx="1094.4" cy="3442.7" r="11.7"/><circle cx="996.2" cy="3346.6" r="11.7"/><circle cx="972.0" cy="3071.6" r="11.7"/><circle cx="1120.1" cy="3437.2" r="11.7"/><circle cx="1000.6" cy="3190.0" r="11.7"/><circle cx="1152.7" cy="3129.1" r="11.7"/><circle cx="1027.8" cy="3060.9" r="11.7"/><circle cx="1143.5" cy="3027.7" r="11.7"/><circle cx="997.5" cy="3358.6" r="11.7"/><circle cx="1142.4" cy="3305.1" r="11.7"/><circle cx="1122.1" cy="3020.3" r="11.7"/><circle cx="1003.9" cy="3361.7" r="11.7"/><circle cx="1010.5" cy="3259.0" r="11.7"/><circle cx="1104.0" cy="3328.1" r="11.7"/><circle cx="1030.6" cy="3270.0" r="11.7"/><circle cx="1119.7" cy="3113.1" r="11.7"/><circle cx="1158.4" cy="3022.0" r="11.7"/><circle cx="1112.8" cy="3412.8" r="11.7"/><circle cx="1079.7" cy="3490.8" r="11.7"/><circle cx="1137.4" cy="3082.6" r="11.7"/><circle cx="973.1" cy="3325.3" r="11.7"/><circle cx="1122.3" cy="3086.9" r="11.7"/><circle cx="1088.3" cy="3478.7" r="11.7"/><circle cx="1134.8" cy="3417.3" r="11.7"/><circle cx="1125.1" cy="3025.9" r="11.7"/><circle cx="1052.8" cy="3159.4" r="11.7"/><circle cx="1168.0" cy="3118.7" r="11.7"/><circle cx="1019.6" cy="3136.9" r="11.7"/><circle cx="1042.6" cy="3350.9" r="11.7"/><circle cx="1134.8" cy="3167.2" r="11.7"/><circle cx="1075.2" cy="3509.3" r="11.7"/><circle cx="1140.4" cy="3189.7" r="11.7"/><circle cx="1006.8" cy="3046.1" r="11.7"/><circle cx="1055.4" cy="3182.9" r="11.7"/><circle cx="993.9" cy="3036.3" r="11.7"/><circle cx="1164.6" cy="3266.8" r="11.7"/><circle cx="1032.2" cy="3327.2" r="11.7"/><circle cx="1094.0" cy="3375.6" r="11.7"/><circle cx="1051.6" cy="3201.2" r="11.7"/><circle cx="1106.3" cy="3509.8" r="11.7"/><circle cx="1016.5" cy="3163.6" r="11.7"/><circle cx="991.6" cy="3038.3" r="11.7"/><circle cx="1167.6" cy="3205.9" r="11.7"/><circle cx="1102.2" cy="3379.7" r="11.7"/><circle cx="1020.2" cy="3321.0" r="11.7"/><circle cx="1158.2" cy="3345.7" r="11.7"/><circle cx="1035.0" cy="3079.1" r="11.7"/><circle cx="997.4" cy="3183.4" r="11.7"/><circle cx="1025.3" cy="3347.6" r="11.7"/><circle cx="988.7" cy="3137.1" r="11.7"/><circle cx="1004.6" cy="3080.3" r="11.7"/><circle cx="1168.8" cy="3096.4" r="11.7"/><circle cx="1152.5" cy="3242.2" r="11.7"/><circle cx="1159.1" cy="3021.0" r="11.7"/><circle cx="1072.8" cy="3313.8" r="11.7"/><circle cx="1054.0" cy="3355.8" r="11.7"/><circle cx="1045.3" cy="3338.1" r="11.7"/><circle cx="981.1" cy="3286.6" r="11.7"/><circle cx="1071.1" cy="3479.5" r="11.7"/><circle cx="1058.8" cy="3324.8" r="11.7"/><circle cx="1005.0" cy="3212.1" r="11.7"/><circle cx="1106.6" cy="3326.7" r="11.7"/><circle cx="1108.4" cy="3328.6" r="11.7"/><circle cx="1147.0" cy="3233.0" r="11.7"/><circle cx="1122.7" cy="3137.8" r="11.7"/><circle cx="1038.5" cy="3210.5" r="11.7"/><circle cx="1078.0" cy="3488.2" r="11.7"/><circle cx="1161.5" cy="3411.6" r="11.7"/><circle cx="1098.6" cy="3425.0" r="11.7"/><circle cx="1167.7" cy="3369.2" r="11.7"/><circle cx="1154.2" cy="3040.7" r="11.7"/><circle cx="982.7" cy="3139.1" r="11.7"/><circle cx="1039.6" cy="3172.5" r="11.7"/><circle cx="1104.3" cy="3515.0" r="11.7"/><circle cx="1033.2" cy="3288.5" r="11.7"/><circle cx="1013.0" cy="3156.0" r="11.7"/><circle cx="1045.3" cy="3058.2" r="11.7"/><circle cx="981.2" cy="3036.8" r="11.7"/><circle cx="1160.5" cy="3316.1" r="11.7"/><circle cx="1119.3" cy="3217.3" r="11.7"/><circle cx="1100.3" cy="3502.7" r="11.7"/><circle cx="1058.6" cy="3444.0" r="11.7"/><circle cx="1130.9" cy="3213.9" r="11.7"/><circle cx="1139.2" cy="3097.8" r="11.7"/><circle cx="1169.9" cy="3404.1" r="11.7"/><circle cx="1126.2" cy="3096.5" r="11.7"/><circle cx="1005.1" cy="3418.4" r="11.7"/><circle cx="997.8" cy="2992.1" r="11.7"/><circle cx="1018.4" cy="3193.1" r="11.7"/><circle cx="1138.1" cy="3429.8" r="11.7"/><circle cx="1159.9" cy="3283.0" r="11.7"/><circle cx="1028.0" cy="3268.1" r="11.7"/><circle cx="1083.7" cy="3484.8" r="11.7"/><circle cx="1107.8" cy="3209.3" r="11.7"/><circle cx="1001.5" cy="3250.7" r="11.7"/><circle cx="990.5" cy="3196.2" r="11.7"/><circle cx="1058.2" cy="3358.0" r="11.7"/><circle cx="1119.4" cy="3134.7" r="11.7"/><circle cx="1037.4" cy="3313.9" r="11.7"/><circle cx="1046.1" cy="3129.4" r="11.7"/><circle cx="1112.8" cy="3360.4" r="11.7"/><circle cx="986.7" cy="3329.4" r="11.7"/><circle cx="1150.2" cy="3391.6" r="11.7"/><circle cx="1011.1" cy="3076.4" r="11.7"/><circle cx="1023.4" cy="3003.9" r="11.7"/><circle cx="1059.9" cy="3307.0" r="11.7"/><circle cx="1178.0" cy="3098.3" r="11.7"/><circle cx="1146.7" cy="3075.0" r="11.7"/><circle cx="1087.2" cy="3453.8" r="11.7"/><circle cx="1033.7" cy="3273.4" r="11.7"/><circle cx="1165.6" cy="3144.6" r="11.7"/><circle cx="1132.2" cy="3299.7" r="11.7"/><circle cx="1117.8" cy="3197.7" r="11.7"/><circle cx="992.4" cy="3138.0" r="11.7"/><circle cx="1127.0" cy="3232.3" r="11.7"/><circle cx="1136.1" cy="3319.1" r="11.7"/><circle cx="1066.0" cy="3336.9" r="11.7"/><circle cx="1048.1" cy="3129.4" r="11.7"/><circle cx="1057.3" cy="3425.3" r="11.7"/><circle cx="974.3" cy="3192.5" r="11.7"/><circle cx="1035.3" cy="3067.4" r="11.7"/><circle cx="1126.6" cy="3311.9" r="11.7"/><circle cx="1134.0" cy="3131.3" r="11.7"/><circle cx="978.9" cy="3301.3" r="11.7"/><circle cx="1148.7" cy="3157.9" r="11.7"/><circle cx="1003.1" cy="3343.3" r="11.7"/><circle cx="1105.7" cy="3290.7" r="11.7"/><circle cx="1121.7" cy="3425.5" r="11.7"/><circle cx="1137.3" cy="3429.6" r="11.7"/><circle cx="988.6" cy="3040.9" r="11.7"/><circle cx="1161.7" cy="3356.6" r="11.7"/><circle cx="1154.0" cy="3099.3" r="11.7"/><circle cx="1176.0" cy="3297.7" r="11.7"/><circle cx="1010.1" cy="3181.4" r="11.7"/><circle cx="1025.7" cy="3159.3" r="11.7"/><circle cx="1047.4" cy="3310.0" r="11.7"/><circle cx="1020.1" cy="3359.1" r="11.7"/><circle cx="1032.2" cy="3437.2" r="11.7"/><circle cx="987.2" cy="3084.7" r="11.7"/><circle cx="1061.2" cy="3210.2" r="11.7"/><circle cx="1070.2" cy="3279.2" r="11.7"/><circle cx="1008.0" cy="3293.2" r="11.7"/><circle cx="1048.5" cy="3131.1" r="11.7"/><circle cx="1143.9" cy="3308.7" r="11.7"/><circle cx="1147.0" cy="3178.6" r="11.7"/><circle cx="988.8" cy="3057.4" r="11.7"/><circle cx="1031.4" cy="3164.0" r="11.7"/><circle cx="1024.5" cy="3449.2" r="11.7"/><circle cx="987.0" cy="3229.3" r="11.7"/><circle cx="1167.2" cy="3327.0" r="11.7"/><circle cx="1111.2" cy="3092.6" r="11.7"/><circle cx="1180.4" cy="3167.2" r="11.7"/><circle cx="975.8" cy="3255.4" r="11.7"/><circle cx="1048.8" cy="3464.0" r="11.7"/><circle cx="995.7" cy="3075.1" r="11.7"/><circle cx="1167.8" cy="3260.5" r="11.7"/><circle cx="1108.1" cy="3362.7" r="11.7"/><circle cx="1165.8" cy="3419.8" r="11.7"/><circle cx="1149.6" cy="3287.1" r="11.7"/><circle cx="1011.6" cy="3358.6" r="11.7"/><circle cx="1043.3" cy="3262.6" r="11.7"/><circle cx="1035.7" cy="3402.3" r="11.7"/><circle cx="1027.9" cy="3386.3" r="11.7"/><circle cx="1102.3" cy="3304.1" r="11.7"/><circle cx="1120.3" cy="3137.9" r="11.7"/><circle cx="1144.6" cy="3269.4" r="11.7"/><circle cx="1004.1" cy="3235.9" r="11.7"/><circle cx="1065.6" cy="3264.9" r="11.7"/><circle cx="1029.9" cy="3213.0" r="11.7"/><circle cx="1021.7" cy="3380.0" r="11.7"/><circle cx="994.8" cy="3226.0" r="11.7"/><circle cx="1095.2" cy="3519.1" r="11.7"/><circle cx="1033.9" cy="3235.6" r="11.7"/><circle cx="1013.0" cy="3148.3" r="11.7"/><circle cx="1166.0" cy="3149.8" r="11.7"/><circle cx="1134.1" cy="3353.0" r="11.7"/><circle cx="1057.6" cy="3489.4" r="11.7"/><circle cx="1018.0" cy="3128.0" r="11.7"/><circle cx="1045.1" cy="3359.9" r="11.7"/><circle cx="1017.2" cy="3401.2" r="11.7"/><circle cx="1015.4" cy="3071.0" r="11.7"/><circle cx="1126.0" cy="3372.1" r="11.7"/><circle cx="1019.1" cy="3353.5" r="11.7"/><circle cx="1168.0" cy="3195.5" r="11.7"/><circle cx="1055.6" cy="3283.5" r="11.7"/><circle cx="980.1" cy="3225.5" r="11.7"/><circle cx="997.9" cy="3336.0" r="11.7"/><circle cx="1166.9" cy="3338.7" r="11.7"/><circle cx="994.4" cy="3066.3" r="11.7"/><circle cx="1036.7" cy="3231.6" r="11.7"/><circle cx="1109.9" cy="3413.5" r="11.7"/><circle cx="1163.3" cy="3398.5" r="11.7"/><circle cx="1084.2" cy="3317.2" r="11.7"/><circle cx="1130.5" cy="3301.4" r="11.7"/><circle cx="1016.7" cy="3105.7" r="11.7"/><circle cx="1002.9" cy="3051.4" r="11.7"/><circle cx="1031.2" cy="3131.7" r="11.7"/><circle cx="1142.5" cy="3361.2" r="11.7"/><circle cx="1134.1" cy="3102.1" r="11.7"/><circle cx="1128.7" cy="3088.5" r="11.7"/><circle cx="1018.1" cy="3324.8" r="11.7"/><circle cx="1120.2" cy="3437.8" r="11.7"/><circle cx="979.6" cy="3009.5" r="11.7"/><circle cx="996.4" cy="3399.6" r="11.7"/><circle cx="1020.7" cy="3288.3" r="11.7"/><circle cx="1056.4" cy="3316.6" r="11.7"/><circle cx="1129.7" cy="3139.8" r="11.7"/><circle cx="1052.7" cy="3366.5" r="11.7"/><circle cx="1153.9" cy="3366.7" r="11.7"/><circle cx="987.3" cy="3142.2" r="11.7"/><circle cx="1124.3" cy="3427.3" r="11.7"/><circle cx="1109.3" cy="3232.6" r="11.7"/><circle cx="1021.8" cy="3075.2" r="11.7"/><circle cx="1084.3" cy="3336.9" r="11.7"/><circle cx="1095.9" cy="3475.7" r="11.7"/><circle cx="1127.2" cy="3141.1" r="11.7"/><circle cx="1038.4" cy="3169.6" r="11.7"/><circle cx="1039.5" cy="3371.9" r="11.7"/><circle cx="1037.1" cy="3280.4" r="11.7"/><circle cx="1032.3" cy="3454.9" r="11.7"/><circle cx="1149.4" cy="3294.3" r="11.7"/><circle cx="1021.0" cy="2997.4" r="11.7"/><circle cx="983.1" cy="3223.1" r="11.7"/><circle cx="1102.3" cy="3355.3" r="11.7"/><circle cx="1044.2" cy="3420.1" r="11.7"/><circle cx="1140.8" cy="3145.9" r="11.7"/><circle cx="1125.7" cy="3249.7" r="11.7"/><circle cx="1018.3" cy="3412.2" r="11.7"/><circle cx="1061.4" cy="3389.4" r="11.7"/><circle cx="1008.8" cy="3323.2" r="11.7"/><circle cx="973.4" cy="3195.9" r="11.7"/><circle cx="1166.4" cy="3247.2" r="11.7"/><circle cx="1098.2" cy="3459.9" r="11.7"/><circle cx="1010.9" cy="3339.8" r="11.7"/><circle cx="1001.1" cy="3160.6" r="11.7"/><circle cx="1036.9" cy="3067.7" r="11.7"/><circle cx="1029.5" cy="3312.9" r="11.7"/><circle cx="1110.4" cy="3421.5" r="11.7"/><circle cx="1048.4" cy="3193.7" r="11.7"/><circle cx="989.5" cy="3044.7" r="11.7"/><circle cx="1134.0" cy="3255.2" r="11.7"/><circle cx="1113.0" cy="3252.8" r="11.7"/><circle cx="1145.6" cy="3420.2" r="11.7"/><circle cx="973.8" cy="3026.6" r="11.7"/><circle cx="1017.2" cy="3180.2" r="11.7"/><circle cx="1157.8" cy="3354.4" r="11.7"/><circle cx="1005.5" cy="3417.3" r="11.7"/><circle cx="970.4" cy="3221.3" r="11.7"/><circle cx="1053.4" cy="3192.9" r="11.7"/><circle cx="1061.1" cy="3425.5" r="11.7"/><circle cx="1121.4" cy="3115.9" r="11.7"/><circle cx="991.8" cy="3210.3" r="11.7"/><circle cx="1050.7" cy="3231.6" r="11.7"/><circle cx="1014.8" cy="3377.5" r="11.7"/><circle cx="1085.8" cy="3468.1" r="11.7"/><circle cx="1130.4" cy="3178.9" r="11.7"/><circle cx="1156.0" cy="3328.5" r="11.7"/><circle cx="1048.8" cy="3392.2" r="11.7"/><circle cx="1027.3" cy="3112.4" r="11.7"/><circle cx="1086.0" cy="3336.6" r="11.7"/><circle cx="977.5" cy="3055.6" r="11.7"/><circle cx="1032.0" cy="3151.4" r="11.7"/><circle cx="1148.0" cy="3161.9" r="11.7"/><circle cx="1084.5" cy="3491.5" r="11.7"/><circle cx="1045.0" cy="3235.8" r="11.7"/><circle cx="1120.4" cy="3169.8" r="11.7"/><circle cx="1075.6" cy="3390.5" r="11.7"/><circle cx="1055.2" cy="3205.6" r="11.7"/><circle cx="1130.4" cy="3305.7" r="11.7"/><circle cx="1020.8" cy="3325.5" r="11.7"/><circle cx="1168.4" cy="3366.5" r="11.7"/><circle cx="1080.7" cy="3502.7" r="11.7"/><circle cx="1179.3" cy="3259.8" r="11.7"/><circle cx="1039.9" cy="3208.9" r="11.7"/><circle cx="1165.2" cy="3047.1" r="11.7"/><circle cx="1104.2" cy="3441.2" r="11.7"/><circle cx="1075.6" cy="3410.8" r="11.7"/><circle cx="1037.6" cy="3131.9" r="11.7"/><circle cx="1132.9" cy="3261.9" r="11.7"/><circle cx="1121.0" cy="3094.9" r="11.7"/><circle cx="1012.2" cy="3039.6" r="11.7"/><circle cx="1171.0" cy="3265.6" r="11.7"/><circle cx="1042.5" cy="3300.6" r="11.7"/><circle cx="1108.5" cy="3421.2" r="11.7"/><circle cx="994.8" cy="3140.7" r="11.7"/><circle cx="990.4" cy="3322.4" r="11.7"/><circle cx="1053.5" cy="3170.9" r="11.7"/><circle cx="1001.0" cy="3275.4" r="11.7"/><circle cx="1091.0" cy="3432.7" r="11.7"/><circle cx="1121.5" cy="3289.4" r="11.7"/><circle cx="990.8" cy="2986.5" r="11.7"/><circle cx="1037.0" cy="3135.2" r="11.7"/><circle cx="1142.7" cy="3453.3" r="11.7"/><circle cx="1055.1" cy="3415.3" r="11.7"/><circle cx="1127.8" cy="3448.7" r="11.7"/><circle cx="1147.1" cy="3303.1" r="11.7"/><circle cx="1143.8" cy="3435.5" r="11.7"/><circle cx="1146.7" cy="3462.8" r="11.7"/><circle cx="1139.6" cy="3435.2" r="11.7"/><circle cx="1026.0" cy="3404.0" r="11.7"/><circle cx="1169.1" cy="3187.2" r="11.7"/><circle cx="1062.5" cy="3415.8" r="11.7"/><circle cx="1010.4" cy="3199.0" r="11.7"/><circle cx="995.8" cy="3209.5" r="11.7"/><circle cx="1133.3" cy="3179.2" r="11.7"/><circle cx="1157.2" cy="3305.9" r="11.7"/><circle cx="1130.1" cy="3381.1" r="11.7"/><circle cx="1121.2" cy="3505.0" r="11.7"/><circle cx="1029.7" cy="3366.6" r="11.7"/><circle cx="1078.0" cy="3441.4" r="11.7"/><circle cx="1094.0" cy="3481.4" r="11.7"/><circle cx="973.6" cy="3114.2" r="11.7"/><circle cx="1090.7" cy="3348.3" r="11.7"/><circle cx="987.6" cy="3279.1" r="11.7"/><circle cx="1023.6" cy="3298.2" r="11.7"/><circle cx="1110.3" cy="3276.0" r="11.7"/><circle cx="1084.2" cy="3480.4" r="11.7"/><circle cx="1127.0" cy="3284.4" r="11.7"/><circle cx="1133.5" cy="3401.9" r="11.7"/><circle cx="1026.6" cy="3057.8" r="11.7"/><circle cx="1162.3" cy="3260.2" r="11.7"/><circle cx="1075.8" cy="3513.1" r="11.7"/><circle cx="1178.0" cy="3250.5" r="11.7"/><circle cx="1176.2" cy="3279.8" r="11.7"/><circle cx="1018.6" cy="3149.2" r="11.7"/><circle cx="1164.8" cy="3101.2" r="11.7"/><circle cx="1049.3" cy="3065.6" r="11.7"/><circle cx="999.1" cy="3300.9" r="11.7"/><circle cx="1102.9" cy="3448.7" r="11.7"/><circle cx="1039.5" cy="3331.8" r="11.7"/><circle cx="1152.6" cy="3450.1" r="11.7"/><circle cx="1051.4" cy="3315.8" r="11.7"/><circle cx="1145.3" cy="3174.8" r="11.7"/><circle cx="1161.2" cy="3240.8" r="11.7"/><circle cx="1081.6" cy="3436.4" r="11.7"/><circle cx="1052.1" cy="3342.6" r="11.7"/><circle cx="1070.2" cy="3502.4" r="11.7"/><circle cx="1100.7" cy="3484.4" r="11.7"/><circle cx="1011.6" cy="3166.2" r="11.7"/><circle cx="1106.8" cy="3478.3" r="11.7"/><circle cx="985.8" cy="3194.1" r="11.7"/><circle cx="1085.4" cy="3355.4" r="11.7"/><circle cx="1078.9" cy="3510.2" r="11.7"/><circle cx="984.7" cy="3174.0" r="11.7"/><circle cx="1053.2" cy="3347.6" r="11.7"/><circle cx="1011.5" cy="3166.6" r="11.7"/><circle cx="978.1" cy="3092.0" r="11.7"/><circle cx="1153.3" cy="3360.0" r="11.7"/><circle cx="1071.9" cy="3447.9" r="11.7"/><circle cx="1064.5" cy="3203.6" r="11.7"/><circle cx="1138.7" cy="3447.2" r="11.7"/><circle cx="969.1" cy="3182.1" r="11.7"/><circle cx="1032.4" cy="3437.6" r="11.7"/><circle cx="1097.1" cy="3358.4" r="11.7"/><circle cx="1053.9" cy="3346.9" r="11.7"/><circle cx="1056.2" cy="3296.1" r="11.7"/><circle cx="974.5" cy="3107.7" r="11.7"/><circle cx="1012.9" cy="3008.7" r="11.7"/><circle cx="1015.2" cy="3181.7" r="11.7"/><circle cx="1113.8" cy="3093.1" r="11.7"/><circle cx="1005.9" cy="3225.6" r="11.7"/><circle cx="1119.9" cy="3103.1" r="11.7"/><circle cx="997.8" cy="3264.7" r="11.7"/><circle cx="976.8" cy="3252.0" r="11.7"/><circle cx="1047.8" cy="3201.9" r="11.7"/><circle cx="1033.2" cy="3067.9" r="11.7"/><circle cx="1161.6" cy="3140.0" r="11.7"/><circle cx="993.1" cy="3048.9" r="11.7"/><circle cx="1043.7" cy="3065.0" r="11.7"/><circle cx="1155.9" cy="3331.7" r="11.7"/><circle cx="1141.9" cy="3215.5" r="11.7"/><circle cx="991.8" cy="3266.7" r="11.7"/><circle cx="1149.8" cy="3251.7" r="11.7"/><circle cx="1116.0" cy="3177.8" r="11.7"/><circle cx="1160.3" cy="3060.9" r="11.7"/><circle cx="980.4" cy="3270.0" r="11.7"/><circle cx="973.4" cy="3261.6" r="11.7"/><circle cx="1049.0" cy="3278.8" r="11.7"/><circle cx="1089.8" cy="3319.6" r="11.7"/><circle cx="1020.0" cy="3066.8" r="11.7"/><circle cx="1146.5" cy="3461.3" r="11.7"/><circle cx="981.6" cy="3230.8" r="11.7"/><circle cx="1047.4" cy="3230.3" r="11.7"/><circle cx="973.3" cy="3264.5" r="11.7"/><circle cx="999.4" cy="3339.1" r="11.7"/><circle cx="1117.9" cy="3291.6" r="11.7"/><circle cx="1032.1" cy="3445.0" r="11.7"/><circle cx="1035.2" cy="3214.9" r="11.7"/><circle cx="980.8" cy="3227.7" r="11.7"/><circle cx="1152.6" cy="3269.7" r="11.7"/><circle cx="1152.2" cy="3257.7" r="11.7"/><circle cx="982.0" cy="3185.2" r="11.7"/><circle cx="1174.6" cy="3290.9" r="11.7"/><circle cx="1029.2" cy="3196.4" r="11.7"/><circle cx="1129.1" cy="3410.0" r="11.7"/><circle cx="1128.6" cy="3428.0" r="11.7"/><circle cx="1173.0" cy="3077.5" r="11.7"/><circle cx="1134.0" cy="3224.1" r="11.7"/><circle cx="1145.7" cy="3260.7" r="11.7"/><circle cx="979.8" cy="3129.9" r="11.7"/><circle cx="1162.2" cy="3065.9" r="11.7"/><circle cx="991.6" cy="3054.5" r="11.7"/><circle cx="1061.3" cy="3314.1" r="11.7"/><circle cx="986.6" cy="3246.1" r="11.7"/><circle cx="995.7" cy="3102.4" r="11.7"/><circle cx="1113.6" cy="3085.4" r="11.7"/><circle cx="1003.6" cy="3024.9" r="11.7"/><circle cx="1017.6" cy="3218.6" r="11.7"/><circle cx="1067.8" cy="3323.0" r="11.7"/><circle cx="1139.5" cy="3040.5" r="11.7"/><circle cx="1101.7" cy="3337.3" r="11.7"/><circle cx="1161.8" cy="3426.7" r="11.7"/><circle cx="1142.5" cy="3417.1" r="11.7"/><circle cx="1166.7" cy="3075.4" r="11.7"/><circle cx="1163.4" cy="3224.3" r="11.7"/><circle cx="1130.5" cy="3199.8" r="11.7"/><circle cx="1098.9" cy="3308.2" r="11.7"/><circle cx="1178.8" cy="3213.6" r="11.7"/><circle cx="1138.7" cy="3474.5" r="11.7"/><circle cx="1016.9" cy="3092.9" r="11.7"/><circle cx="1077.1" cy="3440.4" r="11.7"/><circle cx="1162.4" cy="3229.2" r="11.7"/><circle cx="1174.1" cy="3325.4" r="11.7"/><circle cx="1036.6" cy="3432.4" r="11.7"/><circle cx="1115.9" cy="3330.4" r="11.7"/><circle cx="1167.0" cy="3077.1" r="11.7"/><circle cx="1024.8" cy="3205.0" r="11.7"/><circle cx="1120.2" cy="3243.3" r="11.7"/><circle cx="994.2" cy="3200.2" r="11.7"/><circle cx="1038.4" cy="3158.8" r="11.7"/><circle cx="1062.5" cy="3236.1" r="11.7"/><circle cx="1119.4" cy="3195.7" r="11.7"/><circle cx="1124.5" cy="3490.4" r="11.7"/><circle cx="1143.2" cy="3382.7" r="11.7"/><circle cx="1007.4" cy="3364.2" r="11.7"/><circle cx="1036.8" cy="3446.4" r="11.7"/><circle cx="1066.3" cy="3336.8" r="11.7"/><circle cx="1139.8" cy="3303.7" r="11.7"/><circle cx="1109.5" cy="3240.0" r="11.7"/><circle cx="977.7" cy="3116.5" r="11.7"/><circle cx="1085.6" cy="3347.2" r="11.7"/><circle cx="1051.0" cy="3388.8" r="11.7"/><circle cx="1145.3" cy="3378.7" r="11.7"/><circle cx="1035.2" cy="3164.2" r="11.7"/><circle cx="1001.5" cy="3300.5" r="11.7"/><circle cx="985.5" cy="3109.9" r="11.7"/><circle cx="977.6" cy="3287.1" r="11.7"/><circle cx="999.3" cy="3068.9" r="11.7"/><circle cx="1125.5" cy="3325.7" r="11.7"/><circle cx="1091.0" cy="3367.1" r="11.7"/><circle cx="1031.8" cy="3424.7" r="11.7"/><circle cx="1014.1" cy="3276.8" r="11.7"/><circle cx="1068.8" cy="3338.2" r="11.7"/><circle cx="1124.2" cy="3049.9" r="11.7"/><circle cx="1139.1" cy="3304.2" r="11.7"/><circle cx="1144.1" cy="3355.6" r="11.7"/><circle cx="985.1" cy="3283.6" r="11.7"/><circle cx="1093.1" cy="3480.5" r="11.7"/><circle cx="1116.6" cy="3253.1" r="11.7"/><circle cx="1151.3" cy="3364.6" r="11.7"/><circle cx="991.2" cy="3168.1" r="11.7"/><circle cx="1152.3" cy="3122.7" r="11.7"/><circle cx="1051.8" cy="3290.0" r="11.7"/><circle cx="1060.3" cy="3222.4" r="11.7"/><circle cx="992.5" cy="3173.7" r="11.7"/><circle cx="973.3" cy="3312.2" r="11.7"/><circle cx="1110.5" cy="3171.1" r="11.7"/><circle cx="1155.8" cy="3252.7" r="11.7"/><circle cx="1141.5" cy="3111.0" r="11.7"/><circle cx="1169.1" cy="3235.5" r="11.7"/><circle cx="1115.6" cy="3096.0" r="11.7"/><circle cx="1022.7" cy="3328.5" r="11.7"/><circle cx="1019.8" cy="3372.4" r="11.7"/><circle cx="1023.8" cy="3098.1" r="11.7"/><circle cx="995.1" cy="3227.3" r="11.7"/><circle cx="1127.4" cy="3086.7" r="11.7"/><circle cx="1115.4" cy="3105.2" r="11.7"/><circle cx="1146.8" cy="3046.3" r="11.7"/><circle cx="1173.5" cy="3118.7" r="11.7"/><circle cx="989.4" cy="3328.0" r="11.7"/><circle cx="998.2" cy="3373.8" r="11.7"/><circle cx="1111.0" cy="3375.8" r="11.7"/><circle cx="1003.8" cy="3046.3" r="11.7"/><circle cx="1135.1" cy="3171.9" r="11.7"/><circle cx="1153.8" cy="3347.8" r="11.7"/><circle cx="1169.7" cy="3410.5" r="11.7"/><circle cx="1030.3" cy="3371.4" r="11.7"/><circle cx="1009.4" cy="3038.3" r="11.7"/><circle cx="1137.4" cy="3040.8" r="11.7"/><circle cx="1138.5" cy="3045.6" r="11.7"/><circle cx="1149.0" cy="3392.2" r="11.7"/><circle cx="1028.8" cy="3259.1" r="11.7"/><circle cx="1153.7" cy="3361.7" r="11.7"/><circle cx="1112.4" cy="3182.6" r="11.7"/><circle cx="1038.0" cy="3393.3" r="11.7"/><circle cx="1044.1" cy="3298.6" r="11.7"/><circle cx="1106.0" cy="3273.5" r="11.7"/><circle cx="1005.1" cy="3000.9" r="11.7"/><circle cx="997.4" cy="3204.5" r="11.7"/><circle cx="993.7" cy="3062.5" r="11.7"/><circle cx="1017.1" cy="3301.0" r="11.7"/><circle cx="988.2" cy="3146.2" r="11.7"/><circle cx="1041.2" cy="3162.8" r="11.7"/><circle cx="1145.0" cy="3148.9" r="11.7"/><circle cx="1105.1" cy="3370.4" r="11.7"/><circle cx="1170.3" cy="3055.7" r="11.7"/><circle cx="986.0" cy="3066.8" r="11.7"/><circle cx="1117.0" cy="3204.3" r="11.7"/><circle cx="1042.3" cy="3457.1" r="11.7"/><circle cx="1153.1" cy="3058.8" r="11.7"/><circle cx="1133.3" cy="3280.1" r="11.7"/><circle cx="1047.5" cy="3229.7" r="11.7"/><circle cx="1152.0" cy="3033.1" r="11.7"/><circle cx="993.6" cy="3170.7" r="11.7"/><circle cx="1069.6" cy="3306.7" r="11.7"/><circle cx="1020.1" cy="3046.1" r="11.7"/><circle cx="1060.3" cy="3214.5" r="11.7"/><circle cx="1028.6" cy="3119.1" r="11.7"/><circle cx="1183.4" cy="3141.0" r="11.7"/><circle cx="1123.8" cy="3494.9" r="11.7"/><circle cx="1028.9" cy="3063.0" r="11.7"/><circle cx="985.8" cy="3355.2" r="11.7"/><circle cx="1150.4" cy="3189.4" r="11.7"/><circle cx="1055.7" cy="3426.8" r="11.7"/><circle cx="1092.1" cy="3441.4" r="11.7"/><circle cx="1150.0" cy="3443.8" r="11.7"/><circle cx="1003.1" cy="3142.0" r="11.7"/><circle cx="1174.1" cy="3280.9" r="11.7"/><circle cx="1025.1" cy="3021.1" r="11.7"/><circle cx="984.6" cy="3086.4" r="11.7"/><circle cx="1139.8" cy="3403.3" r="11.7"/><circle cx="1123.8" cy="3262.0" r="11.7"/><circle cx="973.1" cy="3134.1" r="11.7"/><circle cx="988.2" cy="3279.7" r="11.7"/><circle cx="1034.1" cy="3035.2" r="11.7"/><circle cx="974.5" cy="3270.4" r="11.7"/><circle cx="1057.3" cy="3287.7" r="11.7"/><circle cx="1169.9" cy="3069.8" r="11.7"/><circle cx="1078.7" cy="3508.3" r="11.7"/><circle cx="980.3" cy="3240.2" r="11.7"/><circle cx="1030.9" cy="3429.5" r="11.7"/><circle cx="1031.3" cy="3233.6" r="11.7"/><circle cx="1000.1" cy="3347.0" r="11.7"/><circle cx="1070.4" cy="3428.8" r="11.7"/><circle cx="1017.8" cy="3223.4" r="11.7"/><circle cx="1034.1" cy="3299.8" r="11.7"/><circle cx="1086.5" cy="3449.1" r="11.7"/><circle cx="1096.3" cy="3417.7" r="11.7"/><circle cx="978.0" cy="3273.3" r="11.7"/><circle cx="1045.6" cy="3318.4" r="11.7"/><circle cx="1025.0" cy="3238.4" r="11.7"/><circle cx="1123.5" cy="3501.4" r="11.7"/><circle cx="1137.2" cy="3189.9" r="11.7"/><circle cx="1116.3" cy="3290.6" r="11.7"/><circle cx="996.7" cy="3185.4" r="11.7"/><circle cx="1159.7" cy="3064.2" r="11.7"/><circle cx="1137.2" cy="3205.2" r="11.7"/><circle cx="1006.0" cy="3346.3" r="11.7"/><circle cx="1048.7" cy="3178.9" r="11.7"/><circle cx="1179.7" cy="3109.7" r="11.7"/><circle cx="1032.2" cy="3130.6" r="11.7"/><circle cx="1129.5" cy="3305.2" r="11.7"/><circle cx="978.3" cy="3332.3" r="11.7"/><circle cx="1156.4" cy="3267.1" r="11.7"/><circle cx="1017.3" cy="3071.0" r="11.7"/><circle cx="999.1" cy="3277.4" r="11.7"/><circle cx="1028.0" cy="3390.6" r="11.7"/><circle cx="1016.0" cy="3349.7" r="11.7"/><circle cx="983.0" cy="3173.7" r="11.7"/><circle cx="1162.4" cy="3188.9" r="11.7"/><circle cx="1117.2" cy="3141.0" r="11.7"/><circle cx="1035.4" cy="3153.4" r="11.7"/><circle cx="1081.3" cy="3484.0" r="11.7"/><circle cx="1143.6" cy="3422.7" r="11.7"/><circle cx="1112.6" cy="3363.3" r="11.7"/><circle cx="981.0" cy="3103.1" r="11.7"/><circle cx="993.7" cy="3063.6" r="11.7"/><circle cx="1064.7" cy="3334.4" r="11.7"/><circle cx="986.2" cy="3330.1" r="11.7"/><circle cx="1105.5" cy="3377.5" r="11.7"/><circle cx="1172.9" cy="3074.4" r="11.7"/><circle cx="1152.1" cy="3320.1" r="11.7"/><circle cx="1072.3" cy="3485.4" r="11.7"/><circle cx="1042.1" cy="3122.6" r="11.7"/><circle cx="1057.5" cy="3282.7" r="11.7"/><circle cx="1171.5" cy="3192.4" r="11.7"/><circle cx="1004.0" cy="3342.2" r="11.7"/><circle cx="1127.3" cy="3271.2" r="11.7"/><circle cx="989.0" cy="3352.8" r="11.7"/><circle cx="1027.5" cy="3137.6" r="11.7"/><circle cx="1111.7" cy="3405.5" r="11.7"/><circle cx="1009.0" cy="3107.5" r="11.7"/><circle cx="995.7" cy="3166.9" r="11.7"/><circle cx="1012.8" cy="3371.3" r="11.7"/><circle cx="1145.3" cy="3071.2" r="11.7"/><circle cx="1122.9" cy="3005.5" r="11.7"/><circle cx="1129.8" cy="3352.1" r="11.7"/><circle cx="995.9" cy="3080.2" r="11.7"/><circle cx="1151.5" cy="3434.1" r="11.7"/><circle cx="1093.3" cy="3402.0" r="11.7"/><circle cx="1046.2" cy="3300.4" r="11.7"/><circle cx="1106.0" cy="3412.9" r="11.7"/><circle cx="1121.7" cy="3012.6" r="11.7"/><circle cx="1113.1" cy="3137.1" r="11.7"/><circle cx="1110.8" cy="3177.3" r="11.7"/><circle cx="1099.4" cy="3478.6" r="11.7"/><circle cx="1101.0" cy="3443.5" r="11.7"/><circle cx="1136.4" cy="3471.4" r="11.7"/><circle cx="1052.9" cy="3111.3" r="11.7"/><circle cx="1027.5" cy="3283.6" r="11.7"/><circle cx="1091.0" cy="3357.2" r="11.7"/><circle cx="1086.8" cy="3428.7" r="11.7"/><circle cx="1170.7" cy="3160.0" r="11.7"/><circle cx="1044.5" cy="3164.1" r="11.7"/><circle cx="972.9" cy="3016.0" r="11.7"/><circle cx="996.6" cy="3279.5" r="11.7"/><circle cx="1145.4" cy="3021.5" r="11.7"/><circle cx="1075.3" cy="3337.1" r="11.7"/><circle cx="1178.8" cy="3263.8" r="11.7"/><circle cx="1170.5" cy="3217.3" r="11.7"/><circle cx="1181.3" cy="3113.6" r="11.7"/><circle cx="1022.5" cy="3424.4" r="11.7"/><circle cx="1111.9" cy="3313.8" r="11.7"/><circle cx="1118.5" cy="3095.7" r="11.7"/><circle cx="1152.3" cy="3117.6" r="11.7"/><circle cx="1058.2" cy="3394.9" r="11.7"/><circle cx="1046.5" cy="3217.1" r="11.7"/><circle cx="1159.1" cy="3274.2" r="11.7"/><circle cx="1098.5" cy="3424.8" r="11.7"/><circle cx="1104.5" cy="3344.0" r="11.7"/><circle cx="1053.3" cy="3201.0" r="11.7"/><circle cx="1148.4" cy="3215.5" r="11.7"/><circle cx="1034.1" cy="3415.6" r="11.7"/><circle cx="1051.0" cy="3176.9" r="11.7"/><circle cx="1064.1" cy="3484.1" r="11.7"/><circle cx="1162.6" cy="3439.8" r="11.7"/><circle cx="1115.9" cy="3388.3" r="11.7"/><circle cx="1153.1" cy="3439.5" r="11.7"/><circle cx="1047.6" cy="3293.3" r="11.7"/><circle cx="1132.3" cy="3329.1" r="11.7"/><circle cx="1028.4" cy="3366.5" r="11.7"/><circle cx="982.7" cy="3085.6" r="11.7"/><circle cx="995.7" cy="3018.7" r="11.7"/><circle cx="1166.8" cy="3092.4" r="11.7"/><circle cx="1077.8" cy="3494.2" r="11.7"/><circle cx="1053.9" cy="3194.1" r="11.7"/><circle cx="1037.1" cy="3355.0" r="11.7"/><circle cx="1063.2" cy="3389.8" r="11.7"/><circle cx="1141.0" cy="3284.9" r="11.7"/><circle cx="1147.3" cy="3013.7" r="11.7"/><circle cx="1129.0" cy="3365.9" r="11.7"/><circle cx="1141.0" cy="3257.0" r="11.7"/><circle cx="978.6" cy="3348.9" r="11.7"/><circle cx="1050.8" cy="3361.7" r="11.7"/><circle cx="1115.7" cy="3170.9" r="11.7"/><circle cx="1042.9" cy="3382.0" r="11.7"/><circle cx="1041.5" cy="3434.5" r="11.7"/><circle cx="1063.4" cy="3457.1" r="11.7"/><circle cx="1053.8" cy="3250.9" r="11.7"/><circle cx="1023.1" cy="3239.8" r="11.7"/><circle cx="1064.2" cy="3284.8" r="11.7"/><circle cx="1042.0" cy="3370.7" r="11.7"/><circle cx="997.1" cy="3114.2" r="11.7"/><circle cx="1160.7" cy="3363.6" r="11.7"/><circle cx="1110.0" cy="3374.0" r="11.7"/><circle cx="1099.0" cy="3512.2" r="11.7"/><circle cx="1104.6" cy="3224.7" r="11.7"/><circle cx="1035.2" cy="3401.0" r="11.7"/><circle cx="1182.3" cy="3165.2" r="11.7"/><circle cx="1030.3" cy="3346.8" r="11.7"/><circle cx="1073.7" cy="3494.0" r="11.7"/><circle cx="1141.7" cy="3239.3" r="11.7"/><circle cx="1068.8" cy="3313.2" r="11.7"/><circle cx="1096.7" cy="3483.9" r="11.7"/><circle cx="1137.2" cy="3192.4" r="11.7"/><circle cx="1036.8" cy="3331.9" r="11.7"/><circle cx="998.2" cy="3311.0" r="11.7"/><circle cx="1041.4" cy="3369.5" r="11.7"/><circle cx="1037.3" cy="3028.8" r="11.7"/><circle cx="998.2" cy="3250.5" r="11.7"/><circle cx="1067.2" cy="3380.7" r="11.7"/><circle cx="997.4" cy="3054.5" r="11.7"/><circle cx="973.0" cy="3281.9" r="11.7"/><circle cx="1108.0" cy="3194.6" r="11.7"/><circle cx="1070.7" cy="3479.0" r="11.7"/><circle cx="1173.5" cy="3212.7" r="11.7"/><circle cx="1021.6" cy="3189.5" r="11.7"/><circle cx="983.2" cy="3346.5" r="11.7"/><circle cx="1139.6" cy="3452.7" r="11.7"/><circle cx="990.1" cy="3253.6" r="11.7"/><circle cx="1034.7" cy="3091.2" r="11.7"/><circle cx="981.6" cy="3301.4" r="11.7"/><circle cx="1152.1" cy="3098.7" r="11.7"/><circle cx="1157.0" cy="3429.7" r="11.7"/><circle cx="1161.6" cy="3050.1" r="11.7"/><circle cx="1145.6" cy="3415.4" r="11.7"/><circle cx="1058.9" cy="3398.3" r="11.7"/><circle cx="1050.5" cy="3293.6" r="11.7"/><circle cx="1148.6" cy="3344.7" r="11.7"/><circle cx="1047.6" cy="3314.3" r="11.7"/><circle cx="987.0" cy="3124.4" r="11.7"/><circle cx="1130.9" cy="3481.4" r="11.7"/><circle cx="1099.1" cy="3302.3" r="11.7"/><circle cx="1159.6" cy="3258.8" r="11.7"/><circle cx="1133.9" cy="3070.1" r="11.7"/><circle cx="981.2" cy="3307.0" r="11.7"/><circle cx="1050.3" cy="3222.7" r="11.7"/><circle cx="1131.5" cy="3461.5" r="11.7"/><circle cx="1161.5" cy="3111.8" r="11.7"/><circle cx="977.9" cy="3098.1" r="11.7"/><circle cx="1017.7" cy="3190.8" r="11.7"/><circle cx="1168.5" cy="3287.4" r="11.7"/><circle cx="1101.1" cy="3288.1" r="11.7"/><circle cx="1028.0" cy="3094.5" r="11.7"/><circle cx="977.7" cy="3093.3" r="11.7"/><circle cx="1127.9" cy="3392.8" r="11.7"/><circle cx="997.1" cy="3203.5" r="11.7"/><circle cx="1050.7" cy="3113.1" r="11.7"/><circle cx="1038.4" cy="3236.9" r="11.7"/><circle cx="1167.8" cy="3377.3" r="11.7"/><circle cx="1171.8" cy="3060.3" r="11.7"/><circle cx="1152.5" cy="3151.0" r="11.7"/><circle cx="1160.0" cy="3083.9" r="11.7"/><circle cx="1107.6" cy="3409.0" r="11.7"/><circle cx="1014.6" cy="3197.1" r="11.7"/><circle cx="1156.5" cy="3341.7" r="11.7"/><circle cx="1155.8" cy="3215.3" r="11.7"/><circle cx="1078.6" cy="3473.7" r="11.7"/><circle cx="1041.9" cy="3099.0" r="11.7"/><circle cx="1162.7" cy="3239.6" r="11.7"/><circle cx="1118.1" cy="3166.9" r="11.7"/><circle cx="997.0" cy="3089.1" r="11.7"/><circle cx="1149.4" cy="3167.9" r="11.7"/><circle cx="1109.2" cy="3259.8" r="11.7"/><circle cx="1014.8" cy="3017.9" r="11.7"/><circle cx="1061.1" cy="3180.7" r="11.7"/><circle cx="1092.0" cy="3367.6" r="11.7"/><circle cx="1043.2" cy="3396.8" r="11.7"/><circle cx="1009.6" cy="3192.5" r="11.7"/><circle cx="1077.0" cy="3406.0" r="11.7"/><circle cx="1055.4" cy="3315.1" r="11.7"/><circle cx="1076.7" cy="3480.9" r="11.7"/><circle cx="1003.5" cy="3124.9" r="11.7"/><circle cx="1009.5" cy="3066.5" r="11.7"/><circle cx="1161.5" cy="3374.7" r="11.7"/><circle cx="1041.7" cy="3388.8" r="11.7"/><circle cx="1083.5" cy="3463.6" r="11.7"/><circle cx="984.2" cy="3030.7" r="11.7"/><circle cx="1115.0" cy="3465.3" r="11.7"/><circle cx="1066.9" cy="3407.8" r="11.7"/><circle cx="1051.1" cy="3299.7" r="11.7"/><circle cx="1027.2" cy="3141.9" r="11.7"/><circle cx="1155.6" cy="3033.4" r="11.7"/><circle cx="1076.9" cy="3440.4" r="11.7"/><circle cx="1016.6" cy="3367.6" r="11.7"/><circle cx="1018.4" cy="3196.3" r="11.7"/><circle cx="1172.5" cy="3143.7" r="11.7"/><circle cx="1167.7" cy="3142.0" r="11.7"/><circle cx="1143.9" cy="3298.2" r="11.7"/><circle cx="990.1" cy="3104.5" r="11.7"/><circle cx="980.8" cy="3307.5" r="11.7"/><circle cx="1165.7" cy="3042.0" r="11.7"/><circle cx="1178.0" cy="3139.4" r="11.7"/><circle cx="1146.9" cy="3268.0" r="11.7"/><circle cx="1057.3" cy="3351.1" r="11.7"/><circle cx="995.8" cy="3233.5" r="11.7"/><circle cx="1013.3" cy="3052.6" r="11.7"/><circle cx="1018.3" cy="3130.4" r="11.7"/><circle cx="1113.4" cy="3087.4" r="11.7"/><circle cx="1109.5" cy="3200.4" r="11.7"/><circle cx="1146.4" cy="3475.2" r="11.7"/><circle cx="1168.0" cy="3059.0" r="11.7"/><circle cx="1127.0" cy="3406.7" r="11.7"/><circle cx="1165.4" cy="3382.9" r="11.7"/><circle cx="1148.6" cy="3467.5" r="11.7"/><circle cx="1163.1" cy="3295.7" r="11.7"/><circle cx="1015.9" cy="3052.3" r="11.7"/><circle cx="1153.5" cy="3172.6" r="11.7"/><circle cx="1170.3" cy="3300.7" r="11.7"/><circle cx="1100.0" cy="3384.5" r="11.7"/><circle cx="1035.3" cy="3103.6" r="11.7"/><circle cx="984.4" cy="3265.6" r="11.7"/><circle cx="1139.3" cy="3215.4" r="11.7"/><circle cx="993.6" cy="3119.3" r="11.7"/><circle cx="978.8" cy="3349.8" r="11.7"/><circle cx="997.9" cy="2990.2" r="11.7"/><circle cx="1008.0" cy="3102.5" r="11.7"/><circle cx="1117.8" cy="3124.1" r="11.7"/><circle cx="1166.9" cy="3090.1" r="11.7"/><circle cx="1015.6" cy="3418.1" r="11.7"/><circle cx="1047.0" cy="3456.5" r="11.7"/><circle cx="973.8" cy="3241.9" r="11.7"/><circle cx="985.5" cy="3196.1" r="11.7"/><circle cx="1005.2" cy="3346.9" r="11.7"/><circle cx="1134.0" cy="3365.2" r="11.7"/><circle cx="992.5" cy="3074.1" r="11.7"/><circle cx="1075.6" cy="3392.5" r="11.7"/><circle cx="1141.4" cy="3434.0" r="11.7"/><circle cx="981.7" cy="3155.9" r="11.7"/>
</g>
<g fill="rgba(255,200,40,0.22)" stroke="rgba(200,95,15,0.78)" stroke-width="3.3">
<circle cx="1210.9" cy="3042.0" r="11.7"/><circle cx="968.8" cy="3065.4" r="11.7"/><circle cx="1108.8" cy="3111.2" r="11.7"/><circle cx="1049.0" cy="3507.9" r="11.7"/><circle cx="1196.4" cy="3158.1" r="11.7"/><circle cx="770.7" cy="2855.5" r="11.7"/><circle cx="1171.6" cy="3410.4" r="11.7"/><circle cx="884.3" cy="3112.8" r="11.7"/><circle cx="985.2" cy="3363.9" r="11.7"/><circle cx="1211.7" cy="3344.7" r="11.7"/><circle cx="973.2" cy="3015.3" r="11.7"/><circle cx="927.1" cy="3115.3" r="11.7"/><circle cx="1019.6" cy="2988.4" r="11.7"/><circle cx="1120.1" cy="3008.4" r="11.7"/><circle cx="1161.3" cy="3006.7" r="11.7"/><circle cx="899.7" cy="3412.9" r="11.7"/><circle cx="917.3" cy="3086.2" r="11.7"/><circle cx="1027.4" cy="2891.8" r="11.7"/><circle cx="1122.3" cy="3031.7" r="11.7"/><circle cx="991.7" cy="2918.4" r="11.7"/><circle cx="830.8" cy="3045.8" r="11.7"/><circle cx="952.5" cy="3218.5" r="11.7"/><circle cx="1136.7" cy="2891.1" r="11.7"/><circle cx="1112.7" cy="3083.2" r="11.7"/><circle cx="1071.8" cy="3517.6" r="11.7"/><circle cx="927.2" cy="3040.2" r="11.7"/><circle cx="880.9" cy="3078.7" r="11.7"/><circle cx="908.2" cy="3041.2" r="11.7"/><circle cx="941.4" cy="3140.4" r="11.7"/><circle cx="909.3" cy="3256.8" r="11.7"/><circle cx="1185.1" cy="3431.4" r="11.7"/><circle cx="1187.4" cy="3135.9" r="11.7"/><circle cx="966.0" cy="3291.7" r="11.7"/><circle cx="492.7" cy="3185.8" r="11.7"/><circle cx="1017.3" cy="3498.1" r="11.7"/><circle cx="1066.3" cy="3212.7" r="11.7"/><circle cx="969.6" cy="2843.4" r="11.7"/><circle cx="1075.3" cy="3075.3" r="11.7"/><circle cx="830.8" cy="3164.5" r="11.7"/><circle cx="1180.7" cy="3198.5" r="11.7"/><circle cx="1022.1" cy="2990.6" r="11.7"/><circle cx="1040.0" cy="3056.5" r="11.7"/><circle cx="988.6" cy="2996.2" r="11.7"/><circle cx="965.8" cy="3304.5" r="11.7"/><circle cx="1173.5" cy="3069.6" r="11.7"/><circle cx="982.5" cy="3354.3" r="11.7"/><circle cx="1171.0" cy="3423.4" r="11.7"/><circle cx="1215.1" cy="3477.7" r="11.7"/><circle cx="1159.4" cy="2882.1" r="11.7"/><circle cx="612.8" cy="3136.9" r="11.7"/><circle cx="949.0" cy="3288.3" r="11.7"/><circle cx="975.1" cy="3097.7" r="11.7"/><circle cx="974.9" cy="3288.1" r="11.7"/><circle cx="1140.1" cy="2901.4" r="11.7"/><circle cx="1262.8" cy="3354.9" r="11.7"/><circle cx="1054.6" cy="3499.5" r="11.7"/><circle cx="1115.0" cy="3022.5" r="11.7"/><circle cx="1101.2" cy="3298.0" r="11.7"/><circle cx="932.9" cy="3270.7" r="11.7"/><circle cx="1229.9" cy="3135.4" r="11.7"/><circle cx="925.2" cy="3146.9" r="11.7"/><circle cx="1056.2" cy="3157.2" r="11.7"/><circle cx="945.7" cy="2840.0" r="11.7"/><circle cx="1044.6" cy="2940.6" r="11.7"/><circle cx="1045.5" cy="3059.3" r="11.7"/><circle cx="1165.8" cy="3041.9" r="11.7"/><circle cx="1166.7" cy="3412.3" r="11.7"/><circle cx="977.9" cy="3140.2" r="11.7"/><circle cx="1090.0" cy="3526.9" r="11.7"/><circle cx="1225.3" cy="3106.0" r="11.7"/><circle cx="1206.5" cy="3239.7" r="11.7"/><circle cx="933.4" cy="3338.0" r="11.7"/><circle cx="1109.5" cy="3207.6" r="11.7"/><circle cx="945.7" cy="3385.6" r="11.7"/><circle cx="1166.2" cy="3045.3" r="11.7"/><circle cx="1175.8" cy="3306.4" r="11.7"/><circle cx="1102.9" cy="3242.6" r="11.7"/><circle cx="977.3" cy="3027.4" r="11.7"/><circle cx="969.8" cy="3118.5" r="11.7"/><circle cx="1104.3" cy="3513.6" r="11.7"/><circle cx="919.4" cy="3248.3" r="11.7"/><circle cx="945.3" cy="3182.6" r="11.7"/><circle cx="977.5" cy="3129.4" r="11.7"/><circle cx="911.5" cy="3058.7" r="11.7"/><circle cx="1017.6" cy="3454.4" r="11.7"/><circle cx="937.5" cy="3111.8" r="11.7"/><circle cx="765.4" cy="3267.7" r="11.7"/><circle cx="1020.2" cy="3005.5" r="11.7"/><circle cx="1105.4" cy="2929.6" r="11.7"/><circle cx="1170.6" cy="3390.3" r="11.7"/><circle cx="993.4" cy="2938.9" r="11.7"/><circle cx="1223.7" cy="3119.8" r="11.7"/><circle cx="911.8" cy="3070.5" r="11.7"/><circle cx="921.0" cy="2924.7" r="11.7"/><circle cx="1169.9" cy="3429.3" r="11.7"/><circle cx="945.5" cy="3196.2" r="11.7"/><circle cx="1076.9" cy="3506.2" r="11.7"/><circle cx="1171.4" cy="3303.9" r="11.7"/><circle cx="964.5" cy="3240.7" r="11.7"/><circle cx="968.8" cy="3192.8" r="11.7"/><circle cx="1166.7" cy="3394.9" r="11.7"/><circle cx="1111.2" cy="2946.0" r="11.7"/><circle cx="925.2" cy="3058.2" r="11.7"/><circle cx="1005.8" cy="3417.4" r="11.7"/><circle cx="1162.8" cy="3455.2" r="11.7"/><circle cx="898.1" cy="3098.7" r="11.7"/><circle cx="1232.1" cy="2999.5" r="11.7"/><circle cx="1185.4" cy="3096.3" r="11.7"/><circle cx="1047.7" cy="2943.7" r="11.7"/><circle cx="880.9" cy="2938.9" r="11.7"/><circle cx="919.3" cy="3191.4" r="11.7"/><circle cx="919.5" cy="3238.7" r="11.7"/><circle cx="1171.1" cy="3381.9" r="11.7"/><circle cx="1061.9" cy="3493.2" r="11.7"/><circle cx="932.1" cy="3031.0" r="11.7"/><circle cx="948.2" cy="3084.7" r="11.7"/><circle cx="956.2" cy="3189.0" r="11.7"/><circle cx="891.1" cy="3099.2" r="11.7"/><circle cx="963.6" cy="3211.9" r="11.7"/><circle cx="1043.1" cy="3026.0" r="11.7"/><circle cx="1066.6" cy="3223.8" r="11.7"/><circle cx="935.7" cy="3006.7" r="11.7"/><circle cx="1048.2" cy="3076.0" r="11.7"/><circle cx="1075.6" cy="3519.2" r="11.7"/><circle cx="1207.6" cy="3008.8" r="11.7"/><circle cx="931.8" cy="3332.2" r="11.7"/><circle cx="859.2" cy="3189.2" r="11.7"/><circle cx="1173.2" cy="2934.3" r="11.7"/><circle cx="938.0" cy="3007.1" r="11.7"/><circle cx="1012.0" cy="2996.1" r="11.7"/><circle cx="1167.7" cy="3340.7" r="11.7"/><circle cx="1180.3" cy="3093.2" r="11.7"/><circle cx="1174.6" cy="3212.5" r="11.7"/><circle cx="872.3" cy="3063.2" r="11.7"/><circle cx="894.6" cy="3191.2" r="11.7"/><circle cx="1029.5" cy="3445.1" r="11.7"/><circle cx="1100.1" cy="3523.8" r="11.7"/><circle cx="874.1" cy="3031.0" r="11.7"/><circle cx="1094.2" cy="3530.5" r="11.7"/><circle cx="957.5" cy="3044.4" r="11.7"/><circle cx="1037.1" cy="3033.4" r="11.7"/><circle cx="1195.5" cy="3253.7" r="11.7"/><circle cx="1165.6" cy="3376.3" r="11.7"/><circle cx="843.4" cy="3256.0" r="11.7"/><circle cx="853.6" cy="3010.5" r="11.7"/><circle cx="1176.0" cy="3150.5" r="11.7"/><circle cx="1208.3" cy="3181.0" r="11.7"/><circle cx="947.0" cy="3098.5" r="11.7"/><circle cx="978.1" cy="3340.5" r="11.7"/><circle cx="957.0" cy="3063.1" r="11.7"/><circle cx="970.9" cy="3315.3" r="11.7"/><circle cx="934.5" cy="3114.4" r="11.7"/><circle cx="966.3" cy="3117.5" r="11.7"/><circle cx="967.2" cy="3156.3" r="11.7"/><circle cx="955.9" cy="2928.7" r="11.7"/><circle cx="1106.2" cy="3275.6" r="11.7"/><circle cx="976.8" cy="3181.6" r="11.7"/><circle cx="1217.8" cy="2994.3" r="11.7"/><circle cx="1047.1" cy="3484.9" r="11.7"/><circle cx="1182.9" cy="3238.8" r="11.7"/><circle cx="925.2" cy="2891.1" r="11.7"/><circle cx="932.1" cy="3286.7" r="11.7"/><circle cx="1221.7" cy="3045.2" r="11.7"/><circle cx="1028.6" cy="3454.6" r="11.7"/><circle cx="1118.6" cy="3025.8" r="11.7"/><circle cx="825.4" cy="3071.6" r="11.7"/><circle cx="1054.7" cy="3502.0" r="11.7"/><circle cx="798.3" cy="2863.5" r="11.7"/><circle cx="927.1" cy="3273.9" r="11.7"/><circle cx="952.6" cy="3009.3" r="11.7"/><circle cx="1183.7" cy="3128.9" r="11.7"/><circle cx="1175.9" cy="3248.9" r="11.7"/><circle cx="973.9" cy="2997.7" r="11.7"/><circle cx="1006.4" cy="2825.7" r="11.7"/><circle cx="981.1" cy="2997.9" r="11.7"/><circle cx="1232.1" cy="3249.2" r="11.7"/><circle cx="920.0" cy="3228.8" r="11.7"/><circle cx="1107.4" cy="3226.2" r="11.7"/><circle cx="1169.4" cy="2939.3" r="11.7"/><circle cx="1009.5" cy="2986.6" r="11.7"/><circle cx="965.5" cy="3188.7" r="11.7"/><circle cx="1197.3" cy="3275.9" r="11.7"/><circle cx="1095.7" cy="3136.7" r="11.7"/><circle cx="1132.6" cy="3483.1" r="11.7"/><circle cx="1015.1" cy="3422.3" r="11.7"/><circle cx="1217.2" cy="3128.7" r="11.7"/><circle cx="974.2" cy="3348.7" r="11.7"/><circle cx="1028.6" cy="3479.3" r="11.7"/><circle cx="936.3" cy="3152.6" r="11.7"/><circle cx="1121.8" cy="2997.5" r="11.7"/><circle cx="1173.5" cy="3343.2" r="11.7"/><circle cx="938.9" cy="3232.1" r="11.7"/><circle cx="1176.2" cy="3390.4" r="11.7"/><circle cx="1183.4" cy="3063.3" r="11.7"/><circle cx="1023.2" cy="3000.1" r="11.7"/><circle cx="1218.5" cy="3320.8" r="11.7"/><circle cx="984.3" cy="3367.0" r="11.7"/><circle cx="1033.1" cy="3003.3" r="11.7"/><circle cx="1180.7" cy="3348.4" r="11.7"/><circle cx="1071.7" cy="3504.7" r="11.7"/><circle cx="853.6" cy="2870.7" r="11.7"/><circle cx="904.8" cy="3361.7" r="11.7"/><circle cx="855.8" cy="3143.1" r="11.7"/><circle cx="1172.3" cy="3403.7" r="11.7"/><circle cx="999.7" cy="3400.4" r="11.7"/><circle cx="1019.1" cy="3486.6" r="11.7"/><circle cx="937.4" cy="3010.0" r="11.7"/><circle cx="974.8" cy="3156.3" r="11.7"/><circle cx="966.1" cy="3344.6" r="11.7"/><circle cx="892.3" cy="2956.1" r="11.7"/><circle cx="1030.4" cy="3008.0" r="11.7"/><circle cx="969.2" cy="3165.0" r="11.7"/><circle cx="911.6" cy="2857.0" r="11.7"/><circle cx="989.0" cy="2995.6" r="11.7"/><circle cx="996.9" cy="3398.8" r="11.7"/><circle cx="1124.0" cy="2994.7" r="11.7"/><circle cx="1137.9" cy="3472.3" r="11.7"/><circle cx="1126.2" cy="3505.3" r="11.7"/><circle cx="986.5" cy="3420.9" r="11.7"/><circle cx="1176.8" cy="3249.7" r="11.7"/><circle cx="595.9" cy="2972.9" r="11.7"/><circle cx="926.5" cy="3313.5" r="11.7"/><circle cx="1259.4" cy="3310.6" r="11.7"/><circle cx="1020.6" cy="2967.7" r="11.7"/><circle cx="1061.6" cy="2891.1" r="11.7"/><circle cx="966.6" cy="2984.8" r="11.7"/><circle cx="1056.4" cy="3501.0" r="11.7"/><circle cx="1161.8" cy="3012.8" r="11.7"/><circle cx="1336.5" cy="2789.8" r="11.7"/><circle cx="972.7" cy="3304.8" r="11.7"/><circle cx="913.7" cy="3157.4" r="11.7"/><circle cx="915.0" cy="3010.5" r="11.7"/><circle cx="968.0" cy="3317.5" r="11.7"/><circle cx="522.5" cy="2895.9" r="11.7"/><circle cx="1157.7" cy="3020.4" r="11.7"/><circle cx="812.1" cy="3196.5" r="11.7"/><circle cx="1174.2" cy="3427.1" r="11.7"/><circle cx="1124.2" cy="3504.8" r="11.7"/><circle cx="1052.0" cy="3109.7" r="11.7"/><circle cx="908.2" cy="3215.1" r="11.7"/><circle cx="1279.9" cy="3211.7" r="11.7"/><circle cx="1176.0" cy="3120.5" r="11.7"/><circle cx="964.4" cy="3224.2" r="11.7"/><circle cx="1118.0" cy="2993.4" r="11.7"/><circle cx="928.8" cy="3278.2" r="11.7"/><circle cx="1107.4" cy="3128.1" r="11.7"/><circle cx="935.5" cy="3160.5" r="11.7"/><circle cx="998.8" cy="3408.4" r="11.7"/><circle cx="699.6" cy="2972.9" r="11.7"/><circle cx="1035.1" cy="3454.1" r="11.7"/><circle cx="969.6" cy="3344.7" r="11.7"/><circle cx="1105.0" cy="3209.9" r="11.7"/><circle cx="1316.3" cy="3226.8" r="11.7"/><circle cx="1179.5" cy="3108.0" r="11.7"/><circle cx="958.4" cy="3257.8" r="11.7"/><circle cx="1206.4" cy="2992.1" r="11.7"/><circle cx="1166.4" cy="3049.5" r="11.7"/><circle cx="908.2" cy="3078.7" r="11.7"/><circle cx="1184.7" cy="3356.1" r="11.7"/><circle cx="1008.1" cy="3409.1" r="11.7"/><circle cx="1212.6" cy="3243.4" r="11.7"/><circle cx="901.4" cy="2921.8" r="11.7"/><circle cx="1011.6" cy="2925.0" r="11.7"/><circle cx="979.2" cy="3041.9" r="11.7"/><circle cx="1170.1" cy="3457.1" r="11.7"/><circle cx="1188.4" cy="3167.5" r="11.7"/><circle cx="962.1" cy="3399.1" r="11.7"/><circle cx="978.1" cy="2860.5" r="11.7"/><circle cx="942.3" cy="3106.0" r="11.7"/><circle cx="966.9" cy="3084.0" r="11.7"/><circle cx="1022.1" cy="3449.6" r="11.7"/><circle cx="984.9" cy="3342.6" r="11.7"/><circle cx="1044.4" cy="3481.7" r="11.7"/><circle cx="1208.5" cy="3198.5" r="11.7"/><circle cx="1038.1" cy="3013.3" r="11.7"/><circle cx="1173.1" cy="3412.9" r="11.7"/><circle cx="1109.4" cy="3127.2" r="11.7"/><circle cx="1058.8" cy="3192.4" r="11.7"/><circle cx="840.5" cy="3122.5" r="11.7"/><circle cx="692.0" cy="2910.2" r="11.7"/><circle cx="1082.2" cy="3526.0" r="11.7"/><circle cx="910.6" cy="2803.6" r="11.7"/><circle cx="1010.2" cy="3433.8" r="11.7"/><circle cx="542.5" cy="2873.7" r="11.7"/><circle cx="1175.5" cy="3064.3" r="11.7"/><circle cx="940.4" cy="3107.1" r="11.7"/><circle cx="977.6" cy="3091.6" r="11.7"/><circle cx="872.0" cy="3260.3" r="11.7"/><circle cx="1106.1" cy="3269.7" r="11.7"/><circle cx="1215.7" cy="3177.8" r="11.7"/><circle cx="1198.0" cy="3416.3" r="11.7"/><circle cx="1120.8" cy="3511.9" r="11.7"/><circle cx="1227.6" cy="3177.1" r="11.7"/><circle cx="1029.2" cy="3022.2" r="11.7"/><circle cx="1109.3" cy="3124.7" r="11.7"/><circle cx="1169.7" cy="3440.5" r="11.7"/><circle cx="1038.3" cy="3027.1" r="11.7"/><circle cx="904.8" cy="2966.2" r="11.7"/><circle cx="959.3" cy="3358.3" r="11.7"/><circle cx="965.2" cy="3179.8" r="11.7"/><circle cx="880.9" cy="3314.0" r="11.7"/><circle cx="1223.6" cy="3148.1" r="11.7"/><circle cx="1201.3" cy="3116.8" r="11.7"/><circle cx="1046.3" cy="3034.3" r="11.7"/><circle cx="1151.8" cy="3468.2" r="11.7"/><circle cx="1169.8" cy="3352.9" r="11.7"/><circle cx="1182.2" cy="3098.3" r="11.7"/><circle cx="849.8" cy="3165.1" r="11.7"/><circle cx="1086.3" cy="3521.9" r="11.7"/><circle cx="960.8" cy="3104.7" r="11.7"/><circle cx="1167.5" cy="3032.9" r="11.7"/><circle cx="1169.2" cy="3278.8" r="11.7"/><circle cx="1266.2" cy="3058.2" r="11.7"/><circle cx="984.3" cy="2970.7" r="11.7"/><circle cx="1150.1" cy="3465.7" r="11.7"/><circle cx="1167.3" cy="3055.6" r="11.7"/><circle cx="1156.2" cy="3017.7" r="11.7"/><circle cx="1228.7" cy="3266.2" r="11.7"/><circle cx="724.0" cy="3257.0" r="11.7"/><circle cx="1183.0" cy="3179.7" r="11.7"/><circle cx="1161.0" cy="3041.8" r="11.7"/><circle cx="1216.2" cy="3117.0" r="11.7"/><circle cx="992.1" cy="2955.4" r="11.7"/><circle cx="1165.1" cy="3056.8" r="11.7"/><circle cx="968.3" cy="3214.9" r="11.7"/><circle cx="843.2" cy="2970.8" r="11.7"/><circle cx="1034.4" cy="2976.4" r="11.7"/><circle cx="1101.9" cy="3288.2" r="11.7"/><circle cx="971.5" cy="3124.8" r="11.7"/><circle cx="1102.9" cy="3290.5" r="11.7"/><circle cx="1183.8" cy="3239.6" r="11.7"/><circle cx="1115.1" cy="3029.4" r="11.7"/><circle cx="970.2" cy="3201.5" r="11.7"/><circle cx="1207.5" cy="3083.6" r="11.7"/><circle cx="965.3" cy="3129.2" r="11.7"/><circle cx="1032.9" cy="3452.6" r="11.7"/><circle cx="994.4" cy="3389.5" r="11.7"/><circle cx="979.3" cy="3120.5" r="11.7"/><circle cx="1117.1" cy="2993.5" r="11.7"/><circle cx="1173.3" cy="3360.1" r="11.7"/><circle cx="1113.2" cy="3506.8" r="11.7"/><circle cx="1194.8" cy="3220.3" r="11.7"/><circle cx="1111.2" cy="3509.2" r="11.7"/><circle cx="977.0" cy="3226.1" r="11.7"/><circle cx="1167.4" cy="2959.3" r="11.7"/><circle cx="1010.8" cy="2992.9" r="11.7"/><circle cx="1044.2" cy="3048.2" r="11.7"/><circle cx="1108.0" cy="2930.7" r="11.7"/><circle cx="1177.6" cy="3175.0" r="11.7"/><circle cx="844.1" cy="3059.2" r="11.7"/><circle cx="947.6" cy="3109.2" r="11.7"/><circle cx="1092.3" cy="3106.0" r="11.7"/><circle cx="966.1" cy="3286.2" r="11.7"/><circle cx="1105.0" cy="3154.1" r="11.7"/><circle cx="1110.1" cy="3088.8" r="11.7"/><circle cx="925.5" cy="3329.2" r="11.7"/><circle cx="902.8" cy="3130.4" r="11.7"/><circle cx="1029.4" cy="3445.5" r="11.7"/><circle cx="968.5" cy="3137.7" r="11.7"/><circle cx="1181.7" cy="3151.5" r="11.7"/><circle cx="977.5" cy="3064.9" r="11.7"/><circle cx="1033.6" cy="2900.4" r="11.7"/><circle cx="1173.7" cy="3049.4" r="11.7"/><circle cx="1050.2" cy="3132.3" r="11.7"/><circle cx="939.3" cy="3014.6" r="11.7"/><circle cx="946.8" cy="3105.1" r="11.7"/><circle cx="928.7" cy="3242.4" r="11.7"/><circle cx="1234.3" cy="3101.2" r="11.7"/><circle cx="870.6" cy="2982.4" r="11.7"/><circle cx="1177.7" cy="3083.3" r="11.7"/><circle cx="863.0" cy="3255.3" r="11.7"/><circle cx="877.5" cy="3181.0" r="11.7"/><circle cx="1182.8" cy="3153.6" r="11.7"/><circle cx="1168.1" cy="3016.4" r="11.7"/><circle cx="1011.7" cy="3416.5" r="11.7"/><circle cx="1121.7" cy="3007.2" r="11.7"/><circle cx="1049.4" cy="3475.0" r="11.7"/><circle cx="1190.0" cy="3062.8" r="11.7"/><circle cx="1068.7" cy="3280.6" r="11.7"/><circle cx="1003.7" cy="2973.0" r="11.7"/><circle cx="969.6" cy="3285.7" r="11.7"/><circle cx="1176.7" cy="3343.5" r="11.7"/><circle cx="990.0" cy="2983.8" r="11.7"/><circle cx="1118.2" cy="3019.7" r="11.7"/><circle cx="1032.0" cy="3030.2" r="11.7"/><circle cx="921.5" cy="3266.1" r="11.7"/><circle cx="850.2" cy="2961.1" r="11.7"/><circle cx="1162.2" cy="3445.7" r="11.7"/><circle cx="1099.8" cy="3305.3" r="11.7"/><circle cx="908.2" cy="3245.8" r="11.7"/><circle cx="922.3" cy="3081.7" r="11.7"/><circle cx="1122.5" cy="3029.7" r="11.7"/><circle cx="915.0" cy="3293.5" r="11.7"/><circle cx="1191.2" cy="3011.1" r="11.7"/><circle cx="833.9" cy="3252.1" r="11.7"/><circle cx="1201.5" cy="2983.2" r="11.7"/><circle cx="986.2" cy="3363.8" r="11.7"/><circle cx="1201.3" cy="3103.0" r="11.7"/><circle cx="793.0" cy="2915.9" r="11.7"/><circle cx="976.4" cy="3104.2" r="11.7"/><circle cx="967.8" cy="3139.8" r="11.7"/><circle cx="1162.9" cy="3412.0" r="11.7"/><circle cx="1177.7" cy="3405.6" r="11.7"/><circle cx="921.8" cy="3221.9" r="11.7"/><circle cx="952.8" cy="2951.3" r="11.7"/><circle cx="1178.2" cy="3293.7" r="11.7"/><circle cx="1177.8" cy="3315.9" r="11.7"/><circle cx="962.7" cy="3023.2" r="11.7"/><circle cx="1196.7" cy="3286.9" r="11.7"/><circle cx="1164.9" cy="3427.6" r="11.7"/><circle cx="877.5" cy="2921.8" r="11.7"/><circle cx="1169.0" cy="3471.8" r="11.7"/><circle cx="952.0" cy="3176.3" r="11.7"/><circle cx="639.5" cy="3136.9" r="11.7"/><circle cx="1105.1" cy="3242.2" r="11.7"/><circle cx="746.3" cy="2835.9" r="11.7"/><circle cx="1114.1" cy="3087.3" r="11.7"/><circle cx="1153.9" cy="3008.4" r="11.7"/><circle cx="944.6" cy="2936.5" r="11.7"/><circle cx="1166.5" cy="3421.3" r="11.7"/><circle cx="1104.5" cy="3247.3" r="11.7"/><circle cx="1064.9" cy="3206.7" r="11.7"/><circle cx="1106.9" cy="3250.3" r="11.7"/><circle cx="940.6" cy="2840.0" r="11.7"/><circle cx="942.3" cy="3314.0" r="11.7"/><circle cx="1137.1" cy="3005.2" r="11.7"/><circle cx="1070.2" cy="3279.0" r="11.7"/><circle cx="1215.1" cy="3163.9" r="11.7"/><circle cx="943.5" cy="3218.6" r="11.7"/><circle cx="962.1" cy="3282.7" r="11.7"/><circle cx="588.4" cy="3048.9" r="11.7"/><circle cx="1568.3" cy="3477.4" r="11.7"/><circle cx="884.3" cy="2993.4" r="11.7"/><circle cx="918.4" cy="2949.1" r="11.7"/><circle cx="946.3" cy="3151.6" r="11.7"/><circle cx="1131.9" cy="2939.4" r="11.7"/><circle cx="932.1" cy="3194.6" r="11.7"/><circle cx="877.5" cy="2973.0" r="11.7"/><circle cx="979.5" cy="3061.0" r="11.7"/><circle cx="915.0" cy="3139.6" r="11.7"/><circle cx="974.3" cy="3116.3" r="11.7"/><circle cx="860.5" cy="3044.6" r="11.7"/><circle cx="972.6" cy="3328.9" r="11.7"/><circle cx="972.7" cy="3058.4" r="11.7"/><circle cx="898.0" cy="3296.9" r="11.7"/><circle cx="976.4" cy="2962.8" r="11.7"/><circle cx="1011.7" cy="3438.6" r="11.7"/><circle cx="954.4" cy="2989.7" r="11.7"/><circle cx="987.4" cy="2913.9" r="11.7"/><circle cx="843.4" cy="3116.2" r="11.7"/><circle cx="979.6" cy="2931.7" r="11.7"/><circle cx="977.3" cy="3262.8" r="11.7"/><circle cx="1157.3" cy="3493.5" r="11.7"/><circle cx="959.8" cy="3229.7" r="11.7"/><circle cx="971.4" cy="3156.9" r="11.7"/><circle cx="1132.3" cy="2957.0" r="11.7"/><circle cx="868.7" cy="3217.4" r="11.7"/><circle cx="921.4" cy="3176.0" r="11.7"/><circle cx="1221.9" cy="3279.9" r="11.7"/><circle cx="1179.6" cy="3311.2" r="11.7"/><circle cx="946.9" cy="2967.6" r="11.7"/><circle cx="1165.0" cy="3038.5" r="11.7"/><circle cx="1025.3" cy="3450.4" r="11.7"/><circle cx="901.4" cy="3140.1" r="11.7"/><circle cx="1043.5" cy="3484.3" r="11.7"/><circle cx="1020.7" cy="3460.6" r="11.7"/><circle cx="973.0" cy="2999.1" r="11.7"/><circle cx="973.9" cy="3401.2" r="11.7"/><circle cx="972.5" cy="3351.2" r="11.7"/><circle cx="1182.7" cy="3367.8" r="11.7"/><circle cx="1245.8" cy="3239.0" r="11.7"/><circle cx="1177.6" cy="3121.1" r="11.7"/><circle cx="970.5" cy="3264.4" r="11.7"/><circle cx="835.2" cy="3157.8" r="11.7"/><circle cx="947.9" cy="3223.3" r="11.7"/><circle cx="971.3" cy="2838.3" r="11.7"/><circle cx="634.2" cy="3234.8" r="11.7"/><circle cx="1131.2" cy="2953.1" r="11.7"/><circle cx="965.4" cy="3363.1" r="11.7"/><circle cx="971.8" cy="3155.9" r="11.7"/><circle cx="1144.9" cy="3480.3" r="11.7"/><circle cx="928.5" cy="3207.3" r="11.7"/><circle cx="972.3" cy="3264.0" r="11.7"/><circle cx="975.5" cy="3338.2" r="11.7"/><circle cx="992.8" cy="3369.4" r="11.7"/><circle cx="1047.3" cy="3046.8" r="11.7"/><circle cx="975.4" cy="3207.5" r="11.7"/><circle cx="1047.9" cy="3061.3" r="11.7"/><circle cx="846.8" cy="3140.1" r="11.7"/><circle cx="1050.1" cy="3064.2" r="11.7"/><circle cx="1180.5" cy="3175.7" r="11.7"/><circle cx="965.5" cy="3140.7" r="11.7"/><circle cx="1043.3" cy="3026.2" r="11.7"/><circle cx="1123.4" cy="3510.9" r="11.7"/><circle cx="879.0" cy="3270.0" r="11.7"/><circle cx="1185.9" cy="3185.2" r="11.7"/><circle cx="1286.7" cy="3058.2" r="11.7"/><circle cx="1178.8" cy="3022.3" r="11.7"/><circle cx="1175.6" cy="3227.9" r="11.7"/><circle cx="1068.3" cy="3257.6" r="11.7"/><circle cx="996.1" cy="3446.4" r="11.7"/><circle cx="967.3" cy="3185.5" r="11.7"/><circle cx="1040.9" cy="3469.3" r="11.7"/><circle cx="1177.4" cy="3081.8" r="11.7"/><circle cx="1098.0" cy="3309.8" r="11.7"/><circle cx="1269.7" cy="3136.7" r="11.7"/><circle cx="1064.8" cy="3237.7" r="11.7"/><circle cx="943.3" cy="2808.7" r="11.7"/><circle cx="1083.2" cy="3509.0" r="11.7"/><circle cx="1218.3" cy="3283.8" r="11.7"/><circle cx="853.6" cy="3232.1" r="11.7"/><circle cx="1189.4" cy="3203.2" r="11.7"/><circle cx="1162.2" cy="2941.4" r="11.7"/><circle cx="1036.6" cy="3015.3" r="11.7"/><circle cx="1181.2" cy="3101.8" r="11.7"/><circle cx="967.8" cy="3254.2" r="11.7"/><circle cx="947.3" cy="3053.8" r="11.7"/><circle cx="1178.7" cy="3096.1" r="11.7"/><circle cx="1180.0" cy="3284.4" r="11.7"/><circle cx="937.0" cy="3264.9" r="11.7"/><circle cx="1188.6" cy="3410.7" r="11.7"/><circle cx="1000.8" cy="2967.6" r="11.7"/><circle cx="1035.3" cy="3474.1" r="11.7"/><circle cx="1169.2" cy="3417.3" r="11.7"/><circle cx="538.5" cy="3333.5" r="11.7"/><circle cx="931.9" cy="3011.4" r="11.7"/><circle cx="1046.6" cy="3056.6" r="11.7"/><circle cx="1327.9" cy="3005.1" r="11.7"/><circle cx="885.0" cy="3048.0" r="11.7"/><circle cx="1047.0" cy="2767.7" r="11.7"/><circle cx="1228.5" cy="3102.9" r="11.7"/><circle cx="966.0" cy="3298.0" r="11.7"/><circle cx="1184.0" cy="3177.7" r="11.7"/><circle cx="1109.7" cy="3186.8" r="11.7"/><circle cx="1038.0" cy="3050.1" r="11.7"/><circle cx="1150.0" cy="2905.8" r="11.7"/><circle cx="1041.5" cy="3039.4" r="11.7"/><circle cx="1172.1" cy="3100.2" r="11.7"/><circle cx="498.1" cy="2918.2" r="11.7"/><circle cx="1144.3" cy="2988.0" r="11.7"/><circle cx="990.9" cy="3369.6" r="11.7"/><circle cx="1219.9" cy="3335.8" r="11.7"/><circle cx="901.4" cy="3123.0" r="11.7"/><circle cx="889.7" cy="3290.9" r="11.7"/><circle cx="960.0" cy="3342.0" r="11.7"/><circle cx="1180.3" cy="3184.4" r="11.7"/><circle cx="1169.5" cy="3391.3" r="11.7"/><circle cx="1185.3" cy="3146.1" r="11.7"/><circle cx="970.6" cy="3192.7" r="11.7"/><circle cx="1173.3" cy="3037.6" r="11.7"/><circle cx="1028.3" cy="3463.8" r="11.7"/><circle cx="1143.8" cy="3485.1" r="11.7"/><circle cx="860.1" cy="3062.4" r="11.7"/><circle cx="1009.0" cy="3415.7" r="11.7"/><circle cx="937.2" cy="2937.9" r="11.7"/><circle cx="1023.1" cy="2983.9" r="11.7"/><circle cx="1186.3" cy="3191.6" r="11.7"/><circle cx="950.3" cy="2976.7" r="11.7"/><circle cx="965.8" cy="3190.6" r="11.7"/><circle cx="924.9" cy="3114.0" r="11.7"/><circle cx="1057.4" cy="3159.9" r="11.7"/><circle cx="1170.1" cy="3436.6" r="11.7"/><circle cx="1221.9" cy="3117.1" r="11.7"/><circle cx="1018.9" cy="2973.2" r="11.7"/><circle cx="971.2" cy="2987.9" r="11.7"/><circle cx="1007.1" cy="3413.1" r="11.7"/><circle cx="1215.1" cy="3208.3" r="11.7"/><circle cx="1045.5" cy="3037.1" r="11.7"/><circle cx="1158.1" cy="3440.7" r="11.7"/><circle cx="1168.5" cy="3426.0" r="11.7"/><circle cx="907.2" cy="3142.9" r="11.7"/><circle cx="928.0" cy="3063.1" r="11.7"/><circle cx="1152.3" cy="3004.4" r="11.7"/><circle cx="1070.2" cy="3272.7" r="11.7"/><circle cx="1032.2" cy="3461.7" r="11.7"/><circle cx="1160.3" cy="3427.2" r="11.7"/><circle cx="1192.8" cy="3172.8" r="11.7"/><circle cx="880.9" cy="3146.9" r="11.7"/><circle cx="779.6" cy="3213.4" r="11.7"/><circle cx="892.6" cy="3315.9" r="11.7"/><circle cx="984.3" cy="2995.7" r="11.7"/><circle cx="1181.0" cy="2983.2" r="11.7"/><circle cx="1202.2" cy="3335.3" r="11.7"/><circle cx="808.5" cy="3016.9" r="11.7"/><circle cx="969.1" cy="3308.0" r="11.7"/><circle cx="1179.6" cy="3096.4" r="11.7"/><circle cx="976.7" cy="3128.4" r="11.7"/><circle cx="1166.8" cy="3067.1" r="11.7"/><circle cx="1185.7" cy="3164.6" r="11.7"/><circle cx="984.7" cy="3355.5" r="11.7"/><circle cx="1199.4" cy="3010.4" r="11.7"/><circle cx="1146.1" cy="3507.2" r="11.7"/><circle cx="1176.3" cy="3138.9" r="11.7"/><circle cx="1069.4" cy="3256.0" r="11.7"/><circle cx="1109.0" cy="3186.6" r="11.7"/><circle cx="1273.1" cy="2969.6" r="11.7"/><circle cx="1047.0" cy="2962.6" r="11.7"/><circle cx="1017.1" cy="3000.6" r="11.7"/><circle cx="951.5" cy="2993.1" r="11.7"/><circle cx="1172.4" cy="3072.5" r="11.7"/><circle cx="984.4" cy="3347.2" r="11.7"/><circle cx="1024.1" cy="2909.9" r="11.7"/><circle cx="1181.2" cy="3121.6" r="11.7"/><circle cx="1188.1" cy="3045.8" r="11.7"/><circle cx="1179.1" cy="3349.2" r="11.7"/><circle cx="1167.4" cy="2927.0" r="11.7"/><circle cx="945.7" cy="2909.9" r="11.7"/><circle cx="1140.0" cy="3006.0" r="11.7"/><circle cx="1190.5" cy="3071.5" r="11.7"/><circle cx="850.2" cy="3279.9" r="11.7"/><circle cx="849.0" cy="2976.3" r="11.7"/><circle cx="939.4" cy="3125.6" r="11.7"/><circle cx="983.6" cy="2984.1" r="11.7"/><circle cx="915.0" cy="3378.8" r="11.7"/><circle cx="972.4" cy="3061.6" r="11.7"/><circle cx="1322.8" cy="3251.0" r="11.7"/><circle cx="1166.7" cy="3382.0" r="11.7"/><circle cx="974.2" cy="3195.5" r="11.7"/><circle cx="1171.5" cy="3305.7" r="11.7"/><circle cx="1145.2" cy="3015.6" r="11.7"/><circle cx="1196.4" cy="3211.6" r="11.7"/><circle cx="1117.4" cy="3058.0" r="11.7"/><circle cx="1187.9" cy="3026.2" r="11.7"/><circle cx="976.5" cy="3212.0" r="11.7"/><circle cx="971.2" cy="2923.3" r="11.7"/><circle cx="1245.8" cy="3129.8" r="11.7"/><circle cx="1185.3" cy="3102.5" r="11.7"/><circle cx="966.6" cy="3119.8" r="11.7"/><circle cx="935.8" cy="3187.7" r="11.7"/><circle cx="972.7" cy="3078.6" r="11.7"/><circle cx="968.7" cy="3020.7" r="11.7"/><circle cx="1120.1" cy="2990.3" r="11.7"/><circle cx="976.9" cy="3334.2" r="11.7"/><circle cx="1148.2" cy="3003.5" r="11.7"/><circle cx="941.9" cy="3204.5" r="11.7"/><circle cx="894.6" cy="3007.1" r="11.7"/><circle cx="1104.7" cy="3236.5" r="11.7"/><circle cx="1050.6" cy="3488.0" r="11.7"/><circle cx="911.6" cy="3331.0" r="11.7"/><circle cx="915.0" cy="3099.2" r="11.7"/><circle cx="1153.2" cy="3453.1" r="11.7"/><circle cx="953.9" cy="3057.8" r="11.7"/><circle cx="1218.5" cy="3402.6" r="11.7"/><circle cx="855.3" cy="3395.8" r="11.7"/><circle cx="920.2" cy="3023.4" r="11.7"/><circle cx="973.4" cy="3312.0" r="11.7"/><circle cx="1061.6" cy="3213.6" r="11.7"/><circle cx="976.5" cy="3272.1" r="11.7"/><circle cx="1199.1" cy="3093.5" r="11.7"/><circle cx="1186.5" cy="3236.5" r="11.7"/><circle cx="918.4" cy="3447.0" r="11.7"/><circle cx="1018.3" cy="3444.4" r="11.7"/><circle cx="1174.3" cy="3060.8" r="11.7"/><circle cx="915.0" cy="3184.4" r="11.7"/><circle cx="1183.8" cy="3192.3" r="11.7"/><circle cx="967.9" cy="3145.8" r="11.7"/><circle cx="1005.8" cy="3429.2" r="11.7"/><circle cx="1044.7" cy="3036.3" r="11.7"/><circle cx="1136.6" cy="3503.0" r="11.7"/><circle cx="974.5" cy="3063.9" r="11.7"/><circle cx="911.4" cy="3003.6" r="11.7"/><circle cx="1322.8" cy="2964.7" r="11.7"/><circle cx="879.6" cy="3225.1" r="11.7"/><circle cx="1218.5" cy="3031.0" r="11.7"/><circle cx="1120.1" cy="3501.1" r="11.7"/><circle cx="1053.3" cy="3479.4" r="11.7"/><circle cx="1181.2" cy="3139.1" r="11.7"/><circle cx="957.7" cy="3120.9" r="11.7"/><circle cx="891.1" cy="3218.5" r="11.7"/><circle cx="1166.6" cy="3443.8" r="11.7"/><circle cx="1007.1" cy="3467.4" r="11.7"/><circle cx="969.9" cy="3138.9" r="11.7"/><circle cx="1174.0" cy="3304.0" r="11.7"/><circle cx="993.4" cy="2891.1" r="11.7"/><circle cx="1111.1" cy="3114.6" r="11.7"/><circle cx="884.6" cy="3010.7" r="11.7"/><circle cx="1211.7" cy="3010.5" r="11.7"/><circle cx="1000.3" cy="3440.2" r="11.7"/><circle cx="1181.7" cy="3222.9" r="11.7"/><circle cx="926.9" cy="3237.9" r="11.7"/><circle cx="1072.7" cy="3516.6" r="11.7"/><circle cx="1262.8" cy="3375.4" r="11.7"/><circle cx="970.5" cy="3197.2" r="11.7"/><circle cx="1188.8" cy="3163.7" r="11.7"/><circle cx="969.9" cy="3110.9" r="11.7"/><circle cx="1011.7" cy="2983.3" r="11.7"/><circle cx="1108.4" cy="3121.4" r="11.7"/><circle cx="927.7" cy="3067.3" r="11.7"/><circle cx="1113.1" cy="3045.4" r="11.7"/><circle cx="1107.4" cy="3204.8" r="11.7"/><circle cx="974.0" cy="3259.0" r="11.7"/><circle cx="838.8" cy="2816.8" r="11.7"/><circle cx="1171.2" cy="3335.6" r="11.7"/><circle cx="973.0" cy="3220.0" r="11.7"/><circle cx="1050.1" cy="3085.6" r="11.7"/><circle cx="1055.7" cy="3160.1" r="11.7"/><circle cx="1004.6" cy="3413.5" r="11.7"/><circle cx="963.7" cy="3155.9" r="11.7"/><circle cx="1221.9" cy="3419.7" r="11.7"/><circle cx="902.1" cy="2983.2" r="11.7"/><circle cx="932.1" cy="2983.2" r="11.7"/><circle cx="1168.2" cy="3436.7" r="11.7"/><circle cx="1004.3" cy="2909.7" r="11.7"/><circle cx="1056.8" cy="3498.9" r="11.7"/><circle cx="864.9" cy="3180.4" r="11.7"/><circle cx="985.3" cy="3389.2" r="11.7"/><circle cx="1171.9" cy="3266.7" r="11.7"/><circle cx="965.6" cy="3149.2" r="11.7"/><circle cx="971.3" cy="3151.9" r="11.7"/><circle cx="921.5" cy="2927.4" r="11.7"/><circle cx="1183.1" cy="3236.6" r="11.7"/><circle cx="965.2" cy="3232.3" r="11.7"/><circle cx="1176.5" cy="3249.7" r="11.7"/><circle cx="1190.5" cy="3167.8" r="11.7"/><circle cx="976.4" cy="3331.0" r="11.7"/><circle cx="661.8" cy="3038.3" r="11.7"/><circle cx="1172.6" cy="3421.7" r="11.7"/><circle cx="1041.4" cy="3483.2" r="11.7"/><circle cx="1012.9" cy="3444.8" r="11.7"/><circle cx="807.2" cy="2996.9" r="11.7"/><circle cx="773.8" cy="2983.6" r="11.7"/><circle cx="985.9" cy="2992.3" r="11.7"/><circle cx="1014.0" cy="3445.1" r="11.7"/><circle cx="945.7" cy="3293.5" r="11.7"/><circle cx="1029.4" cy="3020.2" r="11.7"/><circle cx="1207.5" cy="3108.9" r="11.7"/><circle cx="1177.8" cy="3399.4" r="11.7"/><circle cx="1176.0" cy="3265.8" r="11.7"/><circle cx="1063.0" cy="3194.6" r="11.7"/><circle cx="861.1" cy="3005.4" r="11.7"/><circle cx="1153.2" cy="3005.0" r="11.7"/><circle cx="803.2" cy="3136.9" r="11.7"/><circle cx="977.5" cy="2944.2" r="11.7"/><circle cx="945.7" cy="2959.3" r="11.7"/><circle cx="1325.4" cy="3041.3" r="11.7"/><circle cx="1269.7" cy="3314.0" r="11.7"/><circle cx="1117.4" cy="3054.1" r="11.7"/><circle cx="795.2" cy="2904.4" r="11.7"/><circle cx="976.1" cy="3398.2" r="11.7"/><circle cx="889.2" cy="3001.2" r="11.7"/><circle cx="1175.4" cy="3415.2" r="11.7"/><circle cx="942.6" cy="3177.1" r="11.7"/><circle cx="921.8" cy="3112.8" r="11.7"/><circle cx="1127.0" cy="3501.6" r="11.7"/><circle cx="1242.4" cy="3051.4" r="11.7"/><circle cx="976.4" cy="3283.9" r="11.7"/><circle cx="1231.4" cy="3105.4" r="11.7"/><circle cx="963.0" cy="3141.8" r="11.7"/><circle cx="945.1" cy="3177.4" r="11.7"/><circle cx="972.2" cy="3198.3" r="11.7"/><circle cx="1185.1" cy="3382.9" r="11.7"/><circle cx="1088.3" cy="3519.5" r="11.7"/><circle cx="1117.1" cy="3031.7" r="11.7"/><circle cx="1041.0" cy="3025.4" r="11.7"/><circle cx="1204.9" cy="3318.3" r="11.7"/><circle cx="1221.5" cy="3280.5" r="11.7"/><circle cx="908.6" cy="3051.4" r="11.7"/><circle cx="976.9" cy="3129.3" r="11.7"/><circle cx="958.6" cy="3227.7" r="11.7"/><circle cx="1044.1" cy="3048.9" r="11.7"/><circle cx="1215.1" cy="3392.4" r="11.7"/><circle cx="997.1" cy="3449.3" r="11.7"/><circle cx="877.5" cy="3259.4" r="11.7"/><circle cx="943.9" cy="2940.8" r="11.7"/><circle cx="1080.1" cy="3512.0" r="11.7"/><circle cx="980.0" cy="3031.8" r="11.7"/><circle cx="932.1" cy="3378.8" r="11.7"/><circle cx="966.4" cy="3108.6" r="11.7"/><circle cx="976.6" cy="3000.0" r="11.7"/><circle cx="1157.1" cy="3510.7" r="11.7"/><circle cx="910.4" cy="2963.4" r="11.7"/><circle cx="930.8" cy="3105.6" r="11.7"/><circle cx="917.3" cy="3083.4" r="11.7"/><circle cx="1178.2" cy="3143.2" r="11.7"/><circle cx="1169.5" cy="3415.8" r="11.7"/><circle cx="1173.4" cy="3238.9" r="11.7"/><circle cx="1118.1" cy="3057.0" r="11.7"/><circle cx="925.2" cy="3257.9" r="11.7"/><circle cx="976.7" cy="3301.5" r="11.7"/><circle cx="848.3" cy="3225.9" r="11.7"/><circle cx="966.3" cy="3182.1" r="11.7"/><circle cx="974.3" cy="3098.4" r="11.7"/><circle cx="867.3" cy="3242.4" r="11.7"/><circle cx="958.0" cy="3143.7" r="11.7"/><circle cx="1183.9" cy="3085.8" r="11.7"/><circle cx="875.2" cy="3010.4" r="11.7"/><circle cx="1314.3" cy="3063.0" r="11.7"/><circle cx="964.4" cy="2948.8" r="11.7"/><circle cx="952.5" cy="2949.1" r="11.7"/><circle cx="1170.2" cy="3344.2" r="11.7"/><circle cx="980.2" cy="3063.8" r="11.7"/><circle cx="923.9" cy="3316.5" r="11.7"/><circle cx="1183.2" cy="3209.6" r="11.7"/><circle cx="1174.7" cy="3222.1" r="11.7"/><circle cx="1162.8" cy="3040.2" r="11.7"/><circle cx="1165.5" cy="3384.7" r="11.7"/><circle cx="957.3" cy="3350.6" r="11.7"/><circle cx="1336.5" cy="3022.7" r="11.7"/><circle cx="1032.7" cy="2949.1" r="11.7"/><circle cx="953.8" cy="3167.7" r="11.7"/><circle cx="1097.6" cy="3520.7" r="11.7"/><circle cx="1176.0" cy="3324.2" r="11.7"/><circle cx="1119.7" cy="3511.1" r="11.7"/><circle cx="1042.8" cy="3035.5" r="11.7"/><circle cx="1172.1" cy="3052.4" r="11.7"/><circle cx="983.9" cy="2814.5" r="11.7"/><circle cx="1141.5" cy="2901.5" r="11.7"/><circle cx="834.3" cy="3117.9" r="11.7"/><circle cx="972.8" cy="3052.0" r="11.7"/><circle cx="1174.2" cy="3329.5" r="11.7"/><circle cx="1047.5" cy="3484.6" r="11.7"/><circle cx="1215.1" cy="3232.1" r="11.7"/><circle cx="1139.3" cy="2885.5" r="11.7"/><circle cx="904.8" cy="2891.1" r="11.7"/><circle cx="969.5" cy="2943.3" r="11.7"/><circle cx="1181.4" cy="3164.5" r="11.7"/><circle cx="1132.5" cy="3491.8" r="11.7"/><circle cx="976.1" cy="3149.8" r="11.7"/><circle cx="966.3" cy="3065.2" r="11.7"/><circle cx="378.0" cy="2970.2" r="11.7"/><circle cx="1180.9" cy="3138.3" r="11.7"/><circle cx="1048.6" cy="3507.3" r="11.7"/><circle cx="577.2" cy="3185.8" r="11.7"/><circle cx="991.7" cy="3412.6" r="11.7"/><circle cx="919.2" cy="3257.1" r="11.7"/><circle cx="960.5" cy="3107.7" r="11.7"/><circle cx="1204.6" cy="3200.6" r="11.7"/><circle cx="1151.2" cy="3467.8" r="11.7"/><circle cx="807.2" cy="3286.8" r="11.7"/><circle cx="938.9" cy="3078.7" r="11.7"/><circle cx="1104.4" cy="3213.3" r="11.7"/><circle cx="969.6" cy="3279.6" r="11.7"/><circle cx="1219.3" cy="3224.1" r="11.7"/><circle cx="976.2" cy="3278.5" r="11.7"/><circle cx="1027.7" cy="3019.5" r="11.7"/><circle cx="1010.7" cy="3439.2" r="11.7"/><circle cx="978.5" cy="2998.3" r="11.7"/><circle cx="1232.4" cy="3218.7" r="11.7"/><circle cx="1183.7" cy="3244.8" r="11.7"/><circle cx="1168.9" cy="3287.1" r="11.7"/><circle cx="979.3" cy="3331.7" r="11.7"/><circle cx="977.1" cy="3340.6" r="11.7"/><circle cx="921.1" cy="3107.5" r="11.7"/><circle cx="1105.1" cy="3526.9" r="11.7"/><circle cx="1101.1" cy="2913.0" r="11.7"/><circle cx="1085.5" cy="3075.3" r="11.7"/><circle cx="1175.5" cy="3372.4" r="11.7"/><circle cx="1185.2" cy="3339.8" r="11.7"/><circle cx="686.2" cy="2898.2" r="11.7"/><circle cx="1170.3" cy="3371.7" r="11.7"/><circle cx="1115.3" cy="3071.1" r="11.7"/><circle cx="1056.9" cy="3178.2" r="11.7"/><circle cx="1339.5" cy="3229.4" r="11.7"/><circle cx="1169.6" cy="3297.3" r="11.7"/><circle cx="915.0" cy="3163.9" r="11.7"/><circle cx="1192.2" cy="3405.6" r="11.7"/><circle cx="920.0" cy="3122.9" r="11.7"/><circle cx="1113.2" cy="3066.7" r="11.7"/><circle cx="977.7" cy="3001.2" r="11.7"/><circle cx="962.8" cy="3385.6" r="11.7"/><circle cx="860.5" cy="3153.7" r="11.7"/><circle cx="1182.3" cy="3099.1" r="11.7"/><circle cx="1169.2" cy="3397.7" r="11.7"/><circle cx="1144.3" cy="3014.8" r="11.7"/><circle cx="1106.6" cy="3282.6" r="11.7"/><circle cx="1123.0" cy="3510.6" r="11.7"/><circle cx="1170.2" cy="3402.1" r="11.7"/><circle cx="1047.9" cy="3477.6" r="11.7"/><circle cx="971.7" cy="3240.4" r="11.7"/><circle cx="1175.1" cy="3127.1" r="11.7"/><circle cx="833.9" cy="3363.7" r="11.7"/><circle cx="1149.3" cy="3000.5" r="11.7"/><circle cx="887.7" cy="3048.0" r="11.7"/><circle cx="840.0" cy="3365.1" r="11.7"/><circle cx="1179.5" cy="3371.2" r="11.7"/><circle cx="1036.5" cy="3471.7" r="11.7"/><circle cx="983.2" cy="3426.5" r="11.7"/><circle cx="1174.7" cy="3470.7" r="11.7"/><circle cx="975.0" cy="3309.8" r="11.7"/><circle cx="1070.6" cy="3295.1" r="11.7"/><circle cx="995.3" cy="3374.9" r="11.7"/><circle cx="1162.7" cy="3045.4" r="11.7"/><circle cx="1049.7" cy="3102.8" r="11.7"/><circle cx="1222.7" cy="3107.9" r="11.7"/><circle cx="1108.5" cy="3173.3" r="11.7"/><circle cx="1056.3" cy="3507.3" r="11.7"/><circle cx="1142.5" cy="2993.4" r="11.7"/><circle cx="915.0" cy="3317.4" r="11.7"/><circle cx="1111.3" cy="3109.7" r="11.7"/><circle cx="951.1" cy="3041.6" r="11.7"/><circle cx="1186.1" cy="3217.7" r="11.7"/><circle cx="935.5" cy="2862.2" r="11.7"/><circle cx="1155.7" cy="3009.4" r="11.7"/><circle cx="969.7" cy="3239.5" r="11.7"/><circle cx="1002.6" cy="3392.7" r="11.7"/><circle cx="978.8" cy="3164.2" r="11.7"/><circle cx="643.1" cy="3151.1" r="11.7"/><circle cx="1239.0" cy="3119.6" r="11.7"/>
</g><g stroke="#ff0000" stroke-width="3" stroke-dasharray="11.5 7.5" fill="none">
<line x1="958.3" y1="2684.5" x2="958.3" y2="3527.5"/>
<line x1="1223.7" y1="2684.5" x2="1223.7" y2="3527.5"/>
<line x1="262.3" y1="3300" x2="1908" y2="3300"/>
</g>
<g stroke="#000" stroke-width="4" fill="none">
<line x1="257.3" y1="2717.9" x2="257.3" y2="3556.5"/>
<line x1="237.3" y1="3535.5" x2="1924.1000000000001" y2="3535.5"/>
<line x1="237.3" y1="3418.7" x2="278.3" y2="3418.7"/>
<line x1="237.3" y1="3301.9" x2="278.3" y2="3301.9"/>
<line x1="237.3" y1="3185.1" x2="278.3" y2="3185.1"/>
<line x1="237.3" y1="3068.3" x2="278.3" y2="3068.3"/>
<line x1="237.3" y1="2951.5" x2="278.3" y2="2951.5"/>
<line x1="237.3" y1="2834.7" x2="278.3" y2="2834.7"/>
<line x1="237.3" y1="2717.9" x2="278.3" y2="2717.9"/>
<line x1="1368.5" y1="3516.5" x2="1368.5" y2="3556.5"/>
<line x1="1646.3" y1="3516.5" x2="1646.3" y2="3556.5"/>
<line x1="1924.1" y1="3516.5" x2="1924.1" y2="3556.5"/>
</g>
<g font-family="'Liberation Sans', Arial, sans-serif" font-weight="bold" font-size="69" fill="#000" stroke="#fff" stroke-width="1.6">
<text x="200.8" y="3560.0" text-anchor="end">0</text>
<text x="200.8" y="3443.2" text-anchor="end">1</text>
<text x="200.8" y="3326.4" text-anchor="end">2</text>
<text x="200.8" y="3209.6" text-anchor="end">3</text>
<text x="200.8" y="3092.8" text-anchor="end">4</text>
<text x="200.8" y="2976.0" text-anchor="end">5</text>
<text x="200.8" y="2859.2" text-anchor="end">6</text>
<text x="200.8" y="2742.4" text-anchor="end">7</text>
<text x="257.3" y="3640.5" text-anchor="middle">-6</text>
<text x="535.1" y="3640.5" text-anchor="middle">-4</text>
<text x="812.9" y="3640.5" text-anchor="middle">-2</text>
<text x="1090.7" y="3640.5" text-anchor="middle">0</text>
<text x="1368.5" y="3640.5" text-anchor="middle">2</text>
<text x="1646.3" y="3640.5" text-anchor="middle">4</text>
<text x="1924.1" y="3640.5" text-anchor="middle">6</text>
</g><g font-family="'Liberation Sans', Arial, sans-serif" font-weight="bold" fill="#000" stroke="#fff" stroke-width="1.6">
<text transform="translate(10.39,2675) scale(1.0792,1)" font-size="77" stroke="#000" stroke-width="1">(C)</text>
<text transform="translate(209.05,2661) scale(0.9742,1)" font-size="69"><tspan font-style="italic">nfi1</tspan><tspan font-family="'Liberation Serif', 'Times New Roman', serif" font-weight="normal" stroke-width="0">&#916;</tspan></text>
<text transform="translate(323.83,2761.3) scale(0.9515,1)" font-size="69">n = 151</text>
<text transform="translate(1717.23,2763) scale(0.9948,1)" font-size="69">n = 24</text>
<text transform="translate(1331.05,3729) scale(0.9898,1)" font-size="69">log<tspan font-size="46" font-weight="normal" stroke-width="0" dy="12">2</tspan><tspan dy="-12">(</tspan>n<tspan font-style="italic">fi1</tspan><tspan font-family="'Liberation Serif', 'Times New Roman', serif" font-weight="normal" stroke-width="0">&#916;</tspan>: BB/YP)</text>
<text transform="translate(126.3,3115.9) rotate(-90)" text-anchor="middle" font-size="66.7">-log<tspan font-size="44" font-weight="normal" stroke-width="0" dy="11">10</tspan><tspan dy="-11">(</tspan><tspan font-style="italic">p-value</tspan>)</text>
</g>
</svg>
</body></html>
